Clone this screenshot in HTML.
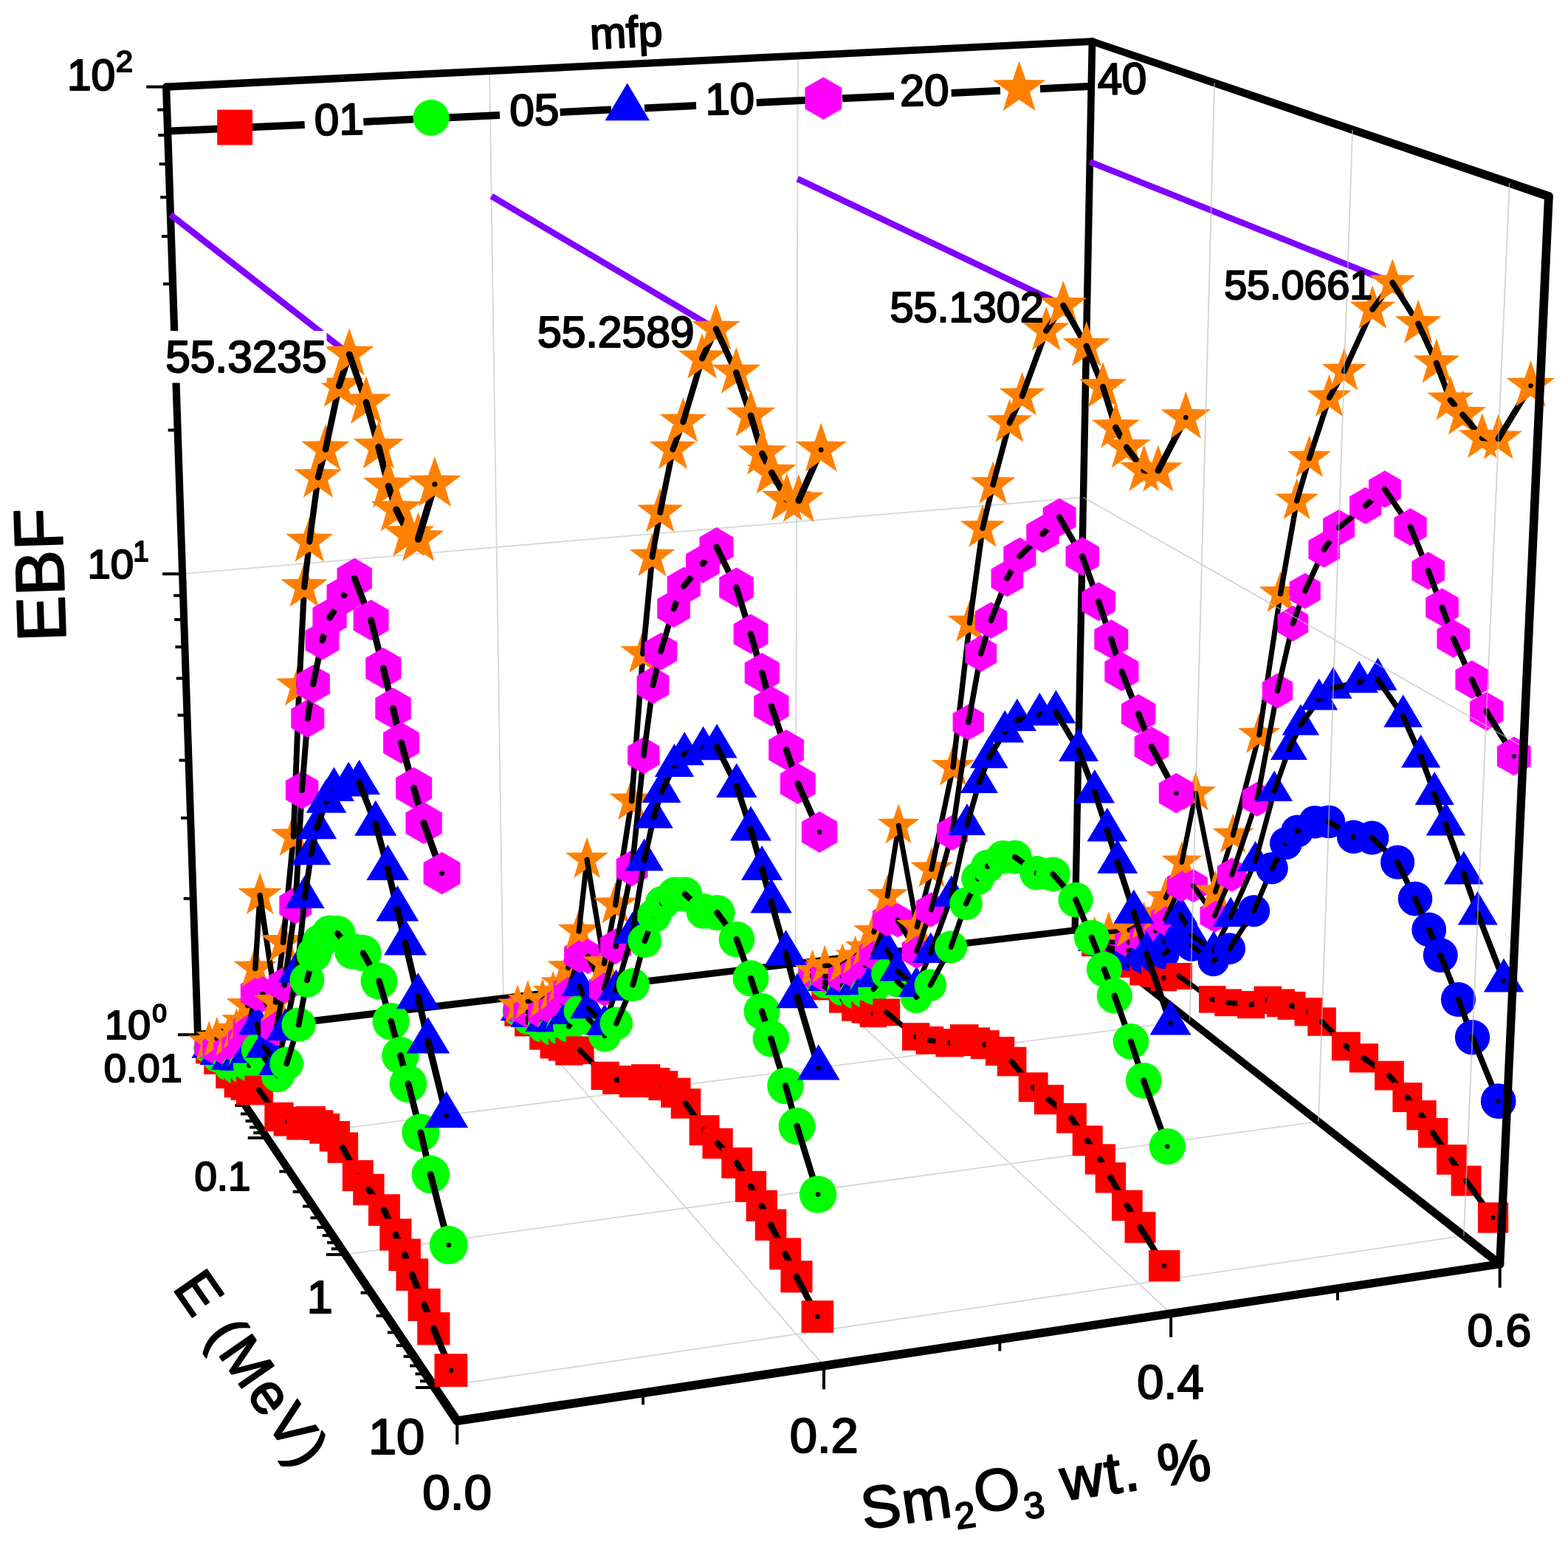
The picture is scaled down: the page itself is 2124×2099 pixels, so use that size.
<!DOCTYPE html>
<html><head><meta charset="utf-8"><title>EBF</title>
<style>html,body{margin:0;padding:0;background:#fff;overflow:hidden}svg{display:block}text{font-family:"Liberation Sans",Arial,sans-serif;fill:#000;stroke:#000;stroke-width:2.2px;stroke-linejoin:round}</style></head>
<body><svg width="2124" height="2099" viewBox="0 0 2124 2099">
<rect width="2124" height="2099" fill="#fff"/>
<line x1="681.8" y1="1351.9" x2="663.1" y2="96.1" stroke="#d6d6d6" stroke-width="1.8" stroke-linecap="butt"/>
<line x1="681.8" y1="1351.9" x2="1116" y2="1849.4" stroke="#d6d6d6" stroke-width="1.8" stroke-linecap="butt"/>
<line x1="1077.5" y1="1304.8" x2="1080.8" y2="75.6" stroke="#d6d6d6" stroke-width="1.8" stroke-linecap="butt"/>
<line x1="1077.5" y1="1304.8" x2="1586.1" y2="1778.8" stroke="#d6d6d6" stroke-width="1.8" stroke-linecap="butt"/>
<line x1="361.7" y1="1540.9" x2="1611.6" y2="1381.9" stroke="#d6d6d6" stroke-width="1.8" stroke-linecap="butt"/>
<line x1="1611.6" y1="1381.9" x2="1645.1" y2="112.3" stroke="#d6d6d6" stroke-width="1.8" stroke-linecap="butt"/>
<line x1="467.9" y1="1698.9" x2="1785.9" y2="1518.8" stroke="#d6d6d6" stroke-width="1.8" stroke-linecap="butt"/>
<line x1="1785.9" y1="1518.8" x2="1832.1" y2="175.7" stroke="#d6d6d6" stroke-width="1.8" stroke-linecap="butt"/>
<line x1="588.9" y1="1879" x2="1982.8" y2="1673.4" stroke="#d6d6d6" stroke-width="1.8" stroke-linecap="butt"/>
<line x1="1982.8" y1="1673.4" x2="2044.8" y2="247.8" stroke="#d6d6d6" stroke-width="1.8" stroke-linecap="butt"/>
<line x1="247.1" y1="777.2" x2="1467.5" y2="673.5" stroke="#d6d6d6" stroke-width="1.8" stroke-linecap="butt"/>
<line x1="1467.5" y1="673.5" x2="2063.8" y2="1011.6" stroke="#d6d6d6" stroke-width="1.8" stroke-linecap="butt"/>
<polygon points="220,117.8 263,1401.3 272.8,1401 230.3,117.4" fill="#000"/>
<circle cx="225.2" cy="117.6" r="5.2" fill="#000"/><circle cx="267.9" cy="1401.2" r="4.9" fill="#000"/>
<polygon points="225.4,122.8 1479.7,60.9 1479.2,51.3 224.9,112.4" fill="#000"/>
<circle cx="225.2" cy="117.6" r="5.2" fill="#000"/><circle cx="1479.5" cy="56.1" r="4.8" fill="#000"/>
<polygon points="1474.6,56 1451.5,1259.7 1460.7,1259.9 1484.3,56.2" fill="#000"/>
<circle cx="1479.5" cy="56.1" r="4.8" fill="#000"/><circle cx="1456.1" cy="1259.8" r="4.6" fill="#000"/>
<polygon points="268.5,1406 1456.6,1264.3 1455.6,1255.2 267.3,1396.3" fill="#000"/>
<circle cx="267.9" cy="1401.2" r="4.9" fill="#000"/><circle cx="1456.1" cy="1259.8" r="4.6" fill="#000"/>
<polygon points="1477.9,60.7 2096,271.4 2099.8,260.2 1481,51.5" fill="#000"/>
<circle cx="1479.5" cy="56.1" r="4.8" fill="#000"/><circle cx="2097.9" cy="265.8" r="5.9" fill="#000"/>
<polygon points="1453.3,1263.4 2028.3,1716.2 2035.1,1707.4 1458.9,1256.2" fill="#000"/>
<circle cx="1456.1" cy="1259.8" r="4.6" fill="#000"/><circle cx="2031.7" cy="1711.8" r="5.6" fill="#000"/>
<polygon points="620.1,1930.1 2032.5,1717.3 2030.9,1706.3 618.3,1918.2" fill="#000"/>
<circle cx="619.2" cy="1924.1" r="6" fill="#000"/><circle cx="2031.7" cy="1711.8" r="5.6" fill="#000"/>
<polygon points="263.8,1403.9 614.2,1927.5 624.2,1920.7 271.9,1398.4" fill="#000"/>
<circle cx="267.9" cy="1401.2" r="4.9" fill="#000"/><circle cx="619.2" cy="1924.1" r="6" fill="#000"/>
<line x1="264.9" y1="1401.2" x2="240.9" y2="1401.2" stroke="#000" stroke-width="4" stroke-linecap="butt"/>
<line x1="258.7" y1="1216.9" x2="248.7" y2="1216.9" stroke="#000" stroke-width="4" stroke-linecap="butt"/>
<line x1="255.1" y1="1107.7" x2="245.1" y2="1107.7" stroke="#000" stroke-width="4" stroke-linecap="butt"/>
<line x1="252.5" y1="1029.6" x2="242.5" y2="1029.6" stroke="#000" stroke-width="4" stroke-linecap="butt"/>
<line x1="250.5" y1="968.6" x2="240.5" y2="968.6" stroke="#000" stroke-width="4" stroke-linecap="butt"/>
<line x1="248.8" y1="918.6" x2="238.8" y2="918.6" stroke="#000" stroke-width="4" stroke-linecap="butt"/>
<line x1="247.4" y1="876.1" x2="237.4" y2="876.1" stroke="#000" stroke-width="4" stroke-linecap="butt"/>
<line x1="246.2" y1="839.1" x2="236.2" y2="839.1" stroke="#000" stroke-width="4" stroke-linecap="butt"/>
<line x1="245.1" y1="806.5" x2="235.1" y2="806.5" stroke="#000" stroke-width="4" stroke-linecap="butt"/>
<line x1="244.1" y1="777.2" x2="220.1" y2="777.2" stroke="#000" stroke-width="4" stroke-linecap="butt"/>
<line x1="237.6" y1="582.5" x2="227.6" y2="582.5" stroke="#000" stroke-width="4" stroke-linecap="butt"/>
<line x1="233.8" y1="467.1" x2="223.8" y2="467.1" stroke="#000" stroke-width="4" stroke-linecap="butt"/>
<line x1="231" y1="384.5" x2="221" y2="384.5" stroke="#000" stroke-width="4" stroke-linecap="butt"/>
<line x1="228.9" y1="320.1" x2="218.9" y2="320.1" stroke="#000" stroke-width="4" stroke-linecap="butt"/>
<line x1="227.1" y1="267.1" x2="217.1" y2="267.1" stroke="#000" stroke-width="4" stroke-linecap="butt"/>
<line x1="225.6" y1="222.2" x2="215.6" y2="222.2" stroke="#000" stroke-width="4" stroke-linecap="butt"/>
<line x1="224.3" y1="183.1" x2="214.3" y2="183.1" stroke="#000" stroke-width="4" stroke-linecap="butt"/>
<line x1="223.2" y1="148.6" x2="213.2" y2="148.6" stroke="#000" stroke-width="4" stroke-linecap="butt"/>
<line x1="222.2" y1="117.6" x2="198.2" y2="117.6" stroke="#000" stroke-width="4" stroke-linecap="butt"/>
<line x1="293" y1="1441.5" x2="281" y2="1441.5" stroke="#000" stroke-width="4" stroke-linecap="butt"/>
<line x1="309.3" y1="1465.7" x2="297.3" y2="1465.7" stroke="#000" stroke-width="4" stroke-linecap="butt"/>
<line x1="321" y1="1483.3" x2="309" y2="1483.3" stroke="#000" stroke-width="4" stroke-linecap="butt"/>
<line x1="330.3" y1="1497" x2="318.3" y2="1497" stroke="#000" stroke-width="4" stroke-linecap="butt"/>
<line x1="337.9" y1="1508.4" x2="325.9" y2="1508.4" stroke="#000" stroke-width="4" stroke-linecap="butt"/>
<line x1="344.5" y1="1518.1" x2="332.5" y2="1518.1" stroke="#000" stroke-width="4" stroke-linecap="butt"/>
<line x1="350.1" y1="1526.6" x2="338.1" y2="1526.6" stroke="#000" stroke-width="4" stroke-linecap="butt"/>
<line x1="355.2" y1="1534.1" x2="343.2" y2="1534.1" stroke="#000" stroke-width="4" stroke-linecap="butt"/>
<line x1="359.7" y1="1540.9" x2="335.7" y2="1540.9" stroke="#000" stroke-width="4" stroke-linecap="butt"/>
<line x1="390.3" y1="1586.4" x2="378.3" y2="1586.4" stroke="#000" stroke-width="4" stroke-linecap="butt"/>
<line x1="408.7" y1="1613.8" x2="396.7" y2="1613.8" stroke="#000" stroke-width="4" stroke-linecap="butt"/>
<line x1="422" y1="1633.6" x2="410" y2="1633.6" stroke="#000" stroke-width="4" stroke-linecap="butt"/>
<line x1="432.5" y1="1649.2" x2="420.5" y2="1649.2" stroke="#000" stroke-width="4" stroke-linecap="butt"/>
<line x1="441.2" y1="1662.1" x2="429.2" y2="1662.1" stroke="#000" stroke-width="4" stroke-linecap="butt"/>
<line x1="448.6" y1="1673.1" x2="436.6" y2="1673.1" stroke="#000" stroke-width="4" stroke-linecap="butt"/>
<line x1="455" y1="1682.7" x2="443" y2="1682.7" stroke="#000" stroke-width="4" stroke-linecap="butt"/>
<line x1="460.7" y1="1691.2" x2="448.7" y2="1691.2" stroke="#000" stroke-width="4" stroke-linecap="butt"/>
<line x1="465.9" y1="1698.9" x2="441.9" y2="1698.9" stroke="#000" stroke-width="4" stroke-linecap="butt"/>
<line x1="500.6" y1="1750.6" x2="488.6" y2="1750.6" stroke="#000" stroke-width="4" stroke-linecap="butt"/>
<line x1="521.6" y1="1781.8" x2="509.6" y2="1781.8" stroke="#000" stroke-width="4" stroke-linecap="butt"/>
<line x1="536.8" y1="1804.4" x2="524.8" y2="1804.4" stroke="#000" stroke-width="4" stroke-linecap="butt"/>
<line x1="548.7" y1="1822.2" x2="536.7" y2="1822.2" stroke="#000" stroke-width="4" stroke-linecap="butt"/>
<line x1="558.6" y1="1836.9" x2="546.6" y2="1836.9" stroke="#000" stroke-width="4" stroke-linecap="butt"/>
<line x1="567.1" y1="1849.5" x2="555.1" y2="1849.5" stroke="#000" stroke-width="4" stroke-linecap="butt"/>
<line x1="574.5" y1="1860.5" x2="562.5" y2="1860.5" stroke="#000" stroke-width="4" stroke-linecap="butt"/>
<line x1="581" y1="1870.3" x2="569" y2="1870.3" stroke="#000" stroke-width="4" stroke-linecap="butt"/>
<line x1="586.9" y1="1879" x2="562.9" y2="1879" stroke="#000" stroke-width="4" stroke-linecap="butt"/>
<line x1="619.2" y1="1924.1" x2="619.2" y2="1956.1" stroke="#000" stroke-width="4" stroke-linecap="butt"/>
<line x1="871.1" y1="1886.3" x2="871.1" y2="1902.3" stroke="#000" stroke-width="4" stroke-linecap="butt"/>
<line x1="1116" y1="1849.4" x2="1116" y2="1881.4" stroke="#000" stroke-width="4" stroke-linecap="butt"/>
<line x1="1354.3" y1="1813.6" x2="1354.3" y2="1829.6" stroke="#000" stroke-width="4" stroke-linecap="butt"/>
<line x1="1586.1" y1="1778.8" x2="1586.1" y2="1810.8" stroke="#000" stroke-width="4" stroke-linecap="butt"/>
<line x1="1811.9" y1="1744.8" x2="1811.9" y2="1760.8" stroke="#000" stroke-width="4" stroke-linecap="butt"/>
<line x1="2031.7" y1="1711.8" x2="2031.7" y2="1743.8" stroke="#000" stroke-width="4" stroke-linecap="butt"/>
<line x1="230.9" y1="290.7" x2="473.1" y2="479.8" stroke="#8000ff" stroke-width="8.5" stroke-linecap="butt"/>
<line x1="665.7" y1="265.7" x2="970" y2="445.6" stroke="#8000ff" stroke-width="8.5" stroke-linecap="butt"/>
<line x1="1080.3" y1="242.1" x2="1440.3" y2="413.6" stroke="#8000ff" stroke-width="8.5" stroke-linecap="butt"/>
<line x1="1476.3" y1="219.2" x2="1886.3" y2="382.9" stroke="#8000ff" stroke-width="8.5" stroke-linecap="butt"/>
<g id="data">
<rect x="1465.1" y="1260.6" width="34.5" height="34.5" fill="#ff0000"/><circle cx="1482.3" cy="1277.8" r="2.5" fill="#000"/>
<circle cx="1482.3" cy="1275.4" r="19.8" fill="#0000ff"/><circle cx="1482.3" cy="1275.4" r="2.6" fill="#000"/>
<polygon points="1482.3,1250.2 1504.8,1287.9 1459.9,1287.9" fill="#0000ff"/><circle cx="1482.3" cy="1275.4" r="2.6" fill="#000"/>
<polygon points="1482.4,1251.4 1501,1262.2 1501,1283.7 1482.4,1294.4 1463.8,1283.7 1463.8,1262.2" fill="#ff00ff"/><circle cx="1482.4" cy="1272.9" r="2.6" fill="#000"/>
<polygon points="1482.5,1240.7 1488.9,1259.2 1508.5,1259.6 1492.9,1271.5 1498.6,1290.3 1482.5,1279.1 1466.4,1290.3 1472.1,1271.5 1456.4,1259.6 1476,1259.2" fill="#ff8000"/><circle cx="1482.5" cy="1268.1" r="2.6" fill="#000"/>
<line x1="1482.3" y1="1277.8" x2="1501.2" y2="1290.1" stroke="#000" stroke-width="6.2" stroke-linecap="round"/>
<line x1="1482.3" y1="1275.4" x2="1501.3" y2="1285.2" stroke="#000" stroke-width="6.2" stroke-linecap="round"/>
<line x1="1482.3" y1="1275.4" x2="1501.4" y2="1282.8" stroke="#000" stroke-width="6.2" stroke-linecap="round"/>
<line x1="1482.4" y1="1272.9" x2="1501.5" y2="1275.7" stroke="#000" stroke-width="6.2" stroke-linecap="round"/>
<line x1="1482.5" y1="1268.1" x2="1501.8" y2="1262.1" stroke="#000" stroke-width="6.2" stroke-linecap="round"/>
<rect x="1483.8" y="1272.8" width="34.7" height="34.7" fill="#ff0000"/><circle cx="1501.2" cy="1290.1" r="2.6" fill="#000"/>
<circle cx="1501.3" cy="1285.2" r="20" fill="#0000ff"/><circle cx="1501.3" cy="1285.2" r="2.6" fill="#000"/>
<polygon points="1501.4,1257.5 1524,1295.5 1478.8,1295.5" fill="#0000ff"/><circle cx="1501.4" cy="1282.8" r="2.6" fill="#000"/>
<polygon points="1501.5,1254.1 1520.3,1264.9 1520.3,1286.5 1501.5,1297.4 1482.8,1286.5 1482.8,1264.9" fill="#ff00ff"/><circle cx="1501.5" cy="1275.7" r="2.6" fill="#000"/>
<polygon points="1501.8,1234.5 1508.3,1253.1 1528.1,1253.5 1512.3,1265.5 1518,1284.4 1501.8,1273.1 1485.6,1284.4 1491.3,1265.5 1475.5,1253.5 1495.3,1253.1" fill="#ff8000"/><circle cx="1501.8" cy="1262.1" r="2.6" fill="#000"/>
<line x1="1501.2" y1="1290.1" x2="1528.3" y2="1306.4" stroke="#000" stroke-width="6.3" stroke-linecap="round"/>
<line x1="1501.3" y1="1285.2" x2="1528.6" y2="1294.4" stroke="#000" stroke-width="6.3" stroke-linecap="round"/>
<line x1="1501.4" y1="1282.8" x2="1528.8" y2="1287.5" stroke="#000" stroke-width="6.3" stroke-linecap="round"/>
<line x1="1501.5" y1="1275.7" x2="1529" y2="1276.4" stroke="#000" stroke-width="6.3" stroke-linecap="round"/>
<line x1="1501.8" y1="1262.1" x2="1529.4" y2="1259.5" stroke="#000" stroke-width="6.3" stroke-linecap="round"/>
<rect x="1510.8" y="1288.8" width="35.1" height="35.1" fill="#ff0000"/><circle cx="1528.3" cy="1306.4" r="2.6" fill="#000"/>
<circle cx="1528.6" cy="1294.4" r="20.2" fill="#0000ff"/><circle cx="1528.6" cy="1294.4" r="2.6" fill="#000"/>
<polygon points="1528.8,1261.9 1551.6,1300.3 1505.9,1300.3" fill="#0000ff"/><circle cx="1528.8" cy="1287.5" r="2.6" fill="#000"/>
<polygon points="1529,1254.5 1548,1265.4 1548,1287.3 1529,1298.3 1510.1,1287.3 1510.1,1265.4" fill="#ff00ff"/><circle cx="1529" cy="1276.4" r="2.6" fill="#000"/>
<polygon points="1529.4,1231.6 1536,1250.5 1555.9,1250.9 1540,1262.9 1545.8,1282.1 1529.4,1270.7 1513,1282.1 1518.8,1262.9 1502.9,1250.9 1522.8,1250.5" fill="#ff8000"/><circle cx="1529.4" cy="1259.5" r="2.6" fill="#000"/>
<line x1="1528.3" y1="1306.4" x2="1548" y2="1316.7" stroke="#000" stroke-width="6.4" stroke-linecap="round"/>
<line x1="1528.6" y1="1294.4" x2="1548.4" y2="1298.1" stroke="#000" stroke-width="6.4" stroke-linecap="round"/>
<line x1="1528.8" y1="1287.5" x2="1548.7" y2="1287.1" stroke="#000" stroke-width="6.4" stroke-linecap="round"/>
<rect x="1082.9" y="1306.1" width="35.2" height="35.2" fill="#ff0000"/><circle cx="1100.5" cy="1323.7" r="2.6" fill="#000"/>
<circle cx="1100.5" cy="1321.2" r="20.3" fill="#00ff00"/><circle cx="1100.5" cy="1321.2" r="2.6" fill="#000"/>
<polygon points="1100.5,1295.5 1123.4,1334 1077.6,1334" fill="#0000ff"/><circle cx="1100.5" cy="1321.2" r="2.6" fill="#000"/>
<line x1="1529" y1="1276.4" x2="1549.1" y2="1270.4" stroke="#000" stroke-width="6.4" stroke-linecap="round"/>
<polygon points="1100.5,1296.7 1119.5,1307.7 1119.5,1329.7 1100.5,1340.7 1081.5,1329.7 1081.5,1307.7" fill="#ff00ff"/><circle cx="1100.5" cy="1318.7" r="2.6" fill="#000"/>
<polygon points="1100.5,1285.8 1107.1,1304.7 1127.2,1305.1 1111.2,1317.3 1117,1336.5 1100.5,1325 1084.1,1336.5 1089.9,1317.3 1073.9,1305.1 1093.9,1304.7" fill="#ff8000"/><circle cx="1100.5" cy="1313.8" r="2.6" fill="#000"/>
<line x1="1529.4" y1="1259.5" x2="1549.6" y2="1249" stroke="#000" stroke-width="6.4" stroke-linecap="round"/>
<rect x="1530.3" y="1299.1" width="35.3" height="35.3" fill="#ff0000"/><circle cx="1548" cy="1316.7" r="2.6" fill="#000"/>
<circle cx="1548.4" cy="1298.1" r="20.3" fill="#0000ff"/><circle cx="1548.4" cy="1298.1" r="2.6" fill="#000"/>
<polygon points="1548.7,1261.3 1571.7,1300 1525.6,1300" fill="#0000ff"/><circle cx="1548.7" cy="1287.1" r="2.6" fill="#000"/>
<line x1="1100.5" y1="1323.7" x2="1117.1" y2="1336.6" stroke="#000" stroke-width="6.4" stroke-linecap="round"/>
<line x1="1100.5" y1="1321.2" x2="1117.1" y2="1331.6" stroke="#000" stroke-width="6.4" stroke-linecap="round"/>
<line x1="1100.5" y1="1321.2" x2="1117.1" y2="1329.2" stroke="#000" stroke-width="6.4" stroke-linecap="round"/>
<line x1="1100.5" y1="1318.7" x2="1117.2" y2="1321.9" stroke="#000" stroke-width="6.4" stroke-linecap="round"/>
<polygon points="1549.1,1248.3 1568.2,1259.3 1568.2,1281.4 1549.1,1292.4 1530,1281.4 1530,1259.3" fill="#ff00ff"/><circle cx="1549.1" cy="1270.4" r="2.6" fill="#000"/>
<line x1="1100.5" y1="1313.8" x2="1117.2" y2="1308" stroke="#000" stroke-width="6.4" stroke-linecap="round"/>
<line x1="1548" y1="1316.7" x2="1563.5" y2="1319.2" stroke="#000" stroke-width="6.4" stroke-linecap="round"/>
<polygon points="1549.6,1220.8 1556.2,1239.9 1576.3,1240.3 1560.3,1252.5 1566.1,1271.7 1549.6,1260.2 1533,1271.7 1538.8,1252.5 1522.8,1240.3 1542.9,1239.9" fill="#ff8000"/><circle cx="1549.6" cy="1249" r="2.6" fill="#000"/>
<line x1="1548.4" y1="1298.1" x2="1564.1" y2="1296.7" stroke="#000" stroke-width="6.4" stroke-linecap="round"/>
<line x1="1548.7" y1="1287.1" x2="1564.3" y2="1286.2" stroke="#000" stroke-width="6.4" stroke-linecap="round"/>
<rect x="1099.3" y="1318.9" width="35.5" height="35.5" fill="#ff0000"/><circle cx="1117.1" cy="1336.6" r="2.6" fill="#000"/>
<circle cx="1117.1" cy="1331.6" r="20.4" fill="#00ff00"/><circle cx="1117.1" cy="1331.6" r="2.6" fill="#000"/>
<line x1="1549.1" y1="1270.4" x2="1564.9" y2="1260.6" stroke="#000" stroke-width="6.4" stroke-linecap="round"/>
<polygon points="1117.1,1303.3 1140.2,1342.1 1094,1342.1" fill="#0000ff"/><circle cx="1117.1" cy="1329.2" r="2.6" fill="#000"/>
<polygon points="1117.2,1299.8 1136.3,1310.9 1136.3,1333 1117.2,1344.1 1098,1333 1098,1310.9" fill="#ff00ff"/><circle cx="1117.2" cy="1321.9" r="2.6" fill="#000"/>
<rect x="1545.8" y="1301.4" width="35.5" height="35.5" fill="#ff0000"/><circle cx="1563.5" cy="1319.2" r="2.6" fill="#000"/>
<line x1="1549.6" y1="1249" x2="1565.5" y2="1237.3" stroke="#000" stroke-width="6.5" stroke-linecap="round"/>
<polygon points="1117.2,1279.8 1123.9,1298.9 1144.1,1299.3 1128,1311.5 1133.8,1330.8 1117.2,1319.3 1100.6,1330.8 1106.5,1311.5 1090.4,1299.3 1110.6,1298.9" fill="#ff8000"/><circle cx="1117.2" cy="1308" r="2.6" fill="#000"/>
<circle cx="1564.1" cy="1296.7" r="20.5" fill="#0000ff"/><circle cx="1564.1" cy="1296.7" r="2.6" fill="#000"/>
<polygon points="1564.3,1260.3 1587.5,1299.1 1541.2,1299.1" fill="#0000ff"/><circle cx="1564.3" cy="1286.2" r="2.6" fill="#000"/>
<line x1="1563.5" y1="1319.2" x2="1576.3" y2="1324.3" stroke="#000" stroke-width="6.5" stroke-linecap="round"/>
<polygon points="1564.9,1238.4 1584.2,1249.5 1584.2,1271.7 1564.9,1282.8 1545.7,1271.7 1545.7,1249.5" fill="#ff00ff"/><circle cx="1564.9" cy="1260.6" r="2.6" fill="#000"/>
<line x1="1564.1" y1="1296.7" x2="1577.1" y2="1291.8" stroke="#000" stroke-width="6.5" stroke-linecap="round"/>
<polygon points="1565.5,1208.9 1572.2,1228.1 1592.4,1228.5 1576.3,1240.8 1582.1,1260.2 1565.5,1248.6 1548.8,1260.2 1554.7,1240.8 1538.6,1228.5 1558.8,1228.1" fill="#ff8000"/><circle cx="1565.5" cy="1237.3" r="2.6" fill="#000"/>
<line x1="1564.3" y1="1286.2" x2="1577.5" y2="1275.9" stroke="#000" stroke-width="6.5" stroke-linecap="round"/>
<line x1="1117.1" y1="1336.6" x2="1140.9" y2="1353.7" stroke="#000" stroke-width="6.5" stroke-linecap="round"/>
<line x1="1117.1" y1="1331.6" x2="1141" y2="1341.5" stroke="#000" stroke-width="6.5" stroke-linecap="round"/>
<rect x="1558.4" y="1306.5" width="35.7" height="35.7" fill="#ff0000"/><circle cx="1576.3" cy="1324.3" r="2.6" fill="#000"/>
<line x1="1117.1" y1="1329.2" x2="1141" y2="1334.5" stroke="#000" stroke-width="6.5" stroke-linecap="round"/>
<line x1="1117.2" y1="1321.9" x2="1141.1" y2="1323.1" stroke="#000" stroke-width="6.5" stroke-linecap="round"/>
<line x1="1564.9" y1="1260.6" x2="1578.2" y2="1245" stroke="#000" stroke-width="6.5" stroke-linecap="round"/>
<line x1="1117.2" y1="1308" x2="1141.2" y2="1305.9" stroke="#000" stroke-width="6.5" stroke-linecap="round"/>
<circle cx="1577.1" cy="1291.8" r="20.6" fill="#0000ff"/><circle cx="1577.1" cy="1291.8" r="2.6" fill="#000"/>
<line x1="1565.5" y1="1237.3" x2="1579" y2="1215.8" stroke="#000" stroke-width="6.5" stroke-linecap="round"/>
<polygon points="1577.5,1249.8 1600.7,1288.9 1554.2,1288.9" fill="#0000ff"/><circle cx="1577.5" cy="1275.9" r="2.6" fill="#000"/>
<polygon points="1578.2,1222.7 1597.6,1233.9 1597.6,1256.2 1578.2,1267.4 1558.9,1256.2 1558.9,1233.9" fill="#ff00ff"/><circle cx="1578.2" cy="1245" r="2.6" fill="#000"/>
<line x1="1576.3" y1="1324.3" x2="1596.9" y2="1322" stroke="#000" stroke-width="6.5" stroke-linecap="round"/>
<rect x="1123" y="1335.8" width="35.9" height="35.9" fill="#ff0000"/><circle cx="1140.9" cy="1353.7" r="2.7" fill="#000"/>
<polygon points="1579,1187.4 1585.7,1206.6 1606.1,1207 1589.8,1219.4 1595.7,1238.9 1579,1227.2 1562.2,1238.9 1568.1,1219.4 1551.9,1207 1572.3,1206.6" fill="#ff8000"/><circle cx="1579" cy="1215.8" r="2.7" fill="#000"/>
<circle cx="1141" cy="1341.5" r="20.6" fill="#00ff00"/><circle cx="1141" cy="1341.5" r="2.7" fill="#000"/>
<polygon points="1141,1308.3 1164.4,1347.5 1117.7,1347.5" fill="#0000ff"/><circle cx="1141" cy="1334.5" r="2.7" fill="#000"/>
<line x1="1577.1" y1="1291.8" x2="1598.3" y2="1270.7" stroke="#000" stroke-width="6.5" stroke-linecap="round"/>
<polygon points="1141.1,1300.7 1160.5,1311.9 1160.5,1334.3 1141.1,1345.5 1121.7,1334.3 1121.7,1311.9" fill="#ff00ff"/><circle cx="1141.1" cy="1323.1" r="2.7" fill="#000"/>
<polygon points="1141.2,1277.3 1147.9,1296.6 1168.3,1297.1 1152,1309.4 1158,1329 1141.2,1317.3 1124.4,1329 1130.3,1309.4 1114,1297.1 1134.5,1296.6" fill="#ff8000"/><circle cx="1141.2" cy="1305.9" r="2.7" fill="#000"/>
<line x1="1577.5" y1="1275.9" x2="1599.1" y2="1238.6" stroke="#000" stroke-width="6.6" stroke-linecap="round"/>
<rect x="1579" y="1304" width="36" height="36" fill="#ff0000"/><circle cx="1596.9" cy="1322" r="2.7" fill="#000"/>
<line x1="1140.9" y1="1353.7" x2="1158.1" y2="1364.7" stroke="#000" stroke-width="6.6" stroke-linecap="round"/>
<line x1="1578.2" y1="1245" x2="1600.1" y2="1198.8" stroke="#000" stroke-width="6.6" stroke-linecap="round"/>
<line x1="1141" y1="1341.5" x2="1158.2" y2="1345.6" stroke="#000" stroke-width="6.6" stroke-linecap="round"/>
<line x1="1141" y1="1334.5" x2="1158.3" y2="1334.4" stroke="#000" stroke-width="6.6" stroke-linecap="round"/>
<line x1="1579" y1="1215.8" x2="1600.9" y2="1167.7" stroke="#000" stroke-width="6.6" stroke-linecap="round"/>
<rect x="683.3" y="1353.7" width="36" height="36" fill="#ff0000"/><circle cx="701.3" cy="1371.7" r="2.7" fill="#000"/>
<circle cx="701.3" cy="1369.1" r="20.7" fill="#00ff00"/><circle cx="701.3" cy="1369.1" r="2.7" fill="#000"/>
<polygon points="701.3,1342.9 724.7,1382.3 677.8,1382.3" fill="#0000ff"/><circle cx="701.3" cy="1369.1" r="2.7" fill="#000"/>
<line x1="1141.1" y1="1323.1" x2="1158.4" y2="1317.3" stroke="#000" stroke-width="6.6" stroke-linecap="round"/>
<polygon points="701.2,1344.1 720.7,1355.4 720.7,1377.8 701.2,1389.1 681.8,1377.8 681.8,1355.4" fill="#ff00ff"/><circle cx="701.2" cy="1366.6" r="2.7" fill="#000"/>
<circle cx="1598.3" cy="1270.7" r="20.7" fill="#0000ff"/><circle cx="1598.3" cy="1270.7" r="2.7" fill="#000"/>
<polygon points="701.2,1332.9 707.9,1352.3 728.4,1352.7 712.1,1365.1 718,1384.8 701.2,1373 684.3,1384.8 690.3,1365.1 673.9,1352.7 694.4,1352.3" fill="#ff8000"/><circle cx="701.2" cy="1361.6" r="2.7" fill="#000"/>
<line x1="1141.2" y1="1305.9" x2="1158.6" y2="1295.5" stroke="#000" stroke-width="6.6" stroke-linecap="round"/>
<polygon points="1599.1,1212.3 1622.6,1251.8 1575.6,1251.8" fill="#0000ff"/><circle cx="1599.1" cy="1238.6" r="2.7" fill="#000"/>
<rect x="1140.1" y="1346.6" width="36.1" height="36.1" fill="#ff0000"/><circle cx="1158.1" cy="1364.7" r="2.7" fill="#000"/>
<circle cx="1158.2" cy="1345.6" r="20.8" fill="#00ff00"/><circle cx="1158.2" cy="1345.6" r="2.7" fill="#000"/>
<line x1="1598.3" y1="1270.7" x2="1614.2" y2="1280.9" stroke="#000" stroke-width="6.6" stroke-linecap="round"/>
<polygon points="1600.1,1176.2 1619.6,1187.5 1619.6,1210 1600.1,1221.3 1580.6,1210 1580.6,1187.5" fill="#ff00ff"/><circle cx="1600.1" cy="1198.8" r="2.7" fill="#000"/>
<polygon points="1158.3,1308 1181.8,1347.6 1134.8,1347.6" fill="#0000ff"/><circle cx="1158.3" cy="1334.4" r="2.7" fill="#000"/>
<line x1="701.3" y1="1371.7" x2="715.4" y2="1385.3" stroke="#000" stroke-width="6.6" stroke-linecap="round"/>
<line x1="701.3" y1="1369.1" x2="715.3" y2="1380.2" stroke="#000" stroke-width="6.6" stroke-linecap="round"/>
<line x1="701.3" y1="1369.1" x2="715.3" y2="1377.7" stroke="#000" stroke-width="6.6" stroke-linecap="round"/>
<line x1="701.2" y1="1366.6" x2="715.2" y2="1370.3" stroke="#000" stroke-width="6.6" stroke-linecap="round"/>
<line x1="1599.1" y1="1238.6" x2="1614.6" y2="1266.9" stroke="#000" stroke-width="6.6" stroke-linecap="round"/>
<polygon points="1158.4,1294.8 1178,1306.1 1178,1328.6 1158.4,1339.9 1138.9,1328.6 1138.9,1306.1" fill="#ff00ff"/><circle cx="1158.4" cy="1317.3" r="2.7" fill="#000"/>
<line x1="701.2" y1="1361.6" x2="715" y2="1356" stroke="#000" stroke-width="6.6" stroke-linecap="round"/>
<polygon points="1600.9,1138.9 1607.7,1158.3 1628.3,1158.8 1611.9,1171.2 1617.8,1190.9 1600.9,1179.2 1584,1190.9 1590,1171.2 1573.5,1158.8 1594.1,1158.3" fill="#ff8000"/><circle cx="1600.9" cy="1167.7" r="2.7" fill="#000"/>
<line x1="1158.1" y1="1364.7" x2="1171.7" y2="1367.4" stroke="#000" stroke-width="6.6" stroke-linecap="round"/>
<polygon points="1158.6,1266.7 1165.3,1286.2 1185.9,1286.6 1169.5,1299.1 1175.5,1318.8 1158.6,1307 1141.6,1318.8 1147.6,1299.1 1131.2,1286.6 1151.8,1286.2" fill="#ff8000"/><circle cx="1158.6" cy="1295.5" r="2.7" fill="#000"/>
<line x1="1596.9" y1="1322" x2="1642.2" y2="1353.4" stroke="#000" stroke-width="6.6" stroke-linecap="round"/>
<circle cx="1614.2" cy="1280.9" r="20.9" fill="#0000ff"/><circle cx="1614.2" cy="1280.9" r="2.7" fill="#000"/>
<line x1="1158.2" y1="1345.6" x2="1171.8" y2="1344.5" stroke="#000" stroke-width="6.6" stroke-linecap="round"/>
<line x1="1600.1" y1="1198.8" x2="1616.4" y2="1199.5" stroke="#000" stroke-width="6.6" stroke-linecap="round"/>
<polygon points="1614.6,1240.5 1638.2,1280.1 1591,1280.1" fill="#0000ff"/><circle cx="1614.6" cy="1266.9" r="2.7" fill="#000"/>
<line x1="1158.3" y1="1334.4" x2="1171.9" y2="1333.8" stroke="#000" stroke-width="6.6" stroke-linecap="round"/>
<rect x="697.2" y="1367.1" width="36.3" height="36.3" fill="#ff0000"/><circle cx="715.4" cy="1385.3" r="2.7" fill="#000"/>
<circle cx="715.3" cy="1380.2" r="20.9" fill="#00ff00"/><circle cx="715.3" cy="1380.2" r="2.7" fill="#000"/>
<line x1="1158.4" y1="1317.3" x2="1172.1" y2="1307.6" stroke="#000" stroke-width="6.7" stroke-linecap="round"/>
<polygon points="715.3,1351.2 738.9,1390.9 691.6,1390.9" fill="#0000ff"/><circle cx="715.3" cy="1377.7" r="2.7" fill="#000"/>
<polygon points="715.2,1347.6 734.8,1358.9 734.8,1381.6 715.2,1392.9 695.6,1381.6 695.6,1358.9" fill="#ff00ff"/><circle cx="715.2" cy="1370.3" r="2.7" fill="#000"/>
<rect x="1153.5" y="1349.3" width="36.3" height="36.3" fill="#ff0000"/><circle cx="1171.7" cy="1367.4" r="2.7" fill="#000"/>
<line x1="1158.6" y1="1295.5" x2="1172.3" y2="1283.8" stroke="#000" stroke-width="6.7" stroke-linecap="round"/>
<polygon points="715,1327.2 721.8,1346.7 742.4,1347.1 726,1359.6 732,1379.4 715,1367.6 698,1379.4 704,1359.6 687.5,1347.1 708.2,1346.7" fill="#ff8000"/><circle cx="715" cy="1356" r="2.7" fill="#000"/>
<circle cx="1171.8" cy="1344.5" r="20.9" fill="#00ff00"/><circle cx="1171.8" cy="1344.5" r="2.7" fill="#000"/>
<polygon points="1616.4,1176.8 1636,1188.2 1636,1210.8 1616.4,1222.2 1596.7,1210.8 1596.7,1188.2" fill="#ff00ff"/><circle cx="1616.4" cy="1199.5" r="2.7" fill="#000"/>
<polygon points="1171.9,1307.2 1195.6,1347 1148.2,1347" fill="#0000ff"/><circle cx="1171.9" cy="1333.8" r="2.7" fill="#000"/>
<line x1="1600.9" y1="1167.7" x2="1619.7" y2="1074.2" stroke="#000" stroke-width="6.7" stroke-linecap="round"/>
<line x1="1171.7" y1="1367.4" x2="1182.9" y2="1372.9" stroke="#000" stroke-width="6.7" stroke-linecap="round"/>
<polygon points="1172.1,1284.9 1191.8,1296.3 1191.8,1319 1172.1,1330.4 1152.4,1319 1152.4,1296.3" fill="#ff00ff"/><circle cx="1172.1" cy="1307.6" r="2.7" fill="#000"/>
<line x1="1614.2" y1="1280.9" x2="1643.7" y2="1301.1" stroke="#000" stroke-width="6.7" stroke-linecap="round"/>
<line x1="1614.6" y1="1266.9" x2="1644.1" y2="1287.1" stroke="#000" stroke-width="6.7" stroke-linecap="round"/>
<line x1="1171.8" y1="1344.5" x2="1183.1" y2="1339.7" stroke="#000" stroke-width="6.7" stroke-linecap="round"/>
<polygon points="1172.3,1254.9 1179.1,1274.5 1199.8,1274.9 1183.3,1287.4 1189.3,1307.3 1172.3,1295.4 1155.2,1307.3 1161.2,1287.4 1144.7,1274.9 1165.4,1274.5" fill="#ff8000"/><circle cx="1172.3" cy="1283.8" r="2.7" fill="#000"/>
<line x1="1171.9" y1="1333.8" x2="1183.2" y2="1323.5" stroke="#000" stroke-width="6.7" stroke-linecap="round"/>
<line x1="715.4" y1="1385.3" x2="735.5" y2="1403.3" stroke="#000" stroke-width="6.7" stroke-linecap="round"/>
<line x1="715.3" y1="1380.2" x2="735.4" y2="1390.8" stroke="#000" stroke-width="6.7" stroke-linecap="round"/>
<rect x="1164.6" y="1354.7" width="36.5" height="36.5" fill="#ff0000"/><circle cx="1182.9" cy="1372.9" r="2.7" fill="#000"/>
<line x1="715.3" y1="1377.7" x2="735.3" y2="1383.6" stroke="#000" stroke-width="6.7" stroke-linecap="round"/>
<line x1="715.2" y1="1370.3" x2="735.1" y2="1372" stroke="#000" stroke-width="6.7" stroke-linecap="round"/>
<line x1="1172.1" y1="1307.6" x2="1183.5" y2="1292" stroke="#000" stroke-width="6.7" stroke-linecap="round"/>
<rect x="1624" y="1335.1" width="36.5" height="36.5" fill="#ff0000"/><circle cx="1642.2" cy="1353.4" r="2.7" fill="#000"/>
<line x1="1616.4" y1="1199.5" x2="1645.4" y2="1240.2" stroke="#000" stroke-width="6.7" stroke-linecap="round"/>
<line x1="715" y1="1356" x2="734.9" y2="1354.4" stroke="#000" stroke-width="6.7" stroke-linecap="round"/>
<circle cx="1183.1" cy="1339.7" r="21" fill="#00ff00"/><circle cx="1183.1" cy="1339.7" r="2.7" fill="#000"/>
<line x1="1172.3" y1="1283.8" x2="1183.7" y2="1262.2" stroke="#000" stroke-width="6.7" stroke-linecap="round"/>
<polygon points="1619.7,1045.1 1626.5,1064.8 1647.3,1065.2 1630.7,1077.8 1636.8,1097.7 1619.7,1085.8 1602.6,1097.7 1608.6,1077.8 1592,1065.2 1612.9,1064.8" fill="#ff8000"/><circle cx="1619.7" cy="1074.2" r="2.7" fill="#000"/>
<polygon points="1183.2,1296.8 1207,1336.8 1159.4,1336.8" fill="#0000ff"/><circle cx="1183.2" cy="1323.5" r="2.7" fill="#000"/>
<circle cx="1643.7" cy="1301.1" r="21.1" fill="#0000ff"/><circle cx="1643.7" cy="1301.1" r="2.7" fill="#000"/>
<polygon points="1183.5,1269.2 1203.2,1280.6 1203.2,1303.4 1183.5,1314.8 1163.7,1303.4 1163.7,1280.6" fill="#ff00ff"/><circle cx="1183.5" cy="1292" r="2.7" fill="#000"/>
<polygon points="1644.1,1260.4 1667.9,1300.5 1620.2,1300.5" fill="#0000ff"/><circle cx="1644.1" cy="1287.1" r="2.7" fill="#000"/>
<line x1="1182.9" y1="1372.9" x2="1200.8" y2="1370.9" stroke="#000" stroke-width="6.7" stroke-linecap="round"/>
<line x1="1619.7" y1="1074.2" x2="1646.3" y2="1207.7" stroke="#000" stroke-width="6.7" stroke-linecap="round"/>
<rect x="717.2" y="1384.9" width="36.7" height="36.7" fill="#ff0000"/><circle cx="735.5" cy="1403.3" r="2.7" fill="#000"/>
<line x1="1642.2" y1="1353.4" x2="1663.7" y2="1357.9" stroke="#000" stroke-width="6.7" stroke-linecap="round"/>
<polygon points="1183.7,1233 1190.5,1252.8 1211.4,1253.2 1194.8,1265.8 1200.8,1285.8 1183.7,1273.9 1166.5,1285.8 1172.6,1265.8 1156,1253.2 1176.8,1252.8" fill="#ff8000"/><circle cx="1183.7" cy="1262.2" r="2.7" fill="#000"/>
<circle cx="735.4" cy="1390.8" r="21.1" fill="#00ff00"/><circle cx="735.4" cy="1390.8" r="2.7" fill="#000"/>
<polygon points="735.3,1356.8 759.2,1397 711.4,1397" fill="#0000ff"/><circle cx="735.3" cy="1383.6" r="2.7" fill="#000"/>
<line x1="1183.1" y1="1339.7" x2="1201.2" y2="1318.6" stroke="#000" stroke-width="6.8" stroke-linecap="round"/>
<polygon points="1645.4,1217.3 1665.2,1228.7 1665.2,1251.6 1645.4,1263.1 1625.5,1251.6 1625.5,1228.7" fill="#ff00ff"/><circle cx="1645.4" cy="1240.2" r="2.7" fill="#000"/>
<polygon points="735.1,1349.1 755,1360.5 755,1383.4 735.1,1394.9 715.3,1383.4 715.3,1360.5" fill="#ff00ff"/><circle cx="735.1" cy="1372" r="2.7" fill="#000"/>
<polygon points="734.9,1325.2 741.8,1345 762.7,1345.4 746,1358 752.1,1378 734.9,1366.1 717.8,1378 723.8,1358 707.1,1345.4 728.1,1345" fill="#ff8000"/><circle cx="734.9" cy="1354.4" r="2.7" fill="#000"/>
<line x1="1183.2" y1="1323.5" x2="1201.5" y2="1285.8" stroke="#000" stroke-width="6.8" stroke-linecap="round"/>
<polygon points="1646.3,1178.5 1653.1,1198.3 1674.1,1198.7 1657.4,1211.3 1663.4,1231.4 1646.3,1219.4 1629.1,1231.4 1635.1,1211.3 1618.5,1198.7 1639.4,1198.3" fill="#ff8000"/><circle cx="1646.3" cy="1207.7" r="2.7" fill="#000"/>
<line x1="1643.7" y1="1301.1" x2="1665.8" y2="1284.6" stroke="#000" stroke-width="6.8" stroke-linecap="round"/>
<rect x="1182.4" y="1352.5" width="36.8" height="36.8" fill="#ff0000"/><circle cx="1200.8" cy="1370.9" r="2.7" fill="#000"/>
<line x1="735.5" y1="1403.3" x2="750.1" y2="1414.8" stroke="#000" stroke-width="6.8" stroke-linecap="round"/>
<line x1="1183.5" y1="1292" x2="1201.8" y2="1245.1" stroke="#000" stroke-width="6.8" stroke-linecap="round"/>
<rect x="1645.3" y="1339.4" width="36.8" height="36.8" fill="#ff0000"/><circle cx="1663.7" cy="1357.9" r="2.7" fill="#000"/>
<line x1="1644.1" y1="1287.1" x2="1667.1" y2="1241.6" stroke="#000" stroke-width="6.8" stroke-linecap="round"/>
<line x1="735.4" y1="1390.8" x2="749.9" y2="1395.4" stroke="#000" stroke-width="6.8" stroke-linecap="round"/>
<line x1="735.3" y1="1383.6" x2="749.7" y2="1383.9" stroke="#000" stroke-width="6.8" stroke-linecap="round"/>
<line x1="1183.7" y1="1262.2" x2="1202.1" y2="1213.4" stroke="#000" stroke-width="6.8" stroke-linecap="round"/>
<rect x="265.1" y="1403.5" width="36.9" height="36.9" fill="#ff0000"/><circle cx="283.5" cy="1421.9" r="2.7" fill="#000"/>
<circle cx="283.4" cy="1419.3" r="21.2" fill="#00ff00"/><circle cx="283.4" cy="1419.3" r="2.7" fill="#000"/>
<polygon points="283.4,1392.4 307.4,1432.7 259.4,1432.7" fill="#0000ff"/><circle cx="283.4" cy="1419.3" r="2.7" fill="#000"/>
<line x1="735.1" y1="1372" x2="749.5" y2="1366.5" stroke="#000" stroke-width="6.8" stroke-linecap="round"/>
<polygon points="283.4,1393.7 303.3,1405.2 303.3,1428.2 283.4,1439.7 263.4,1428.2 263.4,1405.2" fill="#ff00ff"/><circle cx="283.4" cy="1416.7" r="2.7" fill="#000"/>
<circle cx="1201.2" cy="1318.6" r="21.2" fill="#00ff00"/><circle cx="1201.2" cy="1318.6" r="2.7" fill="#000"/>
<polygon points="283.2,1382.3 290.1,1402.1 311.1,1402.5 294.3,1415.2 300.4,1435.3 283.2,1423.3 266,1435.3 272,1415.2 255.3,1402.5 276.3,1402.1" fill="#ff8000"/><circle cx="283.2" cy="1411.6" r="2.7" fill="#000"/>
<line x1="1645.4" y1="1240.2" x2="1668.7" y2="1184.7" stroke="#000" stroke-width="6.8" stroke-linecap="round"/>
<line x1="734.9" y1="1354.4" x2="749.2" y2="1344.2" stroke="#000" stroke-width="6.8" stroke-linecap="round"/>
<polygon points="1201.5,1258.9 1225.5,1299.3 1177.5,1299.3" fill="#0000ff"/><circle cx="1201.5" cy="1285.8" r="2.7" fill="#000"/>
<circle cx="1665.8" cy="1284.6" r="21.3" fill="#0000ff"/><circle cx="1665.8" cy="1284.6" r="2.7" fill="#000"/>
<rect x="731.6" y="1396.4" width="37" height="37" fill="#ff0000"/><circle cx="750.1" cy="1414.8" r="2.7" fill="#000"/>
<line x1="1646.3" y1="1207.7" x2="1670.2" y2="1130.9" stroke="#000" stroke-width="6.8" stroke-linecap="round"/>
<circle cx="749.9" cy="1395.4" r="21.3" fill="#00ff00"/><circle cx="749.9" cy="1395.4" r="2.7" fill="#000"/>
<line x1="1201.2" y1="1318.6" x2="1215.3" y2="1329.3" stroke="#000" stroke-width="6.8" stroke-linecap="round"/>
<polygon points="1201.8,1222 1221.8,1233.6 1221.8,1256.6 1201.8,1268.2 1181.9,1256.6 1181.9,1233.6" fill="#ff00ff"/><circle cx="1201.8" cy="1245.1" r="2.7" fill="#000"/>
<polygon points="749.7,1356.9 773.8,1397.4 725.6,1397.4" fill="#0000ff"/><circle cx="749.7" cy="1383.9" r="2.7" fill="#000"/>
<line x1="283.5" y1="1421.9" x2="294.8" y2="1436.2" stroke="#000" stroke-width="6.8" stroke-linecap="round"/>
<polygon points="1667.1,1214.6 1691.2,1255.1 1643,1255.1" fill="#0000ff"/><circle cx="1667.1" cy="1241.6" r="2.7" fill="#000"/>
<line x1="283.4" y1="1419.3" x2="294.6" y2="1431" stroke="#000" stroke-width="6.8" stroke-linecap="round"/>
<line x1="283.4" y1="1419.3" x2="294.5" y2="1428.4" stroke="#000" stroke-width="6.8" stroke-linecap="round"/>
<line x1="283.4" y1="1416.7" x2="294.3" y2="1420.8" stroke="#000" stroke-width="6.8" stroke-linecap="round"/>
<line x1="1201.5" y1="1285.8" x2="1215.4" y2="1315" stroke="#000" stroke-width="6.8" stroke-linecap="round"/>
<line x1="1663.7" y1="1357.9" x2="1694.7" y2="1360.6" stroke="#000" stroke-width="6.8" stroke-linecap="round"/>
<polygon points="749.5,1343.4 769.5,1355 769.5,1378 749.5,1389.6 729.5,1378 729.5,1355" fill="#ff00ff"/><circle cx="749.5" cy="1366.5" r="2.7" fill="#000"/>
<line x1="283.2" y1="1411.6" x2="293.8" y2="1406.3" stroke="#000" stroke-width="6.8" stroke-linecap="round"/>
<polygon points="1202.1,1183.9 1209,1203.8 1230.1,1204.3 1213.3,1217 1219.4,1237.2 1202.1,1225.1 1184.8,1237.2 1190.9,1217 1174.1,1204.3 1195.2,1203.8" fill="#ff8000"/><circle cx="1202.1" cy="1213.4" r="2.7" fill="#000"/>
<line x1="750.1" y1="1414.8" x2="761.5" y2="1418" stroke="#000" stroke-width="6.8" stroke-linecap="round"/>
<polygon points="749.2,1314.8 756.2,1334.7 777.3,1335.1 760.5,1347.9 766.6,1368 749.2,1356 731.9,1368 738,1347.9 721.2,1335.1 742.3,1334.7" fill="#ff8000"/><circle cx="749.2" cy="1344.2" r="2.7" fill="#000"/>
<line x1="1200.8" y1="1370.9" x2="1240.7" y2="1403.9" stroke="#000" stroke-width="6.9" stroke-linecap="round"/>
<circle cx="1215.3" cy="1329.3" r="21.3" fill="#00ff00"/><circle cx="1215.3" cy="1329.3" r="2.7" fill="#000"/>
<line x1="749.9" y1="1395.4" x2="761.2" y2="1394.6" stroke="#000" stroke-width="6.9" stroke-linecap="round"/>
<polygon points="1668.7,1161.5 1688.7,1173.1 1688.7,1196.2 1668.7,1207.8 1648.7,1196.2 1648.7,1173.1" fill="#ff00ff"/><circle cx="1668.7" cy="1184.7" r="2.7" fill="#000"/>
<line x1="1201.8" y1="1245.1" x2="1216" y2="1246.2" stroke="#000" stroke-width="6.9" stroke-linecap="round"/>
<polygon points="1215.4,1288 1239.6,1328.5 1191.3,1328.5" fill="#0000ff"/><circle cx="1215.4" cy="1315" r="2.7" fill="#000"/>
<line x1="749.7" y1="1383.9" x2="761.1" y2="1383.6" stroke="#000" stroke-width="6.9" stroke-linecap="round"/>
<rect x="276.2" y="1417.6" width="37.2" height="37.2" fill="#ff0000"/><circle cx="294.8" cy="1436.2" r="2.7" fill="#000"/>
<circle cx="294.6" cy="1431" r="21.4" fill="#00ff00"/><circle cx="294.6" cy="1431" r="2.7" fill="#000"/>
<line x1="749.5" y1="1366.5" x2="760.8" y2="1356.9" stroke="#000" stroke-width="6.9" stroke-linecap="round"/>
<polygon points="294.5,1401.3 318.7,1442 270.4,1442" fill="#0000ff"/><circle cx="294.5" cy="1428.4" r="2.7" fill="#000"/>
<polygon points="294.3,1397.7 314.4,1409.3 314.4,1432.4 294.3,1444 274.2,1432.4 274.2,1409.3" fill="#ff00ff"/><circle cx="294.3" cy="1420.8" r="2.8" fill="#000"/>
<rect x="742.9" y="1399.4" width="37.2" height="37.2" fill="#ff0000"/><circle cx="761.5" cy="1418" r="2.8" fill="#000"/>
<polygon points="1670.2,1101.4 1677.2,1121.4 1698.4,1121.8 1681.5,1134.6 1687.6,1154.8 1670.2,1142.8 1652.9,1154.8 1659,1134.6 1642.1,1121.8 1663.3,1121.4" fill="#ff8000"/><circle cx="1670.2" cy="1130.9" r="2.8" fill="#000"/>
<line x1="1665.8" y1="1284.6" x2="1698.6" y2="1233.5" stroke="#000" stroke-width="6.9" stroke-linecap="round"/>
<line x1="749.2" y1="1344.2" x2="760.5" y2="1332.6" stroke="#000" stroke-width="6.9" stroke-linecap="round"/>
<polygon points="293.8,1376.8 300.8,1396.8 322,1397.2 305.1,1410 311.2,1430.2 293.8,1418.2 276.5,1430.2 282.6,1410 265.7,1397.2 286.9,1396.8" fill="#ff8000"/><circle cx="293.8" cy="1406.3" r="2.8" fill="#000"/>
<circle cx="761.2" cy="1394.6" r="21.4" fill="#00ff00"/><circle cx="761.2" cy="1394.6" r="2.8" fill="#000"/>
<polygon points="1216,1223 1236.1,1234.6 1236.1,1257.8 1216,1269.4 1195.9,1257.8 1195.9,1234.6" fill="#ff00ff"/><circle cx="1216" cy="1246.2" r="2.8" fill="#000"/>
<polygon points="761.1,1356.5 785.3,1397.2 736.8,1397.2" fill="#0000ff"/><circle cx="761.1" cy="1383.6" r="2.8" fill="#000"/>
<rect x="1676.1" y="1342" width="37.2" height="37.2" fill="#ff0000"/><circle cx="1694.7" cy="1360.6" r="2.8" fill="#000"/>
<line x1="1202.1" y1="1213.4" x2="1217.2" y2="1118.1" stroke="#000" stroke-width="6.9" stroke-linecap="round"/>
<line x1="761.5" y1="1418" x2="770.9" y2="1423.9" stroke="#000" stroke-width="6.9" stroke-linecap="round"/>
<polygon points="760.8,1333.7 780.9,1345.3 780.9,1368.5 760.8,1380.2 740.6,1368.5 740.6,1345.3" fill="#ff00ff"/><circle cx="760.8" cy="1356.9" r="2.8" fill="#000"/>
<line x1="1667.1" y1="1241.6" x2="1700.6" y2="1166.3" stroke="#000" stroke-width="6.9" stroke-linecap="round"/>
<line x1="1215.3" y1="1329.3" x2="1241.2" y2="1350.5" stroke="#000" stroke-width="6.9" stroke-linecap="round"/>
<line x1="1215.4" y1="1315" x2="1241.4" y2="1336.2" stroke="#000" stroke-width="6.9" stroke-linecap="round"/>
<line x1="761.2" y1="1394.6" x2="770.5" y2="1389.9" stroke="#000" stroke-width="6.9" stroke-linecap="round"/>
<polygon points="760.5,1302.9 767.5,1323 788.7,1323.4 771.8,1336.3 777.9,1356.6 760.5,1344.5 743.1,1356.6 749.2,1336.3 732.3,1323.4 753.5,1323" fill="#ff8000"/><circle cx="760.5" cy="1332.6" r="2.8" fill="#000"/>
<line x1="761.1" y1="1383.6" x2="770.3" y2="1373.4" stroke="#000" stroke-width="6.9" stroke-linecap="round"/>
<line x1="294.8" y1="1436.2" x2="310.9" y2="1455.1" stroke="#000" stroke-width="6.9" stroke-linecap="round"/>
<line x1="294.6" y1="1431" x2="310.5" y2="1442.4" stroke="#000" stroke-width="6.9" stroke-linecap="round"/>
<rect x="752.2" y="1405.2" width="37.4" height="37.4" fill="#ff0000"/><circle cx="770.9" cy="1423.9" r="2.8" fill="#000"/>
<line x1="294.5" y1="1428.4" x2="310.3" y2="1435.1" stroke="#000" stroke-width="6.9" stroke-linecap="round"/>
<line x1="294.3" y1="1420.8" x2="309.9" y2="1423.2" stroke="#000" stroke-width="6.9" stroke-linecap="round"/>
<line x1="760.8" y1="1356.9" x2="770" y2="1341.2" stroke="#000" stroke-width="6.9" stroke-linecap="round"/>
<line x1="1694.7" y1="1360.6" x2="1717.4" y2="1354.4" stroke="#000" stroke-width="6.9" stroke-linecap="round"/>
<rect x="1222" y="1385.2" width="37.4" height="37.4" fill="#ff0000"/><circle cx="1240.7" cy="1403.9" r="2.8" fill="#000"/>
<line x1="1668.7" y1="1184.7" x2="1703.1" y2="1082.2" stroke="#000" stroke-width="6.9" stroke-linecap="round"/>
<line x1="1216" y1="1246.2" x2="1241.8" y2="1288.3" stroke="#000" stroke-width="6.9" stroke-linecap="round"/>
<line x1="293.8" y1="1406.3" x2="309.4" y2="1405.2" stroke="#000" stroke-width="6.9" stroke-linecap="round"/>
<circle cx="770.5" cy="1389.9" r="21.5" fill="#00ff00"/><circle cx="770.5" cy="1389.9" r="2.8" fill="#000"/>
<line x1="760.5" y1="1332.6" x2="769.6" y2="1310.7" stroke="#000" stroke-width="6.9" stroke-linecap="round"/>
<polygon points="1217.2,1088.4 1224.1,1108.5 1245.5,1108.9 1228.5,1121.8 1234.6,1142.2 1217.2,1130 1199.7,1142.2 1205.8,1121.8 1188.9,1108.9 1210.2,1108.5" fill="#ff8000"/><circle cx="1217.2" cy="1118.1" r="2.8" fill="#000"/>
<polygon points="770.3,1346.1 794.7,1387 746,1387" fill="#0000ff"/><circle cx="770.3" cy="1373.4" r="2.8" fill="#000"/>
<circle cx="1698.6" cy="1233.5" r="21.6" fill="#0000ff"/><circle cx="1698.6" cy="1233.5" r="2.8" fill="#000"/>
<circle cx="1241.2" cy="1350.5" r="21.6" fill="#00ff00"/><circle cx="1241.2" cy="1350.5" r="2.8" fill="#000"/>
<polygon points="770,1317.8 790.2,1329.5 790.2,1352.9 770,1364.6 749.7,1352.9 749.7,1329.5" fill="#ff00ff"/><circle cx="770" cy="1341.2" r="2.8" fill="#000"/>
<polygon points="1241.4,1308.8 1265.8,1349.9 1217,1349.9" fill="#0000ff"/><circle cx="1241.4" cy="1336.2" r="2.8" fill="#000"/>
<line x1="1670.2" y1="1130.9" x2="1705.7" y2="995.2" stroke="#000" stroke-width="7" stroke-linecap="round"/>
<line x1="770.9" y1="1423.9" x2="785.8" y2="1422.2" stroke="#000" stroke-width="7" stroke-linecap="round"/>
<line x1="1217.2" y1="1118.1" x2="1242.2" y2="1255.1" stroke="#000" stroke-width="7" stroke-linecap="round"/>
<rect x="292.2" y="1436.4" width="37.6" height="37.6" fill="#ff0000"/><circle cx="310.9" cy="1455.1" r="2.8" fill="#000"/>
<line x1="1240.7" y1="1403.9" x2="1259.5" y2="1408.9" stroke="#000" stroke-width="7" stroke-linecap="round"/>
<polygon points="769.6,1280.9 776.7,1301.1 798,1301.5 781,1314.4 787.2,1334.9 769.6,1322.7 752.1,1334.9 758.3,1314.4 741.3,1301.5 762.6,1301.1" fill="#ff8000"/><circle cx="769.6" cy="1310.7" r="2.8" fill="#000"/>
<rect x="1698.6" y="1335.6" width="37.6" height="37.6" fill="#ff0000"/><circle cx="1717.4" cy="1354.4" r="2.8" fill="#000"/>
<polygon points="1700.6,1138.9 1725,1180 1676.1,1180" fill="#0000ff"/><circle cx="1700.6" cy="1166.3" r="2.8" fill="#000"/>
<circle cx="310.5" cy="1442.4" r="21.6" fill="#00ff00"/><circle cx="310.5" cy="1442.4" r="2.8" fill="#000"/>
<polygon points="310.3,1407.7 334.8,1448.8 285.8,1448.8" fill="#0000ff"/><circle cx="310.3" cy="1435.1" r="2.8" fill="#000"/>
<line x1="770.5" y1="1389.9" x2="785.3" y2="1368.8" stroke="#000" stroke-width="7" stroke-linecap="round"/>
<polygon points="1241.8,1264.8 1262.1,1276.6 1262.1,1300 1241.8,1311.7 1221.6,1300 1221.6,1276.6" fill="#ff00ff"/><circle cx="1241.8" cy="1288.3" r="2.8" fill="#000"/>
<polygon points="309.9,1399.8 330.2,1411.5 330.2,1434.9 309.9,1446.7 289.6,1434.9 289.6,1411.5" fill="#ff00ff"/><circle cx="309.9" cy="1423.2" r="2.8" fill="#000"/>
<polygon points="309.4,1375.3 316.4,1395.6 337.8,1396 320.7,1408.9 326.9,1429.4 309.4,1417.2 291.8,1429.4 298,1408.9 280.9,1396 302.3,1395.6" fill="#ff8000"/><circle cx="309.4" cy="1405.2" r="2.8" fill="#000"/>
<line x1="770.3" y1="1373.4" x2="784.9" y2="1335.3" stroke="#000" stroke-width="7" stroke-linecap="round"/>
<polygon points="1242.2,1225.2 1249.2,1245.4 1270.6,1245.8 1253.6,1258.8 1259.8,1279.3 1242.2,1267.1 1224.6,1279.3 1230.8,1258.8 1213.7,1245.8 1235.1,1245.4" fill="#ff8000"/><circle cx="1242.2" cy="1255.1" r="2.8" fill="#000"/>
<line x1="1698.6" y1="1233.5" x2="1723" y2="1175.7" stroke="#000" stroke-width="7" stroke-linecap="round"/>
<line x1="1241.2" y1="1350.5" x2="1260.3" y2="1334.1" stroke="#000" stroke-width="7" stroke-linecap="round"/>
<line x1="1717.4" y1="1354.4" x2="1735" y2="1358.3" stroke="#000" stroke-width="7" stroke-linecap="round"/>
<rect x="767" y="1403.4" width="37.7" height="37.7" fill="#ff0000"/><circle cx="785.8" cy="1422.2" r="2.8" fill="#000"/>
<line x1="310.9" y1="1455.1" x2="322.5" y2="1467.4" stroke="#000" stroke-width="7" stroke-linecap="round"/>
<line x1="770" y1="1341.2" x2="784.5" y2="1293.7" stroke="#000" stroke-width="7" stroke-linecap="round"/>
<polygon points="1703.1,1058.7 1723.5,1070.5 1723.5,1094 1703.1,1105.7 1682.7,1094 1682.7,1070.5" fill="#ff00ff"/><circle cx="1703.1" cy="1082.2" r="2.8" fill="#000"/>
<rect x="1240.6" y="1390" width="37.7" height="37.7" fill="#ff0000"/><circle cx="1259.5" cy="1408.9" r="2.8" fill="#000"/>
<line x1="1241.4" y1="1336.2" x2="1260.8" y2="1290.1" stroke="#000" stroke-width="7" stroke-linecap="round"/>
<line x1="310.5" y1="1442.4" x2="321.9" y2="1447.5" stroke="#000" stroke-width="7" stroke-linecap="round"/>
<line x1="310.3" y1="1435.1" x2="321.6" y2="1435.8" stroke="#000" stroke-width="7" stroke-linecap="round"/>
<line x1="769.6" y1="1310.7" x2="784.2" y2="1261.2" stroke="#000" stroke-width="7" stroke-linecap="round"/>
<line x1="309.9" y1="1423.2" x2="321" y2="1418" stroke="#000" stroke-width="7" stroke-linecap="round"/>
<circle cx="785.3" cy="1368.8" r="21.7" fill="#00ff00"/><circle cx="785.3" cy="1368.8" r="2.8" fill="#000"/>
<rect x="1716.1" y="1339.4" width="37.8" height="37.8" fill="#ff0000"/><circle cx="1735" cy="1358.3" r="2.8" fill="#000"/>
<line x1="1700.6" y1="1166.3" x2="1726.2" y2="1071.1" stroke="#000" stroke-width="7" stroke-linecap="round"/>
<line x1="1241.8" y1="1288.3" x2="1261.4" y2="1231.9" stroke="#000" stroke-width="7" stroke-linecap="round"/>
<line x1="309.4" y1="1405.2" x2="320.3" y2="1395.3" stroke="#000" stroke-width="7" stroke-linecap="round"/>
<polygon points="784.9,1307.7 809.6,1349.1 760.3,1349.1" fill="#0000ff"/><circle cx="784.9" cy="1335.3" r="2.8" fill="#000"/>
<circle cx="1260.3" cy="1334.1" r="21.8" fill="#00ff00"/><circle cx="1260.3" cy="1334.1" r="2.8" fill="#000"/>
<rect x="303.6" y="1448.5" width="37.8" height="37.8" fill="#ff0000"/><circle cx="322.5" cy="1467.4" r="2.8" fill="#000"/>
<polygon points="1705.7,965.2 1712.8,985.5 1734.3,986 1717.2,999 1723.4,1019.6 1705.7,1007.3 1688,1019.6 1694.3,999 1677.1,986 1698.6,985.5" fill="#ff8000"/><circle cx="1705.7" cy="995.2" r="2.8" fill="#000"/>
<circle cx="1723" cy="1175.7" r="21.8" fill="#0000ff"/><circle cx="1723" cy="1175.7" r="2.8" fill="#000"/>
<line x1="1242.2" y1="1255.1" x2="1262" y2="1177" stroke="#000" stroke-width="7.1" stroke-linecap="round"/>
<circle cx="321.9" cy="1447.5" r="21.8" fill="#00ff00"/><circle cx="321.9" cy="1447.5" r="2.8" fill="#000"/>
<line x1="785.3" y1="1368.8" x2="797.2" y2="1380" stroke="#000" stroke-width="7.1" stroke-linecap="round"/>
<line x1="1735" y1="1358.3" x2="1749.5" y2="1361.9" stroke="#000" stroke-width="7.1" stroke-linecap="round"/>
<polygon points="784.5,1270.1 805,1281.9 805,1305.5 784.5,1317.3 764.1,1305.5 764.1,1281.9" fill="#ff00ff"/><circle cx="784.5" cy="1293.7" r="2.8" fill="#000"/>
<polygon points="321.6,1408.2 346.2,1449.6 296.9,1449.6" fill="#0000ff"/><circle cx="321.6" cy="1435.8" r="2.8" fill="#000"/>
<polygon points="1260.8,1262.5 1285.4,1303.9 1236.1,1303.9" fill="#0000ff"/><circle cx="1260.8" cy="1290.1" r="2.8" fill="#000"/>
<line x1="784.9" y1="1335.3" x2="797.1" y2="1365.4" stroke="#000" stroke-width="7.1" stroke-linecap="round"/>
<line x1="1259.5" y1="1408.9" x2="1286.6" y2="1412.3" stroke="#000" stroke-width="7.1" stroke-linecap="round"/>
<polygon points="321,1394.4 341.5,1406.2 341.5,1429.8 321,1441.7 300.5,1429.8 300.5,1406.2" fill="#ff00ff"/><circle cx="321" cy="1418" r="2.8" fill="#000"/>
<polygon points="784.2,1231.1 791.3,1251.5 812.9,1251.9 795.7,1265 801.9,1285.6 784.2,1273.3 766.5,1285.6 772.7,1265 755.5,1251.9 777.1,1251.5" fill="#ff8000"/><circle cx="784.2" cy="1261.2" r="2.8" fill="#000"/>
<line x1="322.5" y1="1467.4" x2="331.5" y2="1470.9" stroke="#000" stroke-width="7.1" stroke-linecap="round"/>
<polygon points="320.3,1365.1 327.4,1385.5 349,1385.9 331.8,1399 338,1419.7 320.3,1407.3 302.6,1419.7 308.8,1399 291.6,1385.9 313.2,1385.5" fill="#ff8000"/><circle cx="320.3" cy="1395.3" r="2.8" fill="#000"/>
<line x1="1703.1" y1="1082.2" x2="1730.4" y2="935.6" stroke="#000" stroke-width="7.1" stroke-linecap="round"/>
<rect x="1730.5" y="1342.9" width="38" height="38" fill="#ff0000"/><circle cx="1749.5" cy="1361.9" r="2.8" fill="#000"/>
<line x1="785.8" y1="1422.2" x2="819.7" y2="1456.9" stroke="#000" stroke-width="7.1" stroke-linecap="round"/>
<circle cx="797.2" cy="1380" r="21.9" fill="#00ff00"/><circle cx="797.2" cy="1380" r="2.8" fill="#000"/>
<line x1="321.9" y1="1447.5" x2="330.8" y2="1447" stroke="#000" stroke-width="7.1" stroke-linecap="round"/>
<polygon points="1261.4,1208.2 1281.9,1220.1 1281.9,1243.8 1261.4,1255.6 1240.9,1243.8 1240.9,1220.1" fill="#ff00ff"/><circle cx="1261.4" cy="1231.9" r="2.8" fill="#000"/>
<line x1="1723" y1="1175.7" x2="1741.9" y2="1142.1" stroke="#000" stroke-width="7.1" stroke-linecap="round"/>
<line x1="784.5" y1="1293.7" x2="796.4" y2="1295.1" stroke="#000" stroke-width="7.1" stroke-linecap="round"/>
<polygon points="797.1,1337.7 821.8,1379.3 772.3,1379.3" fill="#0000ff"/><circle cx="797.1" cy="1365.4" r="2.8" fill="#000"/>
<line x1="321.6" y1="1435.8" x2="330.4" y2="1435.8" stroke="#000" stroke-width="7.1" stroke-linecap="round"/>
<polygon points="1726.2,1043.4 1751,1084.9 1701.5,1084.9" fill="#0000ff"/><circle cx="1726.2" cy="1071.1" r="2.8" fill="#000"/>
<line x1="321" y1="1418" x2="329.6" y2="1408.6" stroke="#000" stroke-width="7.1" stroke-linecap="round"/>
<rect x="312.5" y="1451.9" width="38.1" height="38.1" fill="#ff0000"/><circle cx="331.5" cy="1470.9" r="2.8" fill="#000"/>
<polygon points="1262,1146.7 1269.1,1167.2 1290.8,1167.7 1273.5,1180.8 1279.8,1201.5 1262,1189.1 1244.2,1201.5 1250.5,1180.8 1233.2,1167.7 1254.9,1167.2" fill="#ff8000"/><circle cx="1262" cy="1177" r="2.8" fill="#000"/>
<line x1="1260.3" y1="1334.1" x2="1288.1" y2="1282.4" stroke="#000" stroke-width="7.1" stroke-linecap="round"/>
<line x1="320.3" y1="1395.3" x2="328.8" y2="1383.7" stroke="#000" stroke-width="7.1" stroke-linecap="round"/>
<circle cx="330.8" cy="1447" r="21.9" fill="#00ff00"/><circle cx="330.8" cy="1447" r="2.8" fill="#000"/>
<line x1="1749.5" y1="1361.9" x2="1772.6" y2="1370.3" stroke="#000" stroke-width="7.1" stroke-linecap="round"/>
<polygon points="796.4,1271.3 817,1283.2 817,1307 796.4,1318.9 775.8,1307 775.8,1283.2" fill="#ff00ff"/><circle cx="796.4" cy="1295.1" r="2.8" fill="#000"/>
<polygon points="330.4,1408 355.2,1449.7 305.6,1449.7" fill="#0000ff"/><circle cx="330.4" cy="1435.8" r="2.8" fill="#000"/>
<rect x="1267.5" y="1393.2" width="38.1" height="38.1" fill="#ff0000"/><circle cx="1286.6" cy="1412.3" r="2.8" fill="#000"/>
<line x1="784.2" y1="1261.2" x2="795.1" y2="1164.2" stroke="#000" stroke-width="7.1" stroke-linecap="round"/>
<circle cx="1741.9" cy="1142.1" r="22" fill="#0000ff"/><circle cx="1741.9" cy="1142.1" r="2.8" fill="#000"/>
<line x1="1705.7" y1="995.2" x2="1734.5" y2="804" stroke="#000" stroke-width="7.1" stroke-linecap="round"/>
<line x1="331.5" y1="1470.9" x2="339" y2="1477.2" stroke="#000" stroke-width="7.1" stroke-linecap="round"/>
<polygon points="329.6,1384.8 350.2,1396.7 350.2,1420.5 329.6,1432.4 309,1420.5 309,1396.7" fill="#ff00ff"/><circle cx="329.6" cy="1408.6" r="2.8" fill="#000"/>
<line x1="1260.8" y1="1290.1" x2="1288.9" y2="1213.7" stroke="#000" stroke-width="7.1" stroke-linecap="round"/>
<line x1="797.2" y1="1380" x2="819.3" y2="1402.3" stroke="#000" stroke-width="7.1" stroke-linecap="round"/>
<line x1="1726.2" y1="1071.1" x2="1745.9" y2="1015.1" stroke="#000" stroke-width="7.1" stroke-linecap="round"/>
<line x1="797.1" y1="1365.4" x2="819.1" y2="1387.7" stroke="#000" stroke-width="7.1" stroke-linecap="round"/>
<line x1="330.8" y1="1447" x2="337.9" y2="1442.5" stroke="#000" stroke-width="7.1" stroke-linecap="round"/>
<polygon points="328.8,1353.3 336,1373.9 357.7,1374.3 340.4,1387.5 346.7,1408.3 328.8,1395.9 311,1408.3 317.3,1387.5 299.9,1374.3 321.7,1373.9" fill="#ff8000"/><circle cx="328.8" cy="1383.7" r="2.8" fill="#000"/>
<line x1="330.4" y1="1435.8" x2="337.4" y2="1425.6" stroke="#000" stroke-width="7.2" stroke-linecap="round"/>
<polygon points="1730.4,911.7 1751.1,923.7 1751.1,947.5 1730.4,959.4 1709.8,947.5 1709.8,923.7" fill="#ff00ff"/><circle cx="1730.4" cy="935.6" r="2.8" fill="#000"/>
<line x1="1741.9" y1="1142.1" x2="1757.2" y2="1125.6" stroke="#000" stroke-width="7.2" stroke-linecap="round"/>
<rect x="319.9" y="1458.1" width="38.3" height="38.3" fill="#ff0000"/><circle cx="339" cy="1477.2" r="2.8" fill="#000"/>
<rect x="1753.5" y="1351.1" width="38.3" height="38.3" fill="#ff0000"/><circle cx="1772.6" cy="1370.3" r="2.8" fill="#000"/>
<line x1="329.6" y1="1408.6" x2="336.4" y2="1392.8" stroke="#000" stroke-width="7.2" stroke-linecap="round"/>
<line x1="1286.6" y1="1412.3" x2="1306.3" y2="1406.4" stroke="#000" stroke-width="7.2" stroke-linecap="round"/>
<rect x="800.6" y="1437.7" width="38.3" height="38.3" fill="#ff0000"/><circle cx="819.7" cy="1456.9" r="2.8" fill="#000"/>
<line x1="1261.4" y1="1231.9" x2="1290" y2="1127.8" stroke="#000" stroke-width="7.2" stroke-linecap="round"/>
<line x1="796.4" y1="1295.1" x2="818.7" y2="1338.7" stroke="#000" stroke-width="7.2" stroke-linecap="round"/>
<circle cx="337.9" cy="1442.5" r="22.1" fill="#00ff00"/><circle cx="337.9" cy="1442.5" r="2.8" fill="#000"/>
<line x1="328.8" y1="1383.7" x2="335.5" y2="1361.6" stroke="#000" stroke-width="7.2" stroke-linecap="round"/>
<polygon points="795.1,1133.7 802.3,1154.4 824.1,1154.8 806.7,1168 813,1188.9 795.1,1176.4 777.2,1188.9 783.5,1168 766.1,1154.8 787.9,1154.4" fill="#ff8000"/><circle cx="795.1" cy="1164.2" r="2.8" fill="#000"/>
<polygon points="337.4,1397.7 362.4,1439.6 312.5,1439.6" fill="#0000ff"/><circle cx="337.4" cy="1425.6" r="2.8" fill="#000"/>
<circle cx="1288.1" cy="1282.4" r="22.1" fill="#00ff00"/><circle cx="1288.1" cy="1282.4" r="2.8" fill="#000"/>
<polygon points="1745.9,987.1 1770.9,1029.1 1720.9,1029.1" fill="#0000ff"/><circle cx="1745.9" cy="1015.1" r="2.8" fill="#000"/>
<circle cx="1757.2" cy="1125.6" r="22.1" fill="#0000ff"/><circle cx="1757.2" cy="1125.6" r="2.8" fill="#000"/>
<line x1="1772.6" y1="1370.3" x2="1790.5" y2="1383.5" stroke="#000" stroke-width="7.2" stroke-linecap="round"/>
<circle cx="819.3" cy="1402.3" r="22.1" fill="#00ff00"/><circle cx="819.3" cy="1402.3" r="2.8" fill="#000"/>
<polygon points="336.4,1368.8 357.2,1380.8 357.2,1404.7 336.4,1416.7 315.7,1404.7 315.7,1380.8" fill="#ff00ff"/><circle cx="336.4" cy="1392.8" r="2.8" fill="#000"/>
<polygon points="819.1,1359.6 844.1,1401.7 794.1,1401.7" fill="#0000ff"/><circle cx="819.1" cy="1387.7" r="2.8" fill="#000"/>
<line x1="1262" y1="1177" x2="1291" y2="1038.8" stroke="#000" stroke-width="7.2" stroke-linecap="round"/>
<line x1="339" y1="1477.2" x2="350.6" y2="1476" stroke="#000" stroke-width="7.2" stroke-linecap="round"/>
<line x1="1730.4" y1="935.6" x2="1751.4" y2="844.3" stroke="#000" stroke-width="7.2" stroke-linecap="round"/>
<line x1="795.1" y1="1164.2" x2="818.4" y2="1304.8" stroke="#000" stroke-width="7.2" stroke-linecap="round"/>
<line x1="819.7" y1="1456.9" x2="835.5" y2="1462.4" stroke="#000" stroke-width="7.2" stroke-linecap="round"/>
<polygon points="335.5,1331.1 342.7,1351.8 364.6,1352.2 347.1,1365.4 353.5,1386.4 335.5,1373.9 317.5,1386.4 323.9,1365.4 306.4,1352.2 328.3,1351.8" fill="#ff8000"/><circle cx="335.5" cy="1361.6" r="2.8" fill="#000"/>
<rect x="1287" y="1387.2" width="38.5" height="38.5" fill="#ff0000"/><circle cx="1306.3" cy="1406.4" r="2.8" fill="#000"/>
<polygon points="1734.5,773.4 1741.7,794.1 1763.6,794.5 1746.1,807.7 1752.5,828.7 1734.5,816.2 1716.5,828.7 1722.9,807.7 1705.4,794.5 1727.3,794.1" fill="#ff8000"/><circle cx="1734.5" cy="804" r="2.8" fill="#000"/>
<polygon points="1288.9,1185.6 1314,1227.7 1263.9,1227.7" fill="#0000ff"/><circle cx="1288.9" cy="1213.7" r="2.8" fill="#000"/>
<line x1="1745.9" y1="1015.1" x2="1761.9" y2="981.6" stroke="#000" stroke-width="7.2" stroke-linecap="round"/>
<line x1="337.9" y1="1442.5" x2="349" y2="1421.4" stroke="#000" stroke-width="7.2" stroke-linecap="round"/>
<polygon points="818.7,1314.7 839.5,1326.7 839.5,1350.7 818.7,1362.7 797.9,1350.7 797.9,1326.7" fill="#ff00ff"/><circle cx="818.7" cy="1338.7" r="2.8" fill="#000"/>
<rect x="1771.3" y="1364.3" width="38.5" height="38.5" fill="#ff0000"/><circle cx="1790.5" cy="1383.5" r="2.8" fill="#000"/>
<line x1="1757.2" y1="1125.6" x2="1781.2" y2="1113.2" stroke="#000" stroke-width="7.2" stroke-linecap="round"/>
<line x1="337.4" y1="1425.6" x2="348" y2="1387.2" stroke="#000" stroke-width="7.2" stroke-linecap="round"/>
<polygon points="818.4,1274.1 825.6,1294.9 847.6,1295.3 830.1,1308.6 836.4,1329.6 818.4,1317 800.4,1329.6 806.7,1308.6 789.3,1295.3 811.2,1294.9" fill="#ff8000"/><circle cx="818.4" cy="1304.8" r="2.9" fill="#000"/>
<line x1="1288.1" y1="1282.4" x2="1308.6" y2="1223.7" stroke="#000" stroke-width="7.2" stroke-linecap="round"/>
<line x1="819.3" y1="1402.3" x2="834.9" y2="1385.9" stroke="#000" stroke-width="7.2" stroke-linecap="round"/>
<line x1="1306.3" y1="1406.4" x2="1321.6" y2="1410.7" stroke="#000" stroke-width="7.2" stroke-linecap="round"/>
<rect x="331.3" y="1456.7" width="38.6" height="38.6" fill="#ff0000"/><circle cx="350.6" cy="1476" r="2.9" fill="#000"/>
<line x1="336.4" y1="1392.8" x2="346.7" y2="1344.6" stroke="#000" stroke-width="7.3" stroke-linecap="round"/>
<polygon points="1290,1103.7 1310.8,1115.7 1310.8,1139.8 1290,1151.8 1269.1,1139.8 1269.1,1115.7" fill="#ff00ff"/><circle cx="1290" cy="1127.8" r="2.9" fill="#000"/>
<rect x="816.2" y="1443.1" width="38.6" height="38.6" fill="#ff0000"/><circle cx="835.5" cy="1462.4" r="2.9" fill="#000"/>
<polygon points="1761.9,953.4 1787,995.6 1736.7,995.6" fill="#0000ff"/><circle cx="1761.9" cy="981.6" r="2.9" fill="#000"/>
<line x1="819.1" y1="1387.7" x2="834.6" y2="1341" stroke="#000" stroke-width="7.3" stroke-linecap="round"/>
<polygon points="1751.4,820.2 1772.2,832.2 1772.2,856.3 1751.4,868.4 1730.5,856.3 1730.5,832.2" fill="#ff00ff"/><circle cx="1751.4" cy="844.3" r="2.9" fill="#000"/>
<line x1="335.5" y1="1361.6" x2="345.8" y2="1311.5" stroke="#000" stroke-width="7.3" stroke-linecap="round"/>
<circle cx="349" cy="1421.4" r="22.3" fill="#00ff00"/><circle cx="349" cy="1421.4" r="2.9" fill="#000"/>
<line x1="1734.5" y1="804" x2="1756.7" y2="678.3" stroke="#000" stroke-width="7.3" stroke-linecap="round"/>
<line x1="1790.5" y1="1383.5" x2="1823.4" y2="1416.8" stroke="#000" stroke-width="7.3" stroke-linecap="round"/>
<rect x="1302.3" y="1391.4" width="38.7" height="38.7" fill="#ff0000"/><circle cx="1321.6" cy="1410.7" r="2.9" fill="#000"/>
<line x1="1288.9" y1="1213.7" x2="1310" y2="1116.7" stroke="#000" stroke-width="7.3" stroke-linecap="round"/>
<line x1="818.7" y1="1338.7" x2="834.1" y2="1281.5" stroke="#000" stroke-width="7.3" stroke-linecap="round"/>
<circle cx="1781.2" cy="1113.2" r="22.3" fill="#0000ff"/><circle cx="1781.2" cy="1113.2" r="2.9" fill="#000"/>
<polygon points="348,1358.9 373.2,1401.3 322.8,1401.3" fill="#0000ff"/><circle cx="348" cy="1387.2" r="2.9" fill="#000"/>
<circle cx="834.9" cy="1385.9" r="22.3" fill="#00ff00"/><circle cx="834.9" cy="1385.9" r="2.9" fill="#000"/>
<polygon points="1291,1008 1298.3,1028.9 1320.3,1029.3 1302.8,1042.6 1309.2,1063.8 1291,1051.2 1272.9,1063.8 1279.3,1042.6 1261.7,1029.3 1283.8,1028.9" fill="#ff8000"/><circle cx="1291" cy="1038.8" r="2.9" fill="#000"/>
<circle cx="1308.6" cy="1223.7" r="22.3" fill="#00ff00"/><circle cx="1308.6" cy="1223.7" r="2.9" fill="#000"/>
<line x1="1751.4" y1="844.3" x2="1767.8" y2="800.2" stroke="#000" stroke-width="7.3" stroke-linecap="round"/>
<line x1="818.4" y1="1304.8" x2="833.6" y2="1225.4" stroke="#000" stroke-width="7.3" stroke-linecap="round"/>
<line x1="349" y1="1421.4" x2="358.6" y2="1433.2" stroke="#000" stroke-width="7.3" stroke-linecap="round"/>
<line x1="1761.9" y1="981.6" x2="1786.8" y2="947.2" stroke="#000" stroke-width="7.3" stroke-linecap="round"/>
<line x1="1321.6" y1="1410.7" x2="1334.4" y2="1414.7" stroke="#000" stroke-width="7.3" stroke-linecap="round"/>
<polygon points="346.7,1320.4 367.7,1332.5 367.7,1356.7 346.7,1368.8 325.8,1356.7 325.8,1332.5" fill="#ff00ff"/><circle cx="346.7" cy="1344.6" r="2.9" fill="#000"/>
<polygon points="834.6,1312.7 859.8,1355.1 809.3,1355.1" fill="#0000ff"/><circle cx="834.6" cy="1341" r="2.9" fill="#000"/>
<line x1="1781.2" y1="1113.2" x2="1799.9" y2="1112.8" stroke="#000" stroke-width="7.3" stroke-linecap="round"/>
<line x1="348" y1="1387.2" x2="358.2" y2="1418.3" stroke="#000" stroke-width="7.3" stroke-linecap="round"/>
<line x1="835.5" y1="1462.4" x2="858.2" y2="1466.5" stroke="#000" stroke-width="7.3" stroke-linecap="round"/>
<polygon points="345.8,1280.6 353,1301.5 375.1,1301.9 357.5,1315.3 363.9,1336.5 345.8,1323.8 327.6,1336.5 334,1315.3 316.4,1301.9 338.5,1301.5" fill="#ff8000"/><circle cx="345.8" cy="1311.5" r="2.9" fill="#000"/>
<line x1="1290" y1="1127.8" x2="1311.8" y2="978.2" stroke="#000" stroke-width="7.3" stroke-linecap="round"/>
<rect x="1803.9" y="1397.4" width="38.9" height="38.9" fill="#ff0000"/><circle cx="1823.4" cy="1416.8" r="2.9" fill="#000"/>
<rect x="1314.9" y="1395.2" width="38.9" height="38.9" fill="#ff0000"/><circle cx="1334.4" cy="1414.7" r="2.9" fill="#000"/>
<line x1="350.6" y1="1476" x2="377.9" y2="1512.5" stroke="#000" stroke-width="7.3" stroke-linecap="round"/>
<circle cx="358.6" cy="1433.2" r="22.4" fill="#00ff00"/><circle cx="358.6" cy="1433.2" r="2.9" fill="#000"/>
<polygon points="1767.8,776 1788.8,788.1 1788.8,812.4 1767.8,824.5 1746.7,812.4 1746.7,788.1" fill="#ff00ff"/><circle cx="1767.8" cy="800.2" r="2.9" fill="#000"/>
<polygon points="1756.7,647.4 1763.9,668.3 1786.1,668.7 1768.4,682.1 1774.8,703.3 1756.7,690.7 1738.5,703.3 1744.9,682.1 1727.2,668.7 1749.4,668.3" fill="#ff8000"/><circle cx="1756.7" cy="678.3" r="2.9" fill="#000"/>
<polygon points="834.1,1257.2 855.1,1269.4 855.1,1293.6 834.1,1305.8 813.1,1293.6 813.1,1269.4" fill="#ff00ff"/><circle cx="834.1" cy="1281.5" r="2.9" fill="#000"/>
<line x1="1308.6" y1="1223.7" x2="1324.6" y2="1189.6" stroke="#000" stroke-width="7.3" stroke-linecap="round"/>
<line x1="346.7" y1="1344.6" x2="356" y2="1346.4" stroke="#000" stroke-width="7.3" stroke-linecap="round"/>
<polygon points="358.2,1389.9 383.5,1432.5 332.8,1432.5" fill="#0000ff"/><circle cx="358.2" cy="1418.3" r="2.9" fill="#000"/>
<polygon points="1310,1088.3 1335.3,1130.9 1284.6,1130.9" fill="#0000ff"/><circle cx="1310" cy="1116.7" r="2.9" fill="#000"/>
<circle cx="1799.9" cy="1112.8" r="22.4" fill="#0000ff"/><circle cx="1799.9" cy="1112.8" r="2.9" fill="#000"/>
<polygon points="1786.8,918.7 1812.2,961.4 1761.4,961.4" fill="#0000ff"/><circle cx="1786.8" cy="947.2" r="2.9" fill="#000"/>
<polygon points="833.6,1194.4 840.9,1215.3 863.1,1215.8 845.4,1229.2 851.9,1250.5 833.6,1237.8 815.4,1250.5 821.8,1229.2 804.1,1215.8 826.3,1215.3" fill="#ff8000"/><circle cx="833.6" cy="1225.4" r="2.9" fill="#000"/>
<line x1="834.9" y1="1385.9" x2="857.3" y2="1333.7" stroke="#000" stroke-width="7.4" stroke-linecap="round"/>
<line x1="1823.4" y1="1416.8" x2="1847.4" y2="1432.8" stroke="#000" stroke-width="7.4" stroke-linecap="round"/>
<line x1="1334.4" y1="1414.7" x2="1354.6" y2="1423.6" stroke="#000" stroke-width="7.4" stroke-linecap="round"/>
<polygon points="356,1322 377.1,1334.2 377.1,1358.6 356,1370.8 335,1358.6 335,1334.2" fill="#ff00ff"/><circle cx="356" cy="1346.4" r="2.9" fill="#000"/>
<rect x="838.7" y="1447" width="39.1" height="39.1" fill="#ff0000"/><circle cx="858.2" cy="1466.5" r="2.9" fill="#000"/>
<line x1="1756.7" y1="678.3" x2="1773.6" y2="620.7" stroke="#000" stroke-width="7.4" stroke-linecap="round"/>
<line x1="345.8" y1="1311.5" x2="352.1" y2="1212.6" stroke="#000" stroke-width="7.4" stroke-linecap="round"/>
<circle cx="1324.6" cy="1189.6" r="22.5" fill="#00ff00"/><circle cx="1324.6" cy="1189.6" r="2.9" fill="#000"/>
<line x1="1291" y1="1038.8" x2="1313.5" y2="843.5" stroke="#000" stroke-width="7.4" stroke-linecap="round"/>
<line x1="834.6" y1="1341" x2="856.8" y2="1263.5" stroke="#000" stroke-width="7.4" stroke-linecap="round"/>
<line x1="1767.8" y1="800.2" x2="1793.6" y2="744.1" stroke="#000" stroke-width="7.4" stroke-linecap="round"/>
<line x1="358.6" y1="1433.2" x2="376.3" y2="1456.6" stroke="#000" stroke-width="7.4" stroke-linecap="round"/>
<line x1="1310" y1="1116.7" x2="1326.4" y2="1059.8" stroke="#000" stroke-width="7.4" stroke-linecap="round"/>
<line x1="1786.8" y1="947.2" x2="1806.1" y2="931.6" stroke="#000" stroke-width="7.4" stroke-linecap="round"/>
<line x1="358.2" y1="1418.3" x2="375.9" y2="1441.7" stroke="#000" stroke-width="7.4" stroke-linecap="round"/>
<line x1="1799.9" y1="1112.8" x2="1833.6" y2="1133.3" stroke="#000" stroke-width="7.4" stroke-linecap="round"/>
<polygon points="1311.8,953.7 1332.9,966 1332.9,990.4 1311.8,1002.6 1290.6,990.4 1290.6,966" fill="#ff00ff"/><circle cx="1311.8" cy="978.2" r="2.9" fill="#000"/>
<line x1="1324.6" y1="1189.6" x2="1337.8" y2="1173" stroke="#000" stroke-width="7.4" stroke-linecap="round"/>
<rect x="1827.8" y="1413.2" width="39.2" height="39.2" fill="#ff0000"/><circle cx="1847.4" cy="1432.8" r="2.9" fill="#000"/>
<polygon points="1773.6,589.5 1780.9,610.6 1803.2,611 1785.5,624.5 1791.9,645.9 1773.6,633.1 1755.3,645.9 1761.7,624.5 1743.9,611 1766.3,610.6" fill="#ff8000"/><circle cx="1773.6" cy="620.7" r="2.9" fill="#000"/>
<rect x="1335" y="1404" width="39.2" height="39.2" fill="#ff0000"/><circle cx="1354.6" cy="1423.6" r="2.9" fill="#000"/>
<line x1="858.2" y1="1466.5" x2="874.6" y2="1461" stroke="#000" stroke-width="7.4" stroke-linecap="round"/>
<rect x="358.3" y="1492.8" width="39.3" height="39.3" fill="#ff0000"/><circle cx="377.9" cy="1512.5" r="2.9" fill="#000"/>
<line x1="834.1" y1="1281.5" x2="856.2" y2="1175.6" stroke="#000" stroke-width="7.4" stroke-linecap="round"/>
<line x1="356" y1="1346.4" x2="374.5" y2="1391.6" stroke="#000" stroke-width="7.4" stroke-linecap="round"/>
<polygon points="1806.1,903 1831.6,946 1780.5,946" fill="#0000ff"/><circle cx="1806.1" cy="931.6" r="2.9" fill="#000"/>
<polygon points="352.1,1181.4 359.5,1202.5 381.8,1203 364,1216.5 370.5,1237.9 352.1,1225.1 333.8,1237.9 340.2,1216.5 322.4,1203 344.8,1202.5" fill="#ff8000"/><circle cx="352.1" cy="1212.6" r="2.9" fill="#000"/>
<circle cx="857.3" cy="1333.7" r="22.6" fill="#00ff00"/><circle cx="857.3" cy="1333.7" r="2.9" fill="#000"/>
<polygon points="1326.4,1031.1 1352,1074.1 1300.8,1074.1" fill="#0000ff"/><circle cx="1326.4" cy="1059.8" r="2.9" fill="#000"/>
<circle cx="1337.8" cy="1173" r="22.6" fill="#00ff00"/><circle cx="1337.8" cy="1173" r="2.9" fill="#000"/>
<polygon points="1793.6,719.6 1814.9,731.9 1814.9,756.4 1793.6,768.7 1772.4,756.4 1772.4,731.9" fill="#ff00ff"/><circle cx="1793.6" cy="744.1" r="2.9" fill="#000"/>
<line x1="1354.6" y1="1423.6" x2="1370.5" y2="1437.6" stroke="#000" stroke-width="7.4" stroke-linecap="round"/>
<circle cx="376.3" cy="1456.6" r="22.6" fill="#00ff00"/><circle cx="376.3" cy="1456.6" r="2.9" fill="#000"/>
<polygon points="375.9,1413 401.5,1456 350.3,1456" fill="#0000ff"/><circle cx="375.9" cy="1441.7" r="2.9" fill="#000"/>
<line x1="833.6" y1="1225.4" x2="855.6" y2="1084.6" stroke="#000" stroke-width="7.5" stroke-linecap="round"/>
<circle cx="1833.6" cy="1133.3" r="22.7" fill="#0000ff"/><circle cx="1833.6" cy="1133.3" r="2.9" fill="#000"/>
<line x1="1311.8" y1="978.2" x2="1328.8" y2="885" stroke="#000" stroke-width="7.5" stroke-linecap="round"/>
<line x1="352.1" y1="1212.6" x2="373.5" y2="1356.9" stroke="#000" stroke-width="7.5" stroke-linecap="round"/>
<line x1="377.9" y1="1512.5" x2="390.4" y2="1518.6" stroke="#000" stroke-width="7.5" stroke-linecap="round"/>
<rect x="854.9" y="1441.2" width="39.4" height="39.4" fill="#ff0000"/><circle cx="874.6" cy="1461" r="2.9" fill="#000"/>
<polygon points="1313.5,812.2 1320.9,833.4 1343.3,833.8 1325.4,847.4 1331.9,868.9 1313.5,856.1 1295.1,868.9 1301.6,847.4 1283.7,833.8 1306.1,833.4" fill="#ff8000"/><circle cx="1313.5" cy="843.5" r="2.9" fill="#000"/>
<polygon points="856.8,1234.7 882.5,1277.8 831.2,1277.8" fill="#0000ff"/><circle cx="856.8" cy="1263.5" r="2.9" fill="#000"/>
<line x1="1847.4" y1="1432.8" x2="1881.9" y2="1456.6" stroke="#000" stroke-width="7.5" stroke-linecap="round"/>
<line x1="1326.4" y1="1059.8" x2="1339.9" y2="1025.7" stroke="#000" stroke-width="7.5" stroke-linecap="round"/>
<line x1="1773.6" y1="620.7" x2="1800.5" y2="538.5" stroke="#000" stroke-width="7.5" stroke-linecap="round"/>
<polygon points="374.5,1367 395.8,1379.3 395.8,1403.9 374.5,1416.2 353.2,1403.9 353.2,1379.3" fill="#ff00ff"/><circle cx="374.5" cy="1391.6" r="2.9" fill="#000"/>
<rect x="1350.8" y="1417.8" width="39.5" height="39.5" fill="#ff0000"/><circle cx="1370.5" cy="1437.6" r="2.9" fill="#000"/>
<line x1="1793.6" y1="744.1" x2="1813.5" y2="714.6" stroke="#000" stroke-width="7.5" stroke-linecap="round"/>
<line x1="1337.8" y1="1173" x2="1358.6" y2="1160.8" stroke="#000" stroke-width="7.5" stroke-linecap="round"/>
<line x1="1806.1" y1="931.6" x2="1841.1" y2="923.7" stroke="#000" stroke-width="7.5" stroke-linecap="round"/>
<polygon points="373.5,1325.5 380.9,1346.8 403.4,1347.2 385.4,1360.8 391.9,1382.4 373.5,1369.5 355,1382.4 361.5,1360.8 343.6,1347.2 366.1,1346.8" fill="#ff8000"/><circle cx="373.5" cy="1356.9" r="2.9" fill="#000"/>
<line x1="857.3" y1="1333.7" x2="873.4" y2="1274.2" stroke="#000" stroke-width="7.5" stroke-linecap="round"/>
<line x1="376.3" y1="1456.6" x2="388.2" y2="1440.4" stroke="#000" stroke-width="7.5" stroke-linecap="round"/>
<line x1="874.6" y1="1461" x2="887.6" y2="1465.8" stroke="#000" stroke-width="7.5" stroke-linecap="round"/>
<line x1="1833.6" y1="1133.3" x2="1858.5" y2="1134.5" stroke="#000" stroke-width="7.5" stroke-linecap="round"/>
<polygon points="856.2,1150.9 877.6,1163.2 877.6,1187.9 856.2,1200.3 834.8,1187.9 834.8,1163.2" fill="#ff00ff"/><circle cx="856.2" cy="1175.6" r="2.9" fill="#000"/>
<rect x="370.6" y="1498.8" width="39.6" height="39.6" fill="#ff0000"/><circle cx="390.4" cy="1518.6" r="2.9" fill="#000"/>
<polygon points="1339.9,996.9 1365.6,1040.2 1314.1,1040.2" fill="#0000ff"/><circle cx="1339.9" cy="1025.7" r="2.9" fill="#000"/>
<line x1="375.9" y1="1441.7" x2="386.9" y2="1394.4" stroke="#000" stroke-width="7.5" stroke-linecap="round"/>
<polygon points="1328.8,860.3 1350.2,872.7 1350.2,897.4 1328.8,909.7 1307.4,897.4 1307.4,872.7" fill="#ff00ff"/><circle cx="1328.8" cy="885" r="2.9" fill="#000"/>
<polygon points="1813.5,689.9 1835,702.3 1835,727 1813.5,739.3 1792.1,727 1792.1,702.3" fill="#ff00ff"/><circle cx="1813.5" cy="714.6" r="2.9" fill="#000"/>
<rect x="1862.1" y="1436.7" width="39.7" height="39.7" fill="#ff0000"/><circle cx="1881.9" cy="1456.6" r="2.9" fill="#000"/>
<line x1="1313.5" y1="843.5" x2="1331.1" y2="715.2" stroke="#000" stroke-width="7.5" stroke-linecap="round"/>
<line x1="1370.5" y1="1437.6" x2="1399.7" y2="1472.3" stroke="#000" stroke-width="7.5" stroke-linecap="round"/>
<rect x="867.7" y="1445.9" width="39.7" height="39.7" fill="#ff0000"/><circle cx="887.6" cy="1465.8" r="2.9" fill="#000"/>
<line x1="856.8" y1="1263.5" x2="872.8" y2="1164.7" stroke="#000" stroke-width="7.5" stroke-linecap="round"/>
<line x1="374.5" y1="1391.6" x2="385.2" y2="1333.6" stroke="#000" stroke-width="7.5" stroke-linecap="round"/>
<circle cx="1358.6" cy="1160.8" r="22.8" fill="#00ff00"/><circle cx="1358.6" cy="1160.8" r="2.9" fill="#000"/>
<polygon points="1800.5,507 1807.9,528.3 1830.5,528.8 1812.5,542.4 1819.1,564 1800.5,551.1 1782,564 1788.5,542.4 1770.5,528.8 1793.1,528.3" fill="#ff8000"/><circle cx="1800.5" cy="538.5" r="2.9" fill="#000"/>
<circle cx="388.2" cy="1440.4" r="22.9" fill="#00ff00"/><circle cx="388.2" cy="1440.4" r="2.9" fill="#000"/>
<circle cx="1858.5" cy="1134.5" r="22.9" fill="#0000ff"/><circle cx="1858.5" cy="1134.5" r="2.9" fill="#000"/>
<polygon points="855.6,1053 863,1074.4 885.6,1074.8 867.6,1088.5 874.1,1110.2 855.6,1097.2 837,1110.2 843.5,1088.5 825.5,1074.8 848.1,1074.4" fill="#ff8000"/><circle cx="855.6" cy="1084.6" r="2.9" fill="#000"/>
<circle cx="873.4" cy="1274.2" r="22.9" fill="#00ff00"/><circle cx="873.4" cy="1274.2" r="2.9" fill="#000"/>
<line x1="1328.8" y1="885" x2="1342.5" y2="840.2" stroke="#000" stroke-width="7.6" stroke-linecap="round"/>
<polygon points="1841.1,894.7 1867,938.2 1815.2,938.2" fill="#0000ff"/><circle cx="1841.1" cy="923.7" r="2.9" fill="#000"/>
<line x1="373.5" y1="1356.9" x2="383.6" y2="1276.2" stroke="#000" stroke-width="7.6" stroke-linecap="round"/>
<line x1="1339.9" y1="1025.7" x2="1361.2" y2="990.9" stroke="#000" stroke-width="7.6" stroke-linecap="round"/>
<line x1="887.6" y1="1465.8" x2="898.3" y2="1470.1" stroke="#000" stroke-width="7.6" stroke-linecap="round"/>
<line x1="1881.9" y1="1456.6" x2="1906.4" y2="1486" stroke="#000" stroke-width="7.6" stroke-linecap="round"/>
<polygon points="386.9,1365.4 412.8,1408.9 361,1408.9" fill="#0000ff"/><circle cx="386.9" cy="1394.4" r="2.9" fill="#000"/>
<line x1="1358.6" y1="1160.8" x2="1374.9" y2="1160.7" stroke="#000" stroke-width="7.6" stroke-linecap="round"/>
<line x1="390.4" y1="1518.6" x2="408.3" y2="1523.5" stroke="#000" stroke-width="7.6" stroke-linecap="round"/>
<line x1="1800.5" y1="538.5" x2="1820.8" y2="502.8" stroke="#000" stroke-width="7.6" stroke-linecap="round"/>
<line x1="856.2" y1="1175.6" x2="871.9" y2="1022.9" stroke="#000" stroke-width="7.6" stroke-linecap="round"/>
<rect x="1379.7" y="1452.3" width="39.9" height="39.9" fill="#ff0000"/><circle cx="1399.7" cy="1472.3" r="3" fill="#000"/>
<rect x="878.4" y="1450.2" width="39.9" height="39.9" fill="#ff0000"/><circle cx="898.3" cy="1470.1" r="3" fill="#000"/>
<polygon points="1342.5,815.3 1364,827.7 1364,852.6 1342.5,865.1 1320.9,852.6 1320.9,827.7" fill="#ff00ff"/><circle cx="1342.5" cy="840.2" r="3" fill="#000"/>
<polygon points="1331.1,683.5 1338.5,704.9 1361.2,705.4 1343.1,719.1 1349.7,740.8 1331.1,727.9 1312.4,740.8 1319,719.1 1300.9,705.4 1323.6,704.9" fill="#ff8000"/><circle cx="1331.1" cy="715.2" r="3" fill="#000"/>
<polygon points="385.2,1308.7 406.8,1321.2 406.8,1346 385.2,1358.5 363.7,1346 363.7,1321.2" fill="#ff00ff"/><circle cx="385.2" cy="1333.6" r="3" fill="#000"/>
<line x1="1813.5" y1="714.6" x2="1849.7" y2="684.8" stroke="#000" stroke-width="7.6" stroke-linecap="round"/>
<line x1="873.4" y1="1274.2" x2="886.3" y2="1239.6" stroke="#000" stroke-width="7.6" stroke-linecap="round"/>
<line x1="1841.1" y1="923.7" x2="1866.4" y2="920.1" stroke="#000" stroke-width="7.6" stroke-linecap="round"/>
<polygon points="872.8,1135.6 898.8,1179.3 846.8,1179.3" fill="#0000ff"/><circle cx="872.8" cy="1164.7" r="3" fill="#000"/>
<rect x="1886.4" y="1466" width="40" height="40" fill="#ff0000"/><circle cx="1906.4" cy="1486" r="3" fill="#000"/>
<line x1="1858.5" y1="1134.5" x2="1893.1" y2="1167.7" stroke="#000" stroke-width="7.6" stroke-linecap="round"/>
<circle cx="1374.9" cy="1160.7" r="23" fill="#00ff00"/><circle cx="1374.9" cy="1160.7" r="3" fill="#000"/>
<polygon points="1361.2,961.8 1387.2,1005.5 1335.1,1005.5" fill="#0000ff"/><circle cx="1361.2" cy="990.9" r="3" fill="#000"/>
<polygon points="383.6,1244.4 391.1,1265.9 413.9,1266.3 395.7,1280.1 402.3,1301.9 383.6,1288.9 364.9,1301.9 371.5,1280.1 353.4,1266.3 376.1,1265.9" fill="#ff8000"/><circle cx="383.6" cy="1276.2" r="3" fill="#000"/>
<line x1="388.2" y1="1440.4" x2="404.6" y2="1387.6" stroke="#000" stroke-width="7.6" stroke-linecap="round"/>
<polygon points="1820.8,471 1828.3,492.5 1851.1,493 1832.9,506.8 1839.5,528.5 1820.8,515.5 1802.1,528.5 1808.7,506.8 1790.6,493 1813.3,492.5" fill="#ff8000"/><circle cx="1820.8" cy="502.8" r="3" fill="#000"/>
<line x1="1399.7" y1="1472.3" x2="1420.9" y2="1489.2" stroke="#000" stroke-width="7.6" stroke-linecap="round"/>
<line x1="898.3" y1="1470.1" x2="915.5" y2="1479.8" stroke="#000" stroke-width="7.6" stroke-linecap="round"/>
<line x1="1906.4" y1="1486" x2="1925.5" y2="1510.1" stroke="#000" stroke-width="7.6" stroke-linecap="round"/>
<rect x="388.2" y="1503.5" width="40.1" height="40.1" fill="#ff0000"/><circle cx="408.3" cy="1523.5" r="3" fill="#000"/>
<line x1="1331.1" y1="715.2" x2="1345.1" y2="656.4" stroke="#000" stroke-width="7.6" stroke-linecap="round"/>
<circle cx="886.3" cy="1239.6" r="23.1" fill="#00ff00"/><circle cx="886.3" cy="1239.6" r="3" fill="#000"/>
<line x1="855.6" y1="1084.6" x2="871" y2="885.1" stroke="#000" stroke-width="7.6" stroke-linecap="round"/>
<polygon points="1866.4,890.8 1892.5,934.7 1840.3,934.7" fill="#0000ff"/><circle cx="1866.4" cy="920.1" r="3" fill="#000"/>
<line x1="386.9" y1="1394.4" x2="402.6" y2="1315.8" stroke="#000" stroke-width="7.7" stroke-linecap="round"/>
<line x1="1342.5" y1="840.2" x2="1364.3" y2="783.1" stroke="#000" stroke-width="7.7" stroke-linecap="round"/>
<line x1="872.8" y1="1164.7" x2="885.5" y2="1106.8" stroke="#000" stroke-width="7.7" stroke-linecap="round"/>
<line x1="1361.2" y1="990.9" x2="1377.8" y2="975.3" stroke="#000" stroke-width="7.7" stroke-linecap="round"/>
<circle cx="1893.1" cy="1167.7" r="23.1" fill="#0000ff"/><circle cx="1893.1" cy="1167.7" r="3" fill="#000"/>
<polygon points="1849.7,659.7 1871.4,672.3 1871.4,697.3 1849.7,709.8 1828,697.3 1828,672.3" fill="#ff00ff"/><circle cx="1849.7" cy="684.8" r="3" fill="#000"/>
<rect x="1905.4" y="1490.1" width="40.2" height="40.2" fill="#ff0000"/><circle cx="1925.5" cy="1510.1" r="3" fill="#000"/>
<line x1="1374.9" y1="1160.7" x2="1404.6" y2="1182.2" stroke="#000" stroke-width="7.7" stroke-linecap="round"/>
<polygon points="871.9,997.9 893.6,1010.4 893.6,1035.5 871.9,1048 850.2,1035.5 850.2,1010.4" fill="#ff00ff"/><circle cx="871.9" cy="1022.9" r="3" fill="#000"/>
<line x1="886.3" y1="1239.6" x2="897" y2="1222.9" stroke="#000" stroke-width="7.7" stroke-linecap="round"/>
<rect x="1400.8" y="1469" width="40.2" height="40.2" fill="#ff0000"/><circle cx="1420.9" cy="1489.2" r="3" fill="#000"/>
<polygon points="1345.1,624.4 1352.6,646 1375.5,646.5 1357.2,660.3 1363.9,682.2 1345.1,669.1 1326.3,682.2 1332.9,660.3 1314.7,646.5 1337.6,646" fill="#ff8000"/><circle cx="1345.1" cy="656.4" r="3" fill="#000"/>
<rect x="895.3" y="1459.6" width="40.2" height="40.2" fill="#ff0000"/><circle cx="915.5" cy="1479.8" r="3" fill="#000"/>
<line x1="408.3" y1="1523.5" x2="421" y2="1518.3" stroke="#000" stroke-width="7.7" stroke-linecap="round"/>
<line x1="385.2" y1="1333.6" x2="400.2" y2="1225.8" stroke="#000" stroke-width="7.7" stroke-linecap="round"/>
<line x1="1925.5" y1="1510.1" x2="1941.2" y2="1534.2" stroke="#000" stroke-width="7.7" stroke-linecap="round"/>
<polygon points="1377.8,945.9 1404,990 1351.6,990" fill="#0000ff"/><circle cx="1377.8" cy="975.3" r="3" fill="#000"/>
<line x1="1893.1" y1="1167.7" x2="1917" y2="1217.1" stroke="#000" stroke-width="7.7" stroke-linecap="round"/>
<circle cx="404.6" cy="1387.6" r="23.2" fill="#00ff00"/><circle cx="404.6" cy="1387.6" r="3" fill="#000"/>
<line x1="1866.4" y1="920.1" x2="1900.7" y2="969.9" stroke="#000" stroke-width="7.7" stroke-linecap="round"/>
<polygon points="885.5,1077.4 911.8,1121.4 859.3,1121.4" fill="#0000ff"/><circle cx="885.5" cy="1106.8" r="3" fill="#000"/>
<line x1="1820.8" y1="502.8" x2="1859.2" y2="418.8" stroke="#000" stroke-width="7.7" stroke-linecap="round"/>
<circle cx="897" cy="1222.9" r="23.2" fill="#00ff00"/><circle cx="897" cy="1222.9" r="3" fill="#000"/>
<polygon points="1364.3,758 1386.1,770.5 1386.1,795.7 1364.3,808.3 1342.5,795.7 1342.5,770.5" fill="#ff00ff"/><circle cx="1364.3" cy="783.1" r="3" fill="#000"/>
<line x1="915.5" y1="1479.8" x2="929" y2="1494.4" stroke="#000" stroke-width="7.7" stroke-linecap="round"/>
<rect x="1921" y="1514" width="40.4" height="40.4" fill="#ff0000"/><circle cx="1941.2" cy="1534.2" r="3" fill="#000"/>
<line x1="1849.7" y1="684.8" x2="1875.9" y2="662.6" stroke="#000" stroke-width="7.7" stroke-linecap="round"/>
<line x1="383.6" y1="1276.2" x2="397.6" y2="1132.7" stroke="#000" stroke-width="7.7" stroke-linecap="round"/>
<circle cx="1404.6" cy="1182.2" r="23.3" fill="#00ff00"/><circle cx="1404.6" cy="1182.2" r="3" fill="#000"/>
<line x1="871.9" y1="1022.9" x2="884.5" y2="927.9" stroke="#000" stroke-width="7.7" stroke-linecap="round"/>
<circle cx="1917" cy="1217.1" r="23.3" fill="#0000ff"/><circle cx="1917" cy="1217.1" r="3" fill="#000"/>
<rect x="400.7" y="1498.1" width="40.4" height="40.4" fill="#ff0000"/><circle cx="421" cy="1518.3" r="3" fill="#000"/>
<polygon points="871,853 878.5,874.7 901.5,875.2 883.2,889.1 889.9,911.1 871,898 852.1,911.1 858.8,889.1 840.4,875.2 863.4,874.7" fill="#ff8000"/><circle cx="871" cy="885.1" r="3" fill="#000"/>
<polygon points="402.6,1286.3 428.9,1330.5 376.3,1330.5" fill="#0000ff"/><circle cx="402.6" cy="1315.8" r="3" fill="#000"/>
<line x1="1420.9" y1="1489.2" x2="1451.4" y2="1514.2" stroke="#000" stroke-width="7.7" stroke-linecap="round"/>
<line x1="885.5" y1="1106.8" x2="896.2" y2="1072.2" stroke="#000" stroke-width="7.7" stroke-linecap="round"/>
<line x1="1345.1" y1="656.4" x2="1367.5" y2="572.6" stroke="#000" stroke-width="7.7" stroke-linecap="round"/>
<rect x="908.8" y="1474.2" width="40.5" height="40.5" fill="#ff0000"/><circle cx="929" cy="1494.4" r="3" fill="#000"/>
<line x1="1941.2" y1="1534.2" x2="1966.3" y2="1570.4" stroke="#000" stroke-width="7.8" stroke-linecap="round"/>
<line x1="1364.3" y1="783.1" x2="1381.3" y2="753.1" stroke="#000" stroke-width="7.8" stroke-linecap="round"/>
<polygon points="1900.7,940.4 1927,984.7 1874.3,984.7" fill="#0000ff"/><circle cx="1900.7" cy="969.9" r="3" fill="#000"/>
<line x1="897" y1="1222.9" x2="914.3" y2="1210.8" stroke="#000" stroke-width="7.8" stroke-linecap="round"/>
<line x1="1917" y1="1217.1" x2="1935.7" y2="1259" stroke="#000" stroke-width="7.8" stroke-linecap="round"/>
<line x1="1377.8" y1="975.3" x2="1408.3" y2="967.7" stroke="#000" stroke-width="7.8" stroke-linecap="round"/>
<line x1="404.6" y1="1387.6" x2="415.9" y2="1327.2" stroke="#000" stroke-width="7.8" stroke-linecap="round"/>
<polygon points="1875.9,637.3 1897.8,649.9 1897.8,675.2 1875.9,687.8 1854,675.2 1854,649.9" fill="#ff00ff"/><circle cx="1875.9" cy="662.6" r="3" fill="#000"/>
<line x1="421" y1="1518.3" x2="431.2" y2="1523.6" stroke="#000" stroke-width="7.8" stroke-linecap="round"/>
<line x1="1404.6" y1="1182.2" x2="1426.4" y2="1183.9" stroke="#000" stroke-width="7.8" stroke-linecap="round"/>
<polygon points="400.2,1200.5 422.1,1213.2 422.1,1238.5 400.2,1251.2 378.3,1238.5 378.3,1213.2" fill="#ff00ff"/><circle cx="400.2" cy="1225.8" r="3" fill="#000"/>
<polygon points="896.2,1042.6 922.6,1087 869.8,1087" fill="#0000ff"/><circle cx="896.2" cy="1072.2" r="3" fill="#000"/>
<circle cx="1935.7" cy="1259" r="23.4" fill="#0000ff"/><circle cx="1935.7" cy="1259" r="3" fill="#000"/>
<polygon points="884.5,902.6 906.4,915.2 906.4,940.6 884.5,953.2 862.6,940.6 862.6,915.2" fill="#ff00ff"/><circle cx="884.5" cy="927.9" r="3" fill="#000"/>
<polygon points="1859.2,386.5 1866.8,408.3 1889.9,408.8 1871.5,422.8 1878.2,444.9 1859.2,431.7 1840.2,444.9 1846.9,422.8 1828.5,408.8 1851.6,408.3" fill="#ff8000"/><circle cx="1859.2" cy="418.8" r="3" fill="#000"/>
<line x1="1900.7" y1="969.9" x2="1924.7" y2="1024.5" stroke="#000" stroke-width="7.8" stroke-linecap="round"/>
<rect x="1946" y="1550" width="40.7" height="40.7" fill="#ff0000"/><circle cx="1966.3" cy="1570.4" r="3" fill="#000"/>
<polygon points="1381.3,727.8 1403.3,740.5 1403.3,765.8 1381.3,778.5 1359.3,765.8 1359.3,740.5" fill="#ff00ff"/><circle cx="1381.3" cy="753.1" r="3" fill="#000"/>
<rect x="1431.1" y="1493.8" width="40.7" height="40.7" fill="#ff0000"/><circle cx="1451.4" cy="1514.2" r="3" fill="#000"/>
<line x1="871" y1="885.1" x2="883.5" y2="754" stroke="#000" stroke-width="7.8" stroke-linecap="round"/>
<line x1="929" y1="1494.4" x2="954.1" y2="1530.6" stroke="#000" stroke-width="7.8" stroke-linecap="round"/>
<rect x="410.9" y="1503.3" width="40.7" height="40.7" fill="#ff0000"/><circle cx="431.2" cy="1523.6" r="3" fill="#000"/>
<line x1="402.6" y1="1315.8" x2="412.9" y2="1215.2" stroke="#000" stroke-width="7.8" stroke-linecap="round"/>
<circle cx="914.3" cy="1210.8" r="23.4" fill="#00ff00"/><circle cx="914.3" cy="1210.8" r="3" fill="#000"/>
<line x1="1935.7" y1="1259" x2="1951.2" y2="1293.6" stroke="#000" stroke-width="7.8" stroke-linecap="round"/>
<polygon points="1367.5,540.2 1375.1,562.1 1398.2,562.6 1379.8,576.6 1386.5,598.7 1367.5,585.5 1348.4,598.7 1355.1,576.6 1336.7,562.6 1359.8,562.1" fill="#ff8000"/><circle cx="1367.5" cy="572.6" r="3" fill="#000"/>
<circle cx="1426.4" cy="1183.9" r="23.5" fill="#00ff00"/><circle cx="1426.4" cy="1183.9" r="3" fill="#000"/>
<line x1="1875.9" y1="662.6" x2="1910.6" y2="713.7" stroke="#000" stroke-width="7.8" stroke-linecap="round"/>
<polygon points="397.6,1100.3 405.3,1122.3 428.5,1122.7 410,1136.7 416.7,1158.9 397.6,1145.7 378.6,1158.9 385.3,1136.7 366.8,1122.7 390,1122.3" fill="#ff8000"/><circle cx="397.6" cy="1132.7" r="3" fill="#000"/>
<line x1="1966.3" y1="1570.4" x2="1986" y2="1599" stroke="#000" stroke-width="7.8" stroke-linecap="round"/>
<polygon points="1924.7,994.8 1951.2,1039.4 1898.1,1039.4" fill="#0000ff"/><circle cx="1924.7" cy="1024.5" r="3" fill="#000"/>
<circle cx="415.9" cy="1327.2" r="23.5" fill="#00ff00"/><circle cx="415.9" cy="1327.2" r="3" fill="#000"/>
<line x1="884.5" y1="927.9" x2="895.2" y2="882.2" stroke="#000" stroke-width="7.8" stroke-linecap="round"/>
<polygon points="1408.3,938 1434.8,982.6 1381.8,982.6" fill="#0000ff"/><circle cx="1408.3" cy="967.7" r="3" fill="#000"/>
<circle cx="1951.2" cy="1293.6" r="23.5" fill="#0000ff"/><circle cx="1951.2" cy="1293.6" r="3" fill="#000"/>
<line x1="896.2" y1="1072.2" x2="913.5" y2="1036.9" stroke="#000" stroke-width="7.8" stroke-linecap="round"/>
<line x1="431.2" y1="1523.6" x2="439.7" y2="1528.4" stroke="#000" stroke-width="7.8" stroke-linecap="round"/>
<line x1="1451.4" y1="1514.2" x2="1473.2" y2="1544.8" stroke="#000" stroke-width="7.8" stroke-linecap="round"/>
<line x1="1859.2" y1="418.8" x2="1886.3" y2="382.8" stroke="#000" stroke-width="7.8" stroke-linecap="round"/>
<line x1="914.3" y1="1210.8" x2="927.9" y2="1211" stroke="#000" stroke-width="7.8" stroke-linecap="round"/>
<line x1="1924.7" y1="1024.5" x2="1943.2" y2="1074.9" stroke="#000" stroke-width="7.9" stroke-linecap="round"/>
<line x1="1367.5" y1="572.6" x2="1384.7" y2="536.2" stroke="#000" stroke-width="7.9" stroke-linecap="round"/>
<rect x="1965.6" y="1578.6" width="40.9" height="40.9" fill="#ff0000"/><circle cx="1986" cy="1599" r="3" fill="#000"/>
<line x1="400.2" y1="1225.8" x2="409" y2="1070" stroke="#000" stroke-width="7.9" stroke-linecap="round"/>
<line x1="1951.2" y1="1293.6" x2="1975.5" y2="1353.5" stroke="#000" stroke-width="7.9" stroke-linecap="round"/>
<rect x="933.6" y="1510.2" width="40.9" height="40.9" fill="#ff0000"/><circle cx="954.1" cy="1530.6" r="3" fill="#000"/>
<rect x="419.3" y="1507.9" width="40.9" height="40.9" fill="#ff0000"/><circle cx="439.7" cy="1528.4" r="3" fill="#000"/>
<polygon points="895.2,856.7 917.3,869.4 917.3,895 895.2,907.7 873.1,895 873.1,869.4" fill="#ff00ff"/><circle cx="895.2" cy="882.2" r="3" fill="#000"/>
<polygon points="883.5,721.4 891.1,743.4 914.4,743.9 895.9,758 902.6,780.3 883.5,767 864.4,780.3 871.1,758 852.6,743.9 875.8,743.4" fill="#ff8000"/><circle cx="883.5" cy="754" r="3" fill="#000"/>
<line x1="1381.3" y1="753.1" x2="1412.5" y2="723.1" stroke="#000" stroke-width="7.9" stroke-linecap="round"/>
<line x1="415.9" y1="1327.2" x2="425.2" y2="1292.2" stroke="#000" stroke-width="7.9" stroke-linecap="round"/>
<polygon points="1943.2,1045.1 1969.9,1089.9 1916.6,1089.9" fill="#0000ff"/><circle cx="1943.2" cy="1074.9" r="3" fill="#000"/>
<polygon points="1910.6,688.2 1932.7,701 1932.7,726.5 1910.6,739.3 1888.4,726.5 1888.4,701" fill="#ff00ff"/><circle cx="1910.6" cy="713.7" r="3" fill="#000"/>
<line x1="1408.3" y1="967.7" x2="1430.4" y2="964.4" stroke="#000" stroke-width="7.9" stroke-linecap="round"/>
<polygon points="412.9,1185.3 439.6,1230.1 386.2,1230.1" fill="#0000ff"/><circle cx="412.9" cy="1215.2" r="3" fill="#000"/>
<rect x="1452.7" y="1524.3" width="41" height="41" fill="#ff0000"/><circle cx="1473.2" cy="1544.8" r="3" fill="#000"/>
<line x1="1426.4" y1="1183.9" x2="1457.1" y2="1218.5" stroke="#000" stroke-width="7.9" stroke-linecap="round"/>
<circle cx="927.9" cy="1211" r="23.6" fill="#00ff00"/><circle cx="927.9" cy="1211" r="3" fill="#000"/>
<polygon points="913.5,1007 940.2,1051.9 886.8,1051.9" fill="#0000ff"/><circle cx="913.5" cy="1036.9" r="3" fill="#000"/>
<line x1="1943.2" y1="1074.9" x2="1958.5" y2="1116.6" stroke="#000" stroke-width="7.9" stroke-linecap="round"/>
<polygon points="1886.3,350.2 1893.9,372.3 1917.3,372.8 1898.7,386.9 1905.4,409.2 1886.3,395.9 1867.1,409.2 1873.9,386.9 1855.2,372.8 1878.6,372.3" fill="#ff8000"/><circle cx="1886.3" cy="382.8" r="3" fill="#8000ff"/>
<circle cx="1975.5" cy="1353.5" r="23.6" fill="#0000ff"/><circle cx="1975.5" cy="1353.5" r="3" fill="#000"/>
<polygon points="1384.7,503.6 1392.4,525.6 1415.7,526.1 1397.1,540.2 1403.9,562.6 1384.7,549.3 1365.5,562.6 1372.3,540.2 1353.7,526.1 1377,525.6" fill="#ff8000"/><circle cx="1384.7" cy="536.2" r="3" fill="#000"/>
<line x1="954.1" y1="1530.6" x2="972.2" y2="1548.4" stroke="#000" stroke-width="7.9" stroke-linecap="round"/>
<line x1="1910.6" y1="713.7" x2="1934.7" y2="772.9" stroke="#000" stroke-width="7.9" stroke-linecap="round"/>
<line x1="439.7" y1="1528.4" x2="453.4" y2="1538.8" stroke="#000" stroke-width="7.9" stroke-linecap="round"/>
<line x1="1986" y1="1599" x2="2022.5" y2="1649" stroke="#000" stroke-width="7.9" stroke-linecap="round"/>
<line x1="1473.2" y1="1544.8" x2="1490.3" y2="1569.9" stroke="#000" stroke-width="7.9" stroke-linecap="round"/>
<line x1="883.5" y1="754" x2="894.2" y2="693.9" stroke="#000" stroke-width="7.9" stroke-linecap="round"/>
<polygon points="1958.5,1086.6 1985.2,1131.6 1931.7,1131.6" fill="#0000ff"/><circle cx="1958.5" cy="1116.6" r="3" fill="#000"/>
<circle cx="425.2" cy="1292.2" r="23.7" fill="#00ff00"/><circle cx="425.2" cy="1292.2" r="3" fill="#000"/>
<line x1="397.6" y1="1132.7" x2="405.3" y2="928.9" stroke="#000" stroke-width="7.9" stroke-linecap="round"/>
<line x1="1975.5" y1="1353.5" x2="1994.5" y2="1404.8" stroke="#000" stroke-width="7.9" stroke-linecap="round"/>
<polygon points="1430.4,934.4 1457.2,979.4 1403.6,979.4" fill="#0000ff"/><circle cx="1430.4" cy="964.4" r="3" fill="#000"/>
<line x1="895.2" y1="882.2" x2="912.5" y2="824.1" stroke="#000" stroke-width="7.9" stroke-linecap="round"/>
<line x1="412.9" y1="1215.2" x2="421.6" y2="1156.2" stroke="#000" stroke-width="7.9" stroke-linecap="round"/>
<line x1="913.5" y1="1036.9" x2="927.2" y2="1021.3" stroke="#000" stroke-width="7.9" stroke-linecap="round"/>
<circle cx="1457.1" cy="1218.5" r="23.7" fill="#00ff00"/><circle cx="1457.1" cy="1218.5" r="3" fill="#000"/>
<polygon points="1934.7,747.2 1956.9,760.1 1956.9,785.8 1934.7,798.6 1912.4,785.8 1912.4,760.1" fill="#ff00ff"/><circle cx="1934.7" cy="772.9" r="3" fill="#000"/>
<polygon points="1412.5,697.4 1434.7,710.2 1434.7,735.9 1412.5,748.8 1390.2,735.9 1390.2,710.2" fill="#ff00ff"/><circle cx="1412.5" cy="723.1" r="3.1" fill="#000"/>
<rect x="1469.7" y="1549.3" width="41.2" height="41.2" fill="#ff0000"/><circle cx="1490.3" cy="1569.9" r="3.1" fill="#000"/>
<line x1="927.9" y1="1211" x2="953.2" y2="1233.8" stroke="#000" stroke-width="7.9" stroke-linecap="round"/>
<line x1="1958.5" y1="1116.6" x2="1982.8" y2="1182.6" stroke="#000" stroke-width="8" stroke-linecap="round"/>
<polygon points="409,1044.3 431.3,1057.2 431.3,1082.9 409,1095.7 386.8,1082.9 386.8,1057.2" fill="#ff00ff"/><circle cx="409" cy="1070" r="3.1" fill="#000"/>
<circle cx="1994.5" cy="1404.8" r="23.7" fill="#0000ff"/><circle cx="1994.5" cy="1404.8" r="3.1" fill="#000"/>
<line x1="1886.3" y1="382.8" x2="1921.2" y2="438.5" stroke="#000" stroke-width="8" stroke-linecap="round"/>
<line x1="425.2" y1="1292.2" x2="433.2" y2="1275.4" stroke="#000" stroke-width="8" stroke-linecap="round"/>
<rect x="951.5" y="1527.8" width="41.3" height="41.3" fill="#ff0000"/><circle cx="972.2" cy="1548.4" r="3.1" fill="#000"/>
<polygon points="894.2,661.1 901.9,683.3 925.4,683.8 906.7,698 913.5,720.5 894.2,707 874.9,720.5 881.7,698 863,683.8 886.5,683.3" fill="#ff8000"/><circle cx="894.2" cy="693.9" r="3.1" fill="#000"/>
<rect x="432.7" y="1518.1" width="41.3" height="41.3" fill="#ff0000"/><circle cx="453.4" cy="1538.8" r="3.1" fill="#000"/>
<line x1="1934.7" y1="772.9" x2="1953.5" y2="822.5" stroke="#000" stroke-width="8" stroke-linecap="round"/>
<rect x="2001.9" y="1628.3" width="41.3" height="41.3" fill="#ff0000"/><circle cx="2022.5" cy="1649" r="3.1" fill="#000"/>
<line x1="1490.3" y1="1569.9" x2="1504.4" y2="1594.8" stroke="#000" stroke-width="8" stroke-linecap="round"/>
<polygon points="927.2,991.1 954.1,1036.3 900.3,1036.3" fill="#0000ff"/><circle cx="927.2" cy="1021.3" r="3.1" fill="#000"/>
<line x1="1457.1" y1="1218.5" x2="1478.8" y2="1269.6" stroke="#000" stroke-width="8" stroke-linecap="round"/>
<polygon points="1982.8,1152.4 2009.7,1197.6 1955.9,1197.6" fill="#0000ff"/><circle cx="1982.8" cy="1182.6" r="3.1" fill="#000"/>
<line x1="1430.4" y1="964.4" x2="1461.1" y2="1016" stroke="#000" stroke-width="8" stroke-linecap="round"/>
<polygon points="421.6,1126 448.5,1171.3 394.7,1171.3" fill="#0000ff"/><circle cx="421.6" cy="1156.2" r="3.1" fill="#000"/>
<line x1="1384.7" y1="536.2" x2="1417.2" y2="447.8" stroke="#000" stroke-width="8" stroke-linecap="round"/>
<circle cx="433.2" cy="1275.4" r="23.8" fill="#00ff00"/><circle cx="433.2" cy="1275.4" r="3.1" fill="#000"/>
<polygon points="912.5,798.3 934.9,811.2 934.9,837 912.5,849.9 890.2,837 890.2,811.2" fill="#ff00ff"/><circle cx="912.5" cy="824.1" r="3.1" fill="#000"/>
<line x1="453.4" y1="1538.8" x2="464.3" y2="1554.2" stroke="#000" stroke-width="8" stroke-linecap="round"/>
<polygon points="1953.5,796.6 1975.8,809.6 1975.8,835.4 1953.5,848.3 1931.1,835.4 1931.1,809.6" fill="#ff00ff"/><circle cx="1953.5" cy="822.5" r="3.1" fill="#000"/>
<rect x="1483.7" y="1574.1" width="41.4" height="41.4" fill="#ff0000"/><circle cx="1504.4" cy="1594.8" r="3.1" fill="#000"/>
<line x1="1412.5" y1="723.1" x2="1435.1" y2="700.6" stroke="#000" stroke-width="8" stroke-linecap="round"/>
<line x1="1994.5" y1="1404.8" x2="2029.7" y2="1491.2" stroke="#000" stroke-width="8" stroke-linecap="round"/>
<polygon points="1921.2,405.5 1928.9,427.8 1952.5,428.3 1933.7,442.5 1940.5,465.1 1921.2,451.6 1901.8,465.1 1908.6,442.5 1889.8,428.3 1913.4,427.8" fill="#ff8000"/><circle cx="1921.2" cy="438.5" r="3.1" fill="#000"/>
<line x1="1982.8" y1="1182.6" x2="2001.7" y2="1237.3" stroke="#000" stroke-width="8" stroke-linecap="round"/>
<circle cx="953.2" cy="1233.8" r="23.9" fill="#00ff00"/><circle cx="953.2" cy="1233.8" r="3.1" fill="#000"/>
<line x1="409" y1="1070" x2="416.8" y2="973" stroke="#000" stroke-width="8" stroke-linecap="round"/>
<circle cx="1478.8" cy="1269.6" r="23.9" fill="#00ff00"/><circle cx="1478.8" cy="1269.6" r="3.1" fill="#000"/>
<line x1="1953.5" y1="822.5" x2="1968.9" y2="864.9" stroke="#000" stroke-width="8" stroke-linecap="round"/>
<polygon points="405.3,895.9 413,918.2 436.6,918.7 417.8,933 424.7,955.6 405.3,942.1 385.9,955.6 392.7,933 373.9,918.7 397.5,918.2" fill="#ff8000"/><circle cx="405.3" cy="928.9" r="3.1" fill="#000"/>
<line x1="972.2" y1="1548.4" x2="998.2" y2="1574.8" stroke="#000" stroke-width="8" stroke-linecap="round"/>
<line x1="421.6" y1="1156.2" x2="429.2" y2="1121" stroke="#000" stroke-width="8" stroke-linecap="round"/>
<line x1="894.2" y1="693.9" x2="911.5" y2="608.4" stroke="#000" stroke-width="8" stroke-linecap="round"/>
<rect x="443.6" y="1533.4" width="41.5" height="41.5" fill="#ff0000"/><circle cx="464.3" cy="1554.2" r="3.1" fill="#000"/>
<polygon points="2001.7,1207 2028.8,1252.5 1974.7,1252.5" fill="#0000ff"/><circle cx="2001.7" cy="1237.3" r="3.1" fill="#000"/>
<polygon points="1968.9,839 1991.3,852 1991.3,877.9 1968.9,890.8 1946.4,877.9 1946.4,852" fill="#ff00ff"/><circle cx="1968.9" cy="864.9" r="3.1" fill="#000"/>
<line x1="1504.4" y1="1594.8" x2="1526.8" y2="1632.4" stroke="#000" stroke-width="8" stroke-linecap="round"/>
<line x1="912.5" y1="824.1" x2="926.3" y2="793.7" stroke="#000" stroke-width="8" stroke-linecap="round"/>
<polygon points="1461.1,985.7 1488.1,1031.1 1434,1031.1" fill="#0000ff"/><circle cx="1461.1" cy="1016" r="3.1" fill="#000"/>
<line x1="433.2" y1="1275.4" x2="446.5" y2="1263.5" stroke="#000" stroke-width="8" stroke-linecap="round"/>
<line x1="1921.2" y1="438.5" x2="1945.8" y2="491.7" stroke="#000" stroke-width="8" stroke-linecap="round"/>
<line x1="1478.8" y1="1269.6" x2="1495.8" y2="1312.8" stroke="#000" stroke-width="8" stroke-linecap="round"/>
<line x1="927.2" y1="1021.3" x2="952.6" y2="1014.1" stroke="#000" stroke-width="8" stroke-linecap="round"/>
<circle cx="2029.7" cy="1491.2" r="23.9" fill="#0000ff"/><circle cx="2029.7" cy="1491.2" r="3.1" fill="#000"/>
<polygon points="1435.1,674.7 1457.6,687.6 1457.6,713.6 1435.1,726.6 1412.7,713.6 1412.7,687.6" fill="#ff00ff"/><circle cx="1435.1" cy="700.6" r="3.1" fill="#000"/>
<line x1="953.2" y1="1233.8" x2="971.5" y2="1236" stroke="#000" stroke-width="8.1" stroke-linecap="round"/>
<polygon points="429.2,1090.7 456.3,1136.2 402.1,1136.2" fill="#0000ff"/><circle cx="429.2" cy="1121" r="3.1" fill="#000"/>
<circle cx="1495.8" cy="1312.8" r="24" fill="#00ff00"/><circle cx="1495.8" cy="1312.8" r="3.1" fill="#000"/>
<polygon points="416.8,947 439.3,960 439.3,986 416.8,999 394.3,986 394.3,960" fill="#ff00ff"/><circle cx="416.8" cy="973" r="3.1" fill="#000"/>
<line x1="1968.9" y1="864.9" x2="1993.9" y2="920.4" stroke="#000" stroke-width="8.1" stroke-linecap="round"/>
<line x1="1461.1" y1="1016" x2="1482.8" y2="1072.4" stroke="#000" stroke-width="8.1" stroke-linecap="round"/>
<polygon points="1417.2,414.7 1425,437.1 1448.7,437.6 1429.8,451.9 1436.7,474.7 1417.2,461.1 1397.7,474.7 1404.6,451.9 1385.7,437.6 1409.4,437.1" fill="#ff8000"/><circle cx="1417.2" cy="447.8" r="3.1" fill="#000"/>
<polygon points="1945.8,458.6 1953.6,481 1977.4,481.5 1958.5,495.8 1965.3,518.6 1945.8,505 1926.3,518.6 1933.2,495.8 1914.3,481.5 1938,481" fill="#ff8000"/><circle cx="1945.8" cy="491.7" r="3.1" fill="#000"/>
<rect x="1506" y="1611.6" width="41.7" height="41.7" fill="#ff0000"/><circle cx="1526.8" cy="1632.4" r="3.1" fill="#000"/>
<line x1="2001.7" y1="1237.3" x2="2037" y2="1328.3" stroke="#000" stroke-width="8.1" stroke-linecap="round"/>
<polygon points="926.3,767.7 948.8,780.7 948.8,806.7 926.3,819.7 903.7,806.7 903.7,780.7" fill="#ff00ff"/><circle cx="926.3" cy="793.7" r="3.1" fill="#000"/>
<rect x="977.3" y="1553.9" width="41.8" height="41.8" fill="#ff0000"/><circle cx="998.2" cy="1574.8" r="3.1" fill="#000"/>
<line x1="405.3" y1="928.9" x2="412.2" y2="794.8" stroke="#000" stroke-width="8.1" stroke-linecap="round"/>
<line x1="464.3" y1="1554.2" x2="484.8" y2="1592.1" stroke="#000" stroke-width="8.1" stroke-linecap="round"/>
<circle cx="446.5" cy="1263.5" r="24" fill="#00ff00"/><circle cx="446.5" cy="1263.5" r="3.1" fill="#000"/>
<line x1="1495.8" y1="1312.8" x2="1509.8" y2="1348.5" stroke="#000" stroke-width="8.1" stroke-linecap="round"/>
<polygon points="911.5,575.2 919.3,597.6 943.1,598.1 924.2,612.5 931.1,635.2 911.5,621.7 892,635.2 898.9,612.5 880,598.1 903.7,597.6" fill="#ff8000"/><circle cx="911.5" cy="608.4" r="3.1" fill="#000"/>
<line x1="1945.8" y1="491.7" x2="1964.8" y2="542" stroke="#000" stroke-width="8.1" stroke-linecap="round"/>
<circle cx="971.5" cy="1236" r="24.1" fill="#00ff00"/><circle cx="971.5" cy="1236" r="3.1" fill="#000"/>
<polygon points="1993.9,894.3 2016.5,907.3 2016.5,933.4 1993.9,946.4 1971.4,933.4 1971.4,907.3" fill="#ff00ff"/><circle cx="1993.9" cy="920.4" r="3.1" fill="#000"/>
<line x1="1435.1" y1="700.6" x2="1466.2" y2="753.5" stroke="#000" stroke-width="8.1" stroke-linecap="round"/>
<line x1="1526.8" y1="1632.4" x2="1544.5" y2="1662.2" stroke="#000" stroke-width="8.1" stroke-linecap="round"/>
<polygon points="1482.8,1041.9 1510.1,1087.6 1455.6,1087.6" fill="#0000ff"/><circle cx="1482.8" cy="1072.4" r="3.1" fill="#000"/>
<line x1="416.8" y1="973" x2="424.2" y2="926.4" stroke="#000" stroke-width="8.1" stroke-linecap="round"/>
<polygon points="952.6,983.6 979.9,1029.3 925.4,1029.3" fill="#0000ff"/><circle cx="952.6" cy="1014.1" r="3.1" fill="#000"/>
<circle cx="1509.8" cy="1348.5" r="24.1" fill="#00ff00"/><circle cx="1509.8" cy="1348.5" r="3.1" fill="#000"/>
<line x1="429.2" y1="1121" x2="442" y2="1085.4" stroke="#000" stroke-width="8.1" stroke-linecap="round"/>
<line x1="998.2" y1="1574.8" x2="1017" y2="1606.7" stroke="#000" stroke-width="8.1" stroke-linecap="round"/>
<polygon points="2037,1297.8 2064.3,1343.6 2009.8,1343.6" fill="#0000ff"/><circle cx="2037" cy="1328.3" r="3.1" fill="#000"/>
<polygon points="1964.8,508.7 1972.7,531.2 1996.5,531.7 1977.5,546.1 1984.4,568.9 1964.8,555.3 1945.3,568.9 1952.2,546.1 1933.2,531.7 1957,531.2" fill="#ff8000"/><circle cx="1964.8" cy="542" r="3.1" fill="#000"/>
<line x1="1417.2" y1="447.8" x2="1440.3" y2="413.6" stroke="#000" stroke-width="8.1" stroke-linecap="round"/>
<line x1="446.5" y1="1263.5" x2="457.2" y2="1264.1" stroke="#000" stroke-width="8.1" stroke-linecap="round"/>
<line x1="1993.9" y1="920.4" x2="2013.7" y2="963.3" stroke="#000" stroke-width="8.1" stroke-linecap="round"/>
<line x1="1482.8" y1="1072.4" x2="1499.8" y2="1124.3" stroke="#000" stroke-width="8.1" stroke-linecap="round"/>
<line x1="911.5" y1="608.4" x2="925.4" y2="571.4" stroke="#000" stroke-width="8.1" stroke-linecap="round"/>
<rect x="1523.5" y="1641.2" width="42" height="42" fill="#ff0000"/><circle cx="1544.5" cy="1662.2" r="3.1" fill="#000"/>
<line x1="1509.8" y1="1348.5" x2="1531.9" y2="1410.4" stroke="#000" stroke-width="8.2" stroke-linecap="round"/>
<rect x="463.8" y="1571.1" width="42" height="42" fill="#ff0000"/><circle cx="484.8" cy="1592.1" r="3.1" fill="#000"/>
<line x1="1964.8" y1="542" x2="1981.4" y2="561.6" stroke="#000" stroke-width="8.2" stroke-linecap="round"/>
<polygon points="424.2,900.2 446.9,913.3 446.9,939.5 424.2,952.6 401.5,939.5 401.5,913.3" fill="#ff00ff"/><circle cx="424.2" cy="926.4" r="3.1" fill="#000"/>
<polygon points="412.2,761.4 420,784 443.9,784.5 424.9,798.9 431.8,821.8 412.2,808.2 392.5,821.8 399.5,798.9 380.4,784.5 404.3,784" fill="#ff8000"/><circle cx="412.2" cy="794.8" r="3.1" fill="#000"/>
<line x1="926.3" y1="793.7" x2="951.9" y2="763.4" stroke="#000" stroke-width="8.2" stroke-linecap="round"/>
<polygon points="1499.8,1093.7 1527.1,1139.6 1472.4,1139.6" fill="#0000ff"/><circle cx="1499.8" cy="1124.3" r="3.1" fill="#000"/>
<polygon points="2013.7,937 2036.4,950.1 2036.4,976.4 2013.7,989.5 1990.9,976.4 1990.9,950.1" fill="#ff00ff"/><circle cx="2013.7" cy="963.3" r="3.1" fill="#000"/>
<polygon points="1466.2,727.3 1488.9,740.4 1488.9,766.6 1466.2,779.7 1443.5,766.6 1443.5,740.4" fill="#ff00ff"/><circle cx="1466.2" cy="753.5" r="3.1" fill="#000"/>
<line x1="952.6" y1="1014.1" x2="971.1" y2="1011.1" stroke="#000" stroke-width="8.2" stroke-linecap="round"/>
<rect x="996" y="1585.7" width="42.1" height="42.1" fill="#ff0000"/><circle cx="1017" cy="1606.7" r="3.1" fill="#000"/>
<line x1="971.5" y1="1236" x2="997.9" y2="1272" stroke="#000" stroke-width="8.2" stroke-linecap="round"/>
<circle cx="457.2" cy="1264.1" r="24.2" fill="#00ff00"/><circle cx="457.2" cy="1264.1" r="3.1" fill="#000"/>
<polygon points="442,1054.7 469.4,1100.7 414.6,1100.7" fill="#0000ff"/><circle cx="442" cy="1085.4" r="3.1" fill="#000"/>
<polygon points="1981.4,528.2 1989.3,550.8 2013.2,551.3 1994.1,565.8 2001.1,588.7 1981.4,575 1961.7,588.7 1968.7,565.8 1949.6,551.3 1973.5,550.8" fill="#ff8000"/><circle cx="1981.4" cy="561.6" r="3.1" fill="#000"/>
<line x1="1499.8" y1="1124.3" x2="1513.7" y2="1167.3" stroke="#000" stroke-width="8.2" stroke-linecap="round"/>
<polygon points="1440.3,380.1 1448.2,402.7 1472.2,403.2 1453.1,417.7 1460,440.7 1440.3,427 1420.6,440.7 1427.6,417.7 1408.5,403.2 1432.4,402.7" fill="#ff8000"/><circle cx="1440.3" cy="413.6" r="3.1" fill="#8000ff"/>
<circle cx="1531.9" cy="1410.4" r="24.3" fill="#00ff00"/><circle cx="1531.9" cy="1410.4" r="3.1" fill="#000"/>
<polygon points="925.4,537.9 933.3,560.5 957.2,561 938.1,575.5 945.1,598.5 925.4,584.8 905.7,598.5 912.7,575.5 893.5,561 917.5,560.5" fill="#ff8000"/><circle cx="925.4" cy="571.4" r="3.1" fill="#000"/>
<line x1="484.8" y1="1592.1" x2="499.4" y2="1610.8" stroke="#000" stroke-width="8.2" stroke-linecap="round"/>
<line x1="1466.2" y1="753.5" x2="1488.1" y2="814.6" stroke="#000" stroke-width="8.2" stroke-linecap="round"/>
<line x1="1544.5" y1="1662.2" x2="1577.2" y2="1714.2" stroke="#000" stroke-width="8.2" stroke-linecap="round"/>
<line x1="1017" y1="1606.7" x2="1031.8" y2="1632.8" stroke="#000" stroke-width="8.2" stroke-linecap="round"/>
<line x1="412.2" y1="794.8" x2="419.2" y2="733.5" stroke="#000" stroke-width="8.2" stroke-linecap="round"/>
<polygon points="1513.7,1136.5 1541.2,1182.7 1486.2,1182.7" fill="#0000ff"/><circle cx="1513.7" cy="1167.3" r="3.1" fill="#000"/>
<line x1="1531.9" y1="1410.4" x2="1549.2" y2="1463.3" stroke="#000" stroke-width="8.2" stroke-linecap="round"/>
<polygon points="971.1,980.3 998.6,1026.5 943.6,1026.5" fill="#0000ff"/><circle cx="971.1" cy="1011.1" r="3.1" fill="#000"/>
<line x1="2013.7" y1="963.3" x2="2050.8" y2="1024.1" stroke="#000" stroke-width="8.2" stroke-linecap="round"/>
<line x1="424.2" y1="926.4" x2="436.5" y2="867.3" stroke="#000" stroke-width="8.2" stroke-linecap="round"/>
<line x1="442" y1="1085.4" x2="452.4" y2="1069.7" stroke="#000" stroke-width="8.2" stroke-linecap="round"/>
<line x1="1981.4" y1="561.6" x2="2007.9" y2="593" stroke="#000" stroke-width="8.2" stroke-linecap="round"/>
<circle cx="997.9" cy="1272" r="24.3" fill="#00ff00"/><circle cx="997.9" cy="1272" r="3.1" fill="#000"/>
<polygon points="1488.1,788.2 1511,801.4 1511,827.8 1488.1,841 1465.3,827.8 1465.3,801.4" fill="#ff00ff"/><circle cx="1488.1" cy="814.6" r="3.1" fill="#000"/>
<polygon points="951.9,737 974.8,750.2 974.8,776.6 951.9,789.8 929.1,776.6 929.1,750.2" fill="#ff00ff"/><circle cx="951.9" cy="763.4" r="3.1" fill="#000"/>
<rect x="1010.7" y="1611.7" width="42.3" height="42.3" fill="#ff0000"/><circle cx="1031.8" cy="1632.8" r="3.1" fill="#000"/>
<line x1="457.2" y1="1264.1" x2="477.5" y2="1288.1" stroke="#000" stroke-width="8.2" stroke-linecap="round"/>
<line x1="1513.7" y1="1167.3" x2="1535.9" y2="1235.3" stroke="#000" stroke-width="8.3" stroke-linecap="round"/>
<circle cx="1549.2" cy="1463.3" r="24.4" fill="#00ff00"/><circle cx="1549.2" cy="1463.3" r="3.1" fill="#000"/>
<line x1="1440.3" y1="413.6" x2="1471.7" y2="468.7" stroke="#000" stroke-width="8.3" stroke-linecap="round"/>
<rect x="478.2" y="1589.7" width="42.4" height="42.4" fill="#ff0000"/><circle cx="499.4" cy="1610.8" r="3.1" fill="#000"/>
<polygon points="419.2,699.8 427.1,722.6 451.3,723.1 432,737.7 439,760.8 419.2,747 399.4,760.8 406.4,737.7 387.2,723.1 411.3,722.6" fill="#ff8000"/><circle cx="419.2" cy="733.5" r="3.1" fill="#000"/>
<line x1="1488.1" y1="814.6" x2="1505.3" y2="865.6" stroke="#000" stroke-width="8.3" stroke-linecap="round"/>
<rect x="1556" y="1693" width="42.4" height="42.4" fill="#ff0000"/><circle cx="1577.2" cy="1714.2" r="3.1" fill="#000"/>
<line x1="1031.8" y1="1632.8" x2="1044.1" y2="1658.7" stroke="#000" stroke-width="8.3" stroke-linecap="round"/>
<polygon points="2007.9,559.3 2015.8,582.1 2039.9,582.6 2020.7,597.2 2027.7,620.3 2007.9,606.5 1988,620.3 1995,597.2 1975.8,582.6 1999.9,582.1" fill="#ff8000"/><circle cx="2007.9" cy="593" r="3.1" fill="#000"/>
<polygon points="452.4,1038.7 480,1085.1 424.7,1085.1" fill="#0000ff"/><circle cx="452.4" cy="1069.7" r="3.1" fill="#000"/>
<line x1="997.9" y1="1272" x2="1017" y2="1324.8" stroke="#000" stroke-width="8.3" stroke-linecap="round"/>
<polygon points="1535.9,1204.4 1563.6,1250.8 1508.3,1250.8" fill="#0000ff"/><circle cx="1535.9" cy="1235.3" r="3.1" fill="#000"/>
<line x1="971.1" y1="1011.1" x2="997.8" y2="1064.6" stroke="#000" stroke-width="8.3" stroke-linecap="round"/>
<polygon points="2050.8,997.6 2073.7,1010.9 2073.7,1037.4 2050.8,1050.6 2027.9,1037.4 2027.9,1010.9" fill="#ff00ff"/><circle cx="2050.8" cy="1024.1" r="3.1" fill="#000"/>
<line x1="925.4" y1="571.4" x2="951.1" y2="485.3" stroke="#000" stroke-width="8.3" stroke-linecap="round"/>
<polygon points="436.5,840.8 459.4,854.1 459.4,880.6 436.5,893.8 413.5,880.6 413.5,854.1" fill="#ff00ff"/><circle cx="436.5" cy="867.3" r="3.1" fill="#000"/>
<polygon points="1505.3,839.1 1528.2,852.4 1528.2,878.9 1505.3,892.1 1482.3,878.9 1482.3,852.4" fill="#ff00ff"/><circle cx="1505.3" cy="865.6" r="3.1" fill="#000"/>
<rect x="1022.8" y="1637.5" width="42.5" height="42.5" fill="#ff0000"/><circle cx="1044.1" cy="1658.7" r="3.1" fill="#000"/>
<line x1="951.9" y1="763.4" x2="970.6" y2="740.7" stroke="#000" stroke-width="8.3" stroke-linecap="round"/>
<line x1="1549.2" y1="1463.3" x2="1581.3" y2="1552.6" stroke="#000" stroke-width="8.3" stroke-linecap="round"/>
<line x1="1535.9" y1="1235.3" x2="1553.3" y2="1291.8" stroke="#000" stroke-width="8.3" stroke-linecap="round"/>
<polygon points="1471.7,434.9 1479.7,457.8 1503.9,458.2 1484.6,472.9 1491.6,496.1 1471.7,482.2 1451.8,496.1 1458.8,472.9 1439.5,458.2 1463.8,457.8" fill="#ff8000"/><circle cx="1471.7" cy="468.7" r="3.1" fill="#000"/>
<circle cx="477.5" cy="1288.1" r="24.5" fill="#00ff00"/><circle cx="477.5" cy="1288.1" r="3.2" fill="#000"/>
<line x1="2007.9" y1="593" x2="2029.7" y2="594.2" stroke="#000" stroke-width="8.3" stroke-linecap="round"/>
<circle cx="1017" cy="1324.8" r="24.5" fill="#00ff00"/><circle cx="1017" cy="1324.8" r="3.2" fill="#000"/>
<line x1="1505.3" y1="865.6" x2="1519.4" y2="909.4" stroke="#000" stroke-width="8.3" stroke-linecap="round"/>
<line x1="499.4" y1="1610.8" x2="520.4" y2="1638.7" stroke="#000" stroke-width="8.3" stroke-linecap="round"/>
<line x1="419.2" y1="733.5" x2="430.9" y2="646.2" stroke="#000" stroke-width="8.3" stroke-linecap="round"/>
<polygon points="1553.3,1260.7 1581.1,1307.4 1525.5,1307.4" fill="#0000ff"/><circle cx="1553.3" cy="1291.8" r="3.2" fill="#000"/>
<polygon points="1519.4,882.8 1542.4,896.1 1542.4,922.7 1519.4,936 1496.3,922.7 1496.3,896.1" fill="#ff00ff"/><circle cx="1519.4" cy="909.4" r="3.2" fill="#000"/>
<line x1="1044.1" y1="1658.7" x2="1063.6" y2="1697.9" stroke="#000" stroke-width="8.3" stroke-linecap="round"/>
<line x1="436.5" y1="867.3" x2="446.6" y2="836.4" stroke="#000" stroke-width="8.3" stroke-linecap="round"/>
<polygon points="997.8,1033.4 1025.5,1080.1 970,1080.1" fill="#0000ff"/><circle cx="997.8" cy="1064.6" r="3.2" fill="#000"/>
<line x1="1471.7" y1="468.7" x2="1494.1" y2="524" stroke="#000" stroke-width="8.4" stroke-linecap="round"/>
<line x1="1017" y1="1324.8" x2="1032" y2="1369.5" stroke="#000" stroke-width="8.4" stroke-linecap="round"/>
<line x1="452.4" y1="1069.7" x2="472.2" y2="1062.9" stroke="#000" stroke-width="8.4" stroke-linecap="round"/>
<polygon points="2029.7,560.2 2037.7,583.2 2062,583.7 2042.6,598.4 2049.7,621.7 2029.7,607.8 2009.7,621.7 2016.8,598.4 1997.4,583.7 2021.7,583.2" fill="#ff8000"/><circle cx="2029.7" cy="594.2" r="3.2" fill="#000"/>
<circle cx="1581.3" cy="1552.6" r="24.6" fill="#00ff00"/><circle cx="1581.3" cy="1552.6" r="3.2" fill="#000"/>
<polygon points="970.6,714.1 993.6,727.4 993.6,754 970.6,767.4 947.5,754 947.5,727.4" fill="#ff00ff"/><circle cx="970.6" cy="740.7" r="3.2" fill="#000"/>
<line x1="477.5" y1="1288.1" x2="492" y2="1290.8" stroke="#000" stroke-width="8.4" stroke-linecap="round"/>
<circle cx="1032" cy="1369.5" r="24.6" fill="#00ff00"/><circle cx="1032" cy="1369.5" r="3.2" fill="#000"/>
<line x1="1519.4" y1="909.4" x2="1542.1" y2="966.6" stroke="#000" stroke-width="8.4" stroke-linecap="round"/>
<polygon points="951.1,451.2 959.1,474.2 983.5,474.7 964.1,489.5 971.1,512.8 951.1,498.9 931.1,512.8 938.2,489.5 918.8,474.7 943.1,474.2" fill="#ff8000"/><circle cx="951.1" cy="485.3" r="3.2" fill="#000"/>
<line x1="997.8" y1="1064.6" x2="1017" y2="1122.8" stroke="#000" stroke-width="8.4" stroke-linecap="round"/>
<polygon points="1494.1,490 1502.1,513 1526.4,513.5 1507,528.2 1514.1,551.6 1494.1,537.6 1474,551.6 1481.1,528.2 1461.7,513.5 1486,513" fill="#ff8000"/><circle cx="1494.1" cy="524" r="3.2" fill="#000"/>
<rect x="1042.2" y="1676.4" width="42.9" height="42.9" fill="#ff0000"/><circle cx="1063.6" cy="1697.9" r="3.2" fill="#000"/>
<line x1="1553.3" y1="1291.8" x2="1585.5" y2="1385.8" stroke="#000" stroke-width="8.4" stroke-linecap="round"/>
<polygon points="446.6,809.7 469.7,823.1 469.7,849.8 446.6,863.2 423.4,849.8 423.4,823.1" fill="#ff00ff"/><circle cx="446.6" cy="836.4" r="3.2" fill="#000"/>
<rect x="499" y="1617.2" width="42.9" height="42.9" fill="#ff0000"/><circle cx="520.4" cy="1638.7" r="3.2" fill="#000"/>
<line x1="1032" y1="1369.5" x2="1044.4" y2="1406.5" stroke="#000" stroke-width="8.4" stroke-linecap="round"/>
<polygon points="430.9,612 438.9,635.1 463.3,635.6 443.9,650.4 451,673.7 430.9,659.8 410.9,673.7 417.9,650.4 398.5,635.6 422.9,635.1" fill="#ff8000"/><circle cx="430.9" cy="646.2" r="3.2" fill="#000"/>
<line x1="1494.1" y1="524" x2="1511.3" y2="578.9" stroke="#000" stroke-width="8.4" stroke-linecap="round"/>
<circle cx="492" cy="1290.8" r="24.7" fill="#00ff00"/><circle cx="492" cy="1290.8" r="3.2" fill="#000"/>
<polygon points="1542.1,939.9 1565.3,953.3 1565.3,980 1542.1,993.4 1518.9,980 1518.9,953.3" fill="#ff00ff"/><circle cx="1542.1" cy="966.6" r="3.2" fill="#000"/>
<line x1="970.6" y1="740.7" x2="997.5" y2="795.5" stroke="#000" stroke-width="8.4" stroke-linecap="round"/>
<line x1="1063.6" y1="1697.9" x2="1079" y2="1728.9" stroke="#000" stroke-width="8.4" stroke-linecap="round"/>
<polygon points="1017,1091.4 1045,1138.4 989,1138.4" fill="#0000ff"/><circle cx="1017" cy="1122.8" r="3.2" fill="#000"/>
<polygon points="472.2,1031.6 500.2,1078.6 444.2,1078.6" fill="#0000ff"/><circle cx="472.2" cy="1062.9" r="3.2" fill="#000"/>
<circle cx="1044.4" cy="1406.5" r="24.8" fill="#00ff00"/><circle cx="1044.4" cy="1406.5" r="3.2" fill="#000"/>
<line x1="520.4" y1="1638.7" x2="535.9" y2="1672" stroke="#000" stroke-width="8.4" stroke-linecap="round"/>
<polygon points="1511.3,544.7 1519.4,567.9 1543.9,568.4 1524.4,583.2 1531.5,606.6 1511.3,592.6 1491.2,606.6 1498.3,583.2 1478.8,568.4 1503.3,567.9" fill="#ff8000"/><circle cx="1511.3" cy="578.9" r="3.2" fill="#000"/>
<polygon points="1585.5,1354.4 1613.5,1401.5 1557.5,1401.5" fill="#0000ff"/><circle cx="1585.5" cy="1385.8" r="3.2" fill="#000"/>
<line x1="951.1" y1="485.3" x2="970" y2="445.6" stroke="#000" stroke-width="8.4" stroke-linecap="round"/>
<line x1="2029.7" y1="594.2" x2="2073.5" y2="522.5" stroke="#000" stroke-width="8.4" stroke-linecap="round"/>
<line x1="1542.1" y1="966.6" x2="1560" y2="1011" stroke="#000" stroke-width="8.5" stroke-linecap="round"/>
<line x1="1017" y1="1122.8" x2="1032.1" y2="1176.4" stroke="#000" stroke-width="8.5" stroke-linecap="round"/>
<line x1="430.9" y1="646.2" x2="441" y2="608.5" stroke="#000" stroke-width="8.5" stroke-linecap="round"/>
<rect x="1057.4" y="1707.3" width="43.1" height="43.1" fill="#ff0000"/><circle cx="1079" cy="1728.9" r="3.2" fill="#000"/>
<line x1="1044.4" y1="1406.5" x2="1064.1" y2="1470.4" stroke="#000" stroke-width="8.5" stroke-linecap="round"/>
<line x1="1511.3" y1="578.9" x2="1526" y2="605.8" stroke="#000" stroke-width="8.5" stroke-linecap="round"/>
<line x1="446.6" y1="836.4" x2="466" y2="805.9" stroke="#000" stroke-width="8.5" stroke-linecap="round"/>
<polygon points="1032.1,1144.9 1060.3,1192.1 1004,1192.1" fill="#0000ff"/><circle cx="1032.1" cy="1176.4" r="3.2" fill="#000"/>
<polygon points="1560,984 1583.3,997.5 1583.3,1024.4 1560,1037.9 1536.7,1024.4 1536.7,997.5" fill="#ff00ff"/><circle cx="1560" cy="1011" r="3.2" fill="#000"/>
<polygon points="997.5,768.6 1020.9,782 1020.9,809 997.5,822.4 974.2,809 974.2,782" fill="#ff00ff"/><circle cx="997.5" cy="795.5" r="3.2" fill="#000"/>
<line x1="472.2" y1="1062.9" x2="486.6" y2="1060.3" stroke="#000" stroke-width="8.5" stroke-linecap="round"/>
<rect x="514.3" y="1650.4" width="43.2" height="43.2" fill="#ff0000"/><circle cx="535.9" cy="1672" r="3.2" fill="#000"/>
<line x1="492" y1="1290.8" x2="513.5" y2="1328.5" stroke="#000" stroke-width="8.5" stroke-linecap="round"/>
<polygon points="1526,571.4 1534.1,594.7 1558.7,595.2 1539.1,610 1546.2,633.6 1526,619.5 1505.8,633.6 1512.9,610 1493.3,595.2 1517.9,594.7" fill="#ff8000"/><circle cx="1526" cy="605.8" r="3.2" fill="#000"/>
<line x1="1032.1" y1="1176.4" x2="1044.6" y2="1220.8" stroke="#000" stroke-width="8.5" stroke-linecap="round"/>
<circle cx="1064.1" cy="1470.4" r="24.9" fill="#00ff00"/><circle cx="1064.1" cy="1470.4" r="3.2" fill="#000"/>
<polygon points="441,574.1 449,597.3 473.7,597.8 454,612.7 461.2,636.3 441,622.2 420.7,636.3 427.9,612.7 408.2,597.8 432.9,597.3" fill="#ff8000"/><circle cx="441" cy="608.5" r="3.2" fill="#000"/>
<polygon points="970,411.2 978.1,434.4 1002.7,434.9 983.1,449.8 990.2,473.4 970,459.3 949.7,473.4 956.9,449.8 937.2,434.9 961.9,434.4" fill="#ff8000"/><circle cx="970" cy="445.6" r="3.2" fill="#8000ff"/>
<line x1="997.5" y1="795.5" x2="1017" y2="858.5" stroke="#000" stroke-width="8.5" stroke-linecap="round"/>
<line x1="1079" y1="1728.9" x2="1107.4" y2="1783" stroke="#000" stroke-width="8.5" stroke-linecap="round"/>
<line x1="535.9" y1="1672" x2="548.2" y2="1699.2" stroke="#000" stroke-width="8.5" stroke-linecap="round"/>
<polygon points="1044.6,1189.1 1072.8,1236.6 1016.4,1236.6" fill="#0000ff"/><circle cx="1044.6" cy="1220.8" r="3.2" fill="#000"/>
<line x1="1064.1" y1="1470.4" x2="1079.6" y2="1525.1" stroke="#000" stroke-width="8.5" stroke-linecap="round"/>
<polygon points="486.6,1028.7 514.9,1076.1 458.4,1076.1" fill="#0000ff"/><circle cx="486.6" cy="1060.3" r="3.2" fill="#000"/>
<polygon points="2073.5,488 2081.6,511.4 2106.3,511.9 2086.6,526.8 2093.8,550.5 2073.5,536.3 2053.2,550.5 2060.3,526.8 2040.7,511.9 2065.4,511.4" fill="#ff8000"/><circle cx="2073.5" cy="522.5" r="3.2" fill="#000"/>
<line x1="1526" y1="605.8" x2="1549.7" y2="636.9" stroke="#000" stroke-width="8.5" stroke-linecap="round"/>
<line x1="1560" y1="1011" x2="1593.4" y2="1074" stroke="#000" stroke-width="8.5" stroke-linecap="round"/>
<circle cx="513.5" cy="1328.5" r="25" fill="#00ff00"/><circle cx="513.5" cy="1328.5" r="3.2" fill="#000"/>
<polygon points="1017,831.4 1040.5,845 1040.5,872.1 1017,885.6 993.6,872.1 993.6,845" fill="#ff00ff"/><circle cx="1017" cy="858.5" r="3.2" fill="#000"/>
<polygon points="466,778.8 489.5,792.3 489.5,819.5 466,833 442.6,819.5 442.6,792.3" fill="#ff00ff"/><circle cx="466" cy="805.9" r="3.2" fill="#000"/>
<rect x="526.4" y="1677.5" width="43.5" height="43.5" fill="#ff0000"/><circle cx="548.2" cy="1699.2" r="3.2" fill="#000"/>
<line x1="1044.6" y1="1220.8" x2="1064.5" y2="1291" stroke="#000" stroke-width="8.6" stroke-linecap="round"/>
<circle cx="1079.6" cy="1525.1" r="25" fill="#00ff00"/><circle cx="1079.6" cy="1525.1" r="3.2" fill="#000"/>
<line x1="970" y1="445.6" x2="997.3" y2="504.7" stroke="#000" stroke-width="8.6" stroke-linecap="round"/>
<line x1="1017" y1="858.5" x2="1032.3" y2="911.2" stroke="#000" stroke-width="8.6" stroke-linecap="round"/>
<polygon points="1549.7,602.2 1557.8,625.7 1582.6,626.2 1562.8,641.2 1570,664.9 1549.7,650.7 1529.3,664.9 1536.5,641.2 1516.7,626.2 1541.5,625.7" fill="#ff8000"/><circle cx="1549.7" cy="636.9" r="3.2" fill="#000"/>
<rect x="1085.6" y="1761.2" width="43.6" height="43.6" fill="#ff0000"/><circle cx="1107.4" cy="1783" r="3.2" fill="#000"/>
<line x1="548.2" y1="1699.2" x2="558.3" y2="1726.2" stroke="#000" stroke-width="8.6" stroke-linecap="round"/>
<line x1="513.5" y1="1328.5" x2="529.7" y2="1383.2" stroke="#000" stroke-width="8.6" stroke-linecap="round"/>
<polygon points="1064.5,1259.2 1092.9,1306.9 1036.1,1306.9" fill="#0000ff"/><circle cx="1064.5" cy="1291" r="3.2" fill="#000"/>
<line x1="486.6" y1="1060.3" x2="508.8" y2="1115.8" stroke="#000" stroke-width="8.6" stroke-linecap="round"/>
<polygon points="1593.4,1046.8 1617,1060.4 1617,1087.6 1593.4,1101.2 1569.8,1087.6 1569.8,1060.4" fill="#ff00ff"/><circle cx="1593.4" cy="1074" r="3.2" fill="#000"/>
<line x1="441" y1="608.5" x2="459.3" y2="522.7" stroke="#000" stroke-width="8.6" stroke-linecap="round"/>
<polygon points="1032.3,883.9 1055.9,897.6 1055.9,924.8 1032.3,938.4 1008.7,924.8 1008.7,897.6" fill="#ff00ff"/><circle cx="1032.3" cy="911.2" r="3.2" fill="#000"/>
<rect x="536.5" y="1704.3" width="43.7" height="43.7" fill="#ff0000"/><circle cx="558.3" cy="1726.2" r="3.2" fill="#000"/>
<line x1="466" y1="805.9" x2="480.2" y2="783.1" stroke="#000" stroke-width="8.6" stroke-linecap="round"/>
<line x1="1079.6" y1="1525.1" x2="1108.1" y2="1617.5" stroke="#000" stroke-width="8.6" stroke-linecap="round"/>
<polygon points="997.3,469.9 1005.5,493.4 1030.4,493.9 1010.5,509 1017.7,532.8 997.3,518.6 976.9,532.8 984.1,509 964.2,493.9 989.1,493.4" fill="#ff8000"/><circle cx="997.3" cy="504.7" r="3.2" fill="#000"/>
<line x1="1064.5" y1="1291" x2="1080" y2="1349.3" stroke="#000" stroke-width="8.6" stroke-linecap="round"/>
<line x1="1549.7" y1="636.9" x2="1568.9" y2="637.2" stroke="#000" stroke-width="8.6" stroke-linecap="round"/>
<circle cx="529.7" cy="1383.2" r="25.2" fill="#00ff00"/><circle cx="529.7" cy="1383.2" r="3.2" fill="#000"/>
<line x1="1032.3" y1="911.2" x2="1044.9" y2="956.3" stroke="#000" stroke-width="8.6" stroke-linecap="round"/>
<polygon points="1080,1317.4 1108.6,1365.3 1051.5,1365.3" fill="#0000ff"/><circle cx="1080" cy="1349.3" r="3.2" fill="#000"/>
<polygon points="1044.9,929 1068.6,942.7 1068.6,970 1044.9,983.7 1021.2,970 1021.2,942.7" fill="#ff00ff"/><circle cx="1044.9" cy="956.3" r="3.2" fill="#000"/>
<line x1="558.3" y1="1726.2" x2="574.6" y2="1766.9" stroke="#000" stroke-width="8.7" stroke-linecap="round"/>
<polygon points="508.8,1083.8 537.3,1131.8 480.2,1131.8" fill="#0000ff"/><circle cx="508.8" cy="1115.8" r="3.2" fill="#000"/>
<line x1="997.3" y1="504.7" x2="1017" y2="562.8" stroke="#000" stroke-width="8.7" stroke-linecap="round"/>
<line x1="529.7" y1="1383.2" x2="542.5" y2="1429.4" stroke="#000" stroke-width="8.7" stroke-linecap="round"/>
<polygon points="1568.9,602.4 1577.1,626 1602,626.5 1582.1,641.6 1589.4,665.5 1568.9,651.2 1548.3,665.5 1555.6,641.6 1535.7,626.5 1560.6,626" fill="#ff8000"/><circle cx="1568.9" cy="637.2" r="3.2" fill="#000"/>
<circle cx="1108.1" cy="1617.5" r="25.3" fill="#00ff00"/><circle cx="1108.1" cy="1617.5" r="3.2" fill="#000"/>
<polygon points="480.2,755.7 503.9,769.4 503.9,796.7 480.2,810.4 456.5,796.7 456.5,769.4" fill="#ff00ff"/><circle cx="480.2" cy="783.1" r="3.3" fill="#000"/>
<circle cx="542.5" cy="1429.4" r="25.3" fill="#00ff00"/><circle cx="542.5" cy="1429.4" r="3.3" fill="#000"/>
<polygon points="459.3,487.7 467.5,511.4 492.6,511.9 472.6,527 479.9,551 459.3,536.7 438.7,551 446,527 426,511.9 451.1,511.4" fill="#ff8000"/><circle cx="459.3" cy="522.7" r="3.3" fill="#000"/>
<line x1="1044.9" y1="956.3" x2="1065.1" y2="1015.5" stroke="#000" stroke-width="8.7" stroke-linecap="round"/>
<line x1="508.8" y1="1115.8" x2="525.2" y2="1176" stroke="#000" stroke-width="8.7" stroke-linecap="round"/>
<polygon points="1017,527.8 1025.3,551.4 1050.3,551.9 1030.4,567.1 1037.6,591.1 1017,576.8 996.5,591.1 1003.7,567.1 983.7,551.9 1008.8,551.4" fill="#ff8000"/><circle cx="1017" cy="562.8" r="3.3" fill="#000"/>
<rect x="552.6" y="1744.9" width="44.1" height="44.1" fill="#ff0000"/><circle cx="574.6" cy="1766.9" r="3.3" fill="#000"/>
<line x1="1080" y1="1349.3" x2="1108.8" y2="1446.5" stroke="#000" stroke-width="8.7" stroke-linecap="round"/>
<line x1="542.5" y1="1429.4" x2="553" y2="1467.7" stroke="#000" stroke-width="8.7" stroke-linecap="round"/>
<line x1="1017" y1="562.8" x2="1032.5" y2="614.4" stroke="#000" stroke-width="8.7" stroke-linecap="round"/>
<polygon points="1065.1,988 1088.9,1001.7 1088.9,1029.3 1065.1,1043.1 1041.2,1029.3 1041.2,1001.7" fill="#ff00ff"/><circle cx="1065.1" cy="1015.5" r="3.3" fill="#000"/>
<line x1="480.2" y1="783.1" x2="502.6" y2="839.8" stroke="#000" stroke-width="8.8" stroke-linecap="round"/>
<line x1="574.6" y1="1766.9" x2="587.4" y2="1799.2" stroke="#000" stroke-width="8.8" stroke-linecap="round"/>
<polygon points="525.2,1143.8 554,1192.1 496.4,1192.1" fill="#0000ff"/><circle cx="525.2" cy="1176" r="3.3" fill="#000"/>
<circle cx="553" cy="1467.7" r="25.4" fill="#00ff00"/><circle cx="553" cy="1467.7" r="3.3" fill="#000"/>
<polygon points="1108.8,1414.2 1137.6,1462.6 1080,1462.6" fill="#0000ff"/><circle cx="1108.8" cy="1446.5" r="3.3" fill="#000"/>
<line x1="1568.9" y1="637.2" x2="1606.3" y2="565.4" stroke="#000" stroke-width="8.8" stroke-linecap="round"/>
<polygon points="1032.5,579.2 1040.8,603 1066,603.5 1045.9,618.7 1053.2,642.8 1032.5,628.4 1011.9,642.8 1019.1,618.7 999.1,603.5 1024.3,603" fill="#ff8000"/><circle cx="1032.5" cy="614.4" r="3.3" fill="#000"/>
<line x1="459.3" y1="522.7" x2="473.2" y2="479.9" stroke="#000" stroke-width="8.8" stroke-linecap="round"/>
<line x1="1065.1" y1="1015.5" x2="1080.9" y2="1061.3" stroke="#000" stroke-width="8.8" stroke-linecap="round"/>
<line x1="525.2" y1="1176" x2="538.3" y2="1231.4" stroke="#000" stroke-width="8.8" stroke-linecap="round"/>
<rect x="565.2" y="1777.1" width="44.3" height="44.3" fill="#ff0000"/><circle cx="587.4" cy="1799.2" r="3.3" fill="#000"/>
<line x1="553" y1="1467.7" x2="569.9" y2="1533.8" stroke="#000" stroke-width="8.8" stroke-linecap="round"/>
<line x1="1032.5" y1="614.4" x2="1045.3" y2="640.1" stroke="#000" stroke-width="8.8" stroke-linecap="round"/>
<polygon points="538.3,1199 567.2,1247.6 509.4,1247.6" fill="#0000ff"/><circle cx="538.3" cy="1231.4" r="3.3" fill="#000"/>
<polygon points="1080.9,1033.6 1104.8,1047.5 1104.8,1075.2 1080.9,1089 1056.9,1075.2 1056.9,1047.5" fill="#ff00ff"/><circle cx="1080.9" cy="1061.3" r="3.3" fill="#000"/>
<polygon points="502.6,812.1 526.6,826 526.6,853.7 502.6,867.5 478.6,853.7 478.6,826" fill="#ff00ff"/><circle cx="502.6" cy="839.8" r="3.3" fill="#000"/>
<polygon points="1045.3,604.8 1053.6,628.7 1078.9,629.2 1058.8,644.5 1066.1,668.7 1045.3,654.3 1024.5,668.7 1031.9,644.5 1011.7,629.2 1037,628.7" fill="#ff8000"/><circle cx="1045.3" cy="640.1" r="3.3" fill="#000"/>
<line x1="538.3" y1="1231.4" x2="549.1" y2="1277.2" stroke="#000" stroke-width="8.8" stroke-linecap="round"/>
<circle cx="569.9" cy="1533.8" r="25.6" fill="#00ff00"/><circle cx="569.9" cy="1533.8" r="3.3" fill="#000"/>
<polygon points="473.2,444.6 481.5,468.5 506.8,469 486.6,484.3 493.9,508.6 473.2,494.1 452.4,508.6 459.7,484.3 439.5,469 464.8,468.5" fill="#ff8000"/><circle cx="473.2" cy="479.9" r="3.3" fill="#8000ff"/>
<line x1="502.6" y1="839.8" x2="519.3" y2="904.9" stroke="#000" stroke-width="8.9" stroke-linecap="round"/>
<line x1="587.4" y1="1799.2" x2="611" y2="1855.7" stroke="#000" stroke-width="8.9" stroke-linecap="round"/>
<polygon points="549.1,1244.7 578.1,1293.5 520.1,1293.5" fill="#0000ff"/><circle cx="549.1" cy="1277.2" r="3.3" fill="#000"/>
<polygon points="1606.3,529.9 1614.6,553.9 1640,554.4 1619.8,569.7 1627.1,594.1 1606.3,579.6 1585.4,594.1 1592.8,569.7 1572.5,554.4 1597.9,553.9" fill="#ff8000"/><circle cx="1606.3" cy="565.4" r="3.3" fill="#000"/>
<line x1="569.9" y1="1533.8" x2="583.3" y2="1590.4" stroke="#000" stroke-width="8.9" stroke-linecap="round"/>
<line x1="1080.9" y1="1061.3" x2="1110.1" y2="1126.7" stroke="#000" stroke-width="8.9" stroke-linecap="round"/>
<line x1="1045.3" y1="640.1" x2="1065.8" y2="676.1" stroke="#000" stroke-width="8.9" stroke-linecap="round"/>
<polygon points="519.3,877 543.5,891 543.5,918.9 519.3,932.8 495.2,918.9 495.2,891" fill="#ff00ff"/><circle cx="519.3" cy="904.9" r="3.3" fill="#000"/>
<line x1="549.1" y1="1277.2" x2="566.3" y2="1349.9" stroke="#000" stroke-width="8.9" stroke-linecap="round"/>
<circle cx="583.3" cy="1590.4" r="25.7" fill="#00ff00"/><circle cx="583.3" cy="1590.4" r="3.3" fill="#000"/>
<line x1="473.2" y1="479.9" x2="496" y2="544.8" stroke="#000" stroke-width="8.9" stroke-linecap="round"/>
<line x1="519.3" y1="904.9" x2="532.5" y2="959.3" stroke="#000" stroke-width="8.9" stroke-linecap="round"/>
<polygon points="1065.8,640.5 1074.2,664.6 1099.7,665.1 1079.3,680.5 1086.7,704.9 1065.8,690.4 1044.8,704.9 1052.2,680.5 1031.9,665.1 1057.4,664.6" fill="#ff8000"/><circle cx="1065.8" cy="676.1" r="3.3" fill="#000"/>
<rect x="588.5" y="1833.3" width="44.8" height="44.8" fill="#ff0000"/><circle cx="611" cy="1855.7" r="3.3" fill="#000"/>
<polygon points="566.3,1317.2 595.5,1366.2 537.1,1366.2" fill="#0000ff"/><circle cx="566.3" cy="1349.9" r="3.3" fill="#000"/>
<polygon points="1110.1,1098.7 1134.3,1112.7 1134.3,1140.7 1110.1,1154.7 1085.9,1140.7 1085.9,1112.7" fill="#ff00ff"/><circle cx="1110.1" cy="1126.7" r="3.3" fill="#000"/>
<polygon points="532.5,931.3 556.8,945.3 556.8,973.3 532.5,987.3 508.3,973.3 508.3,945.3" fill="#ff00ff"/><circle cx="532.5" cy="959.3" r="3.3" fill="#000"/>
<line x1="583.3" y1="1590.4" x2="607.8" y2="1686" stroke="#000" stroke-width="9" stroke-linecap="round"/>
<polygon points="496,509.1 504.4,533.3 530,533.8 509.6,549.2 517.1,573.8 496,559.1 475,573.8 482.4,549.2 462,533.8 487.6,533.3" fill="#ff8000"/><circle cx="496" cy="544.8" r="3.3" fill="#000"/>
<line x1="566.3" y1="1349.9" x2="579.8" y2="1410.1" stroke="#000" stroke-width="9" stroke-linecap="round"/>
<line x1="1065.8" y1="676.1" x2="1081.9" y2="677.8" stroke="#000" stroke-width="9" stroke-linecap="round"/>
<line x1="532.5" y1="959.3" x2="543.5" y2="1006" stroke="#000" stroke-width="9" stroke-linecap="round"/>
<polygon points="579.8,1377.2 609.2,1426.5 550.5,1426.5" fill="#0000ff"/><circle cx="579.8" cy="1410.1" r="3.3" fill="#000"/>
<polygon points="543.5,977.8 567.8,991.9 567.8,1020 543.5,1034.1 519.1,1020 519.1,991.9" fill="#ff00ff"/><circle cx="543.5" cy="1006" r="3.3" fill="#000"/>
<line x1="496" y1="544.8" x2="512.9" y2="605.4" stroke="#000" stroke-width="9" stroke-linecap="round"/>
<polygon points="1081.9,641.9 1090.4,666.2 1116.1,666.7 1095.6,682.2 1103,706.8 1081.9,692.2 1060.8,706.8 1068.3,682.2 1047.8,666.7 1073.5,666.2" fill="#ff8000"/><circle cx="1081.9" cy="677.8" r="3.3" fill="#000"/>
<circle cx="607.8" cy="1686" r="26" fill="#00ff00"/><circle cx="607.8" cy="1686" r="3.3" fill="#000"/>
<line x1="543.5" y1="1006" x2="560.6" y2="1067.2" stroke="#000" stroke-width="9.1" stroke-linecap="round"/>
<polygon points="512.9,569.4 521.3,593.7 547.1,594.2 526.6,609.8 534,634.5 512.9,619.8 491.7,634.5 499.2,609.8 478.6,594.2 504.4,593.7" fill="#ff8000"/><circle cx="512.9" cy="605.4" r="3.4" fill="#000"/>
<line x1="579.8" y1="1410.1" x2="604.6" y2="1510.6" stroke="#000" stroke-width="9.1" stroke-linecap="round"/>
<line x1="512.9" y1="605.4" x2="526.2" y2="658.3" stroke="#000" stroke-width="9.1" stroke-linecap="round"/>
<polygon points="560.6,1038.9 585.2,1053 585.2,1081.3 560.6,1095.5 536.1,1081.3 536.1,1053" fill="#ff00ff"/><circle cx="560.6" cy="1067.2" r="3.4" fill="#000"/>
<polygon points="526.2,622.1 534.7,646.6 560.6,647.1 540,662.8 547.5,687.6 526.2,672.8 504.9,687.6 512.4,662.8 491.8,647.1 517.7,646.6" fill="#ff8000"/><circle cx="526.2" cy="658.3" r="3.4" fill="#000"/>
<line x1="1081.9" y1="677.8" x2="1112.2" y2="609.2" stroke="#000" stroke-width="9.1" stroke-linecap="round"/>
<polygon points="604.6,1477.5 634.2,1527.2 575,1527.2" fill="#0000ff"/><circle cx="604.6" cy="1510.6" r="3.4" fill="#000"/>
<line x1="560.6" y1="1067.2" x2="574.1" y2="1114.6" stroke="#000" stroke-width="9.1" stroke-linecap="round"/>
<line x1="526.2" y1="658.3" x2="536.9" y2="690.1" stroke="#000" stroke-width="9.2" stroke-linecap="round"/>
<polygon points="574.1,1086.1 598.8,1100.4 598.8,1128.8 574.1,1143.1 549.4,1128.8 549.4,1100.4" fill="#ff00ff"/><circle cx="574.1" cy="1114.6" r="3.4" fill="#000"/>
<polygon points="536.9,653.8 545.5,678.3 571.5,678.9 550.8,694.6 558.3,719.5 536.9,704.7 515.6,719.5 523.1,694.6 502.4,678.9 528.4,678.3" fill="#ff8000"/><circle cx="536.9" cy="690.1" r="3.4" fill="#000"/>
<polygon points="1112.2,572.7 1120.8,597.4 1146.9,597.9 1126.1,613.7 1133.7,638.7 1112.2,623.8 1090.8,638.7 1098.3,613.7 1077.5,597.9 1103.6,597.4" fill="#ff8000"/><circle cx="1112.2" cy="609.2" r="3.4" fill="#000"/>
<line x1="536.9" y1="690.1" x2="553.8" y2="723.9" stroke="#000" stroke-width="9.2" stroke-linecap="round"/>
<line x1="574.1" y1="1114.6" x2="598.6" y2="1182.5" stroke="#000" stroke-width="9.2" stroke-linecap="round"/>
<polygon points="553.8,687.3 562.4,712.1 588.6,712.6 567.7,728.5 575.3,753.6 553.8,738.6 532.2,753.6 539.8,728.5 518.9,712.6 545.2,712.1" fill="#ff8000"/><circle cx="553.8" cy="723.9" r="3.4" fill="#000"/>
<polygon points="598.6,1153.7 623.5,1168.1 623.5,1196.9 598.6,1211.3 573.6,1196.9 573.6,1168.1" fill="#ff00ff"/><circle cx="598.6" cy="1182.5" r="3.4" fill="#000"/>
<line x1="553.8" y1="723.9" x2="566.6" y2="730.1" stroke="#000" stroke-width="9.3" stroke-linecap="round"/>
<polygon points="566.6,693.1 575.3,718.1 601.7,718.6 580.7,734.6 588.3,759.9 566.6,744.8 544.9,759.9 552.6,734.6 531.5,718.6 557.9,718.1" fill="#ff8000"/><circle cx="566.6" cy="730.1" r="3.4" fill="#000"/>
<line x1="566.6" y1="730.1" x2="588.9" y2="655.7" stroke="#000" stroke-width="9.5" stroke-linecap="round"/>
<polygon points="588.9,618.1 597.7,643.5 624.6,644.1 603.2,660.3 611,686.1 588.9,670.7 566.8,686.1 574.6,660.3 553.2,644.1 580,643.5" fill="#ff8000"/><circle cx="588.9" cy="655.7" r="3.5" fill="#000"/>
</g>
<g opacity="0.55">
<line x1="1611.6" y1="1381.9" x2="1645.1" y2="112.3" stroke="#d6d6d6" stroke-width="1.8" stroke-linecap="butt"/>
<line x1="1785.9" y1="1518.8" x2="1832.1" y2="175.7" stroke="#d6d6d6" stroke-width="1.8" stroke-linecap="butt"/>
<line x1="1982.8" y1="1673.4" x2="2044.8" y2="247.8" stroke="#d6d6d6" stroke-width="1.8" stroke-linecap="butt"/>
<line x1="1467.5" y1="673.5" x2="2063.8" y2="1011.6" stroke="#d6d6d6" stroke-width="1.8" stroke-linecap="butt"/>
</g>
<polygon points="2092,265.6 2026.2,1711.5 2037.3,1712.1 2103.8,266.1" fill="#000"/>
<circle cx="2097.9" cy="265.8" r="5.9" fill="#000"/><circle cx="2031.7" cy="1711.8" r="5.6" fill="#000"/>
<line x1="229" y1="177.6" x2="296" y2="174.4" stroke="#000" stroke-width="10" stroke-linecap="butt"/>
<line x1="340" y1="172.3" x2="412.7" y2="168.9" stroke="#000" stroke-width="10" stroke-linecap="butt"/>
<line x1="492.4" y1="165" x2="560" y2="161.6" stroke="#000" stroke-width="10" stroke-linecap="butt"/>
<line x1="608" y1="159.3" x2="677" y2="156" stroke="#000" stroke-width="10" stroke-linecap="butt"/>
<line x1="758.7" y1="152" x2="828" y2="148.6" stroke="#000" stroke-width="10" stroke-linecap="butt"/>
<line x1="873" y1="146.4" x2="943" y2="143" stroke="#000" stroke-width="10" stroke-linecap="butt"/>
<line x1="1024.7" y1="139" x2="1091" y2="135.7" stroke="#000" stroke-width="10" stroke-linecap="butt"/>
<line x1="1141" y1="133.3" x2="1211" y2="129.9" stroke="#000" stroke-width="10" stroke-linecap="butt"/>
<line x1="1288.7" y1="126" x2="1355" y2="122.8" stroke="#000" stroke-width="10" stroke-linecap="butt"/>
<line x1="1409" y1="120.2" x2="1479" y2="116.8" stroke="#000" stroke-width="10" stroke-linecap="butt"/>
<rect x="294.2" y="148.6" width="47.8" height="47.8" fill="#ff0000"/>
<circle cx="584" cy="159.4" r="24.5" fill="#00ff00"/>
<polygon points="849.7,112.5 880,163.3 819.5,163.3" fill="#0000ff"/>
<polygon points="1115.4,104.4 1140.3,118.8 1140.3,147.6 1115.4,161.9 1090.5,147.6 1090.5,118.8" fill="#ff00ff"/>
<polygon points="1380.6,82.5 1389.4,107.9 1416.3,108.4 1394.9,124.6 1402.6,150.3 1380.6,135 1358.6,150.3 1366.3,124.6 1344.9,108.4 1371.8,107.9" fill="#ff8000"/>
<text x="426.3" y="183" font-size="60" transform="rotate(-1.2 426.3 183)" stroke-width="1.8">01</text>
<text x="690.8" y="170.3" font-size="60" transform="rotate(-1.2 690.8 170.3)" stroke-width="1.8">05</text>
<text x="955.7" y="155.3" font-size="60" transform="rotate(-1.2 955.7 155.3)" stroke-width="1.8">10</text>
<text x="1219.2" y="143.6" font-size="60" transform="rotate(-1.2 1219.2 143.6)" stroke-width="1.8">20</text>
<text x="1486.9" y="128" font-size="60" transform="rotate(-1.2 1486.9 128)" stroke-width="1.8">40</text>
<text x="90.9" y="122.3" font-size="58.7" stroke-width="1.2">10</text>
<text x="157.1" y="97.1" font-size="41.3" stroke-width="1.2">2</text>
<text x="118.4" y="782.6" font-size="56.4" stroke-width="1.2">10</text>
<text x="180.6" y="759.5" font-size="38" stroke-width="1.2">1</text>
<text x="141.8" y="1407.2" font-size="55.9" stroke-width="1.2">10</text>
<text x="206.6" y="1383.7" font-size="34.6" stroke-width="1.2">0</text>
<text x="140.8" y="1465.4" font-size="54.5" stroke-width="1.6">0.01</text>
<text x="263.5" y="1611.7" font-size="54.6">0.1</text>
<text x="415.8" y="1778.1" font-size="63">1</text>
<text x="498.9" y="1969.1" font-size="68.6">10</text>
<text x="572.3" y="2043.8" font-size="67.5">0.0</text>
<text x="1069.8" y="1966.6" font-size="66.8">0.2</text>
<text x="1540.2" y="1893.7" font-size="65">0.4</text>
<text x="1987.5" y="1823.2" font-size="62.4">0.6</text>
<rect x="200.6" y="448.1" width="241.9" height="70.4" fill="#fff"/>
<text x="224.2" y="503.5" font-size="60.4" stroke-width="1.8">55.3235</text>
<text x="728" y="470.3" font-size="58.8" stroke-width="1.8">55.2589</text>
<text x="1205.4" y="436.1" font-size="57.7" stroke-width="1.8">55.1302</text>
<text x="1658.2" y="405.3" font-size="55.6" stroke-width="1.8">55.0661</text>
<text x="800" y="66.5" font-size="59" transform="rotate(-2.9 800 66.5)">mfp</text>
<text x="89" y="868" font-size="93" transform="rotate(-91.9 89 868)" stroke-width="3">EBF</text>
<text x="232.9" y="1744.2" font-size="77" transform="rotate(55.1 232.9 1744.2)" stroke-width="3" letter-spacing="3">E (MeV)</text>
<text x="1170.5" y="2071" font-size="80" transform="rotate(-8.2 1170.5 2071)" stroke-width="3" letter-spacing="2.2">Sm<tspan font-size="49.6" dy="17.6">2</tspan><tspan dy="-17.6">O</tspan><tspan font-size="49.6" dy="17.6">3</tspan><tspan dy="-17.6"> wt. %</tspan></text>
</svg></body></html>
